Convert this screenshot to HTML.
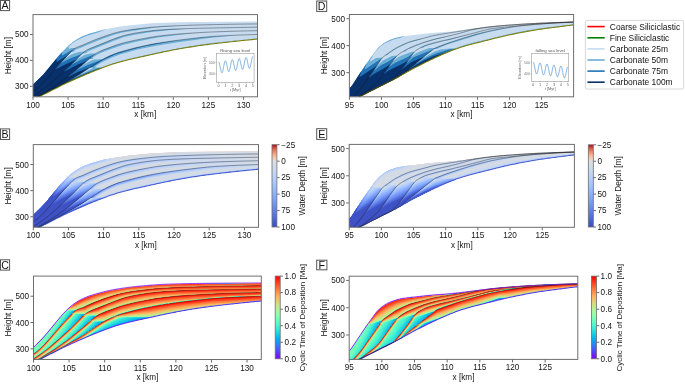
<!DOCTYPE html><html><head><meta charset="utf-8"><style>html,body{margin:0;padding:0;background:#fff;width:685px;height:386px;overflow:hidden}svg{display:block;font-family:"Liberation Sans",sans-serif}text{filter:grayscale(0)}</style></head><body><svg width="685" height="386" viewBox="0 0 685 386" font-family='"Liberation Sans", sans-serif'><defs><clipPath id="clipA"><rect x="33" y="14.6" width="224.5" height="82.2"/></clipPath><clipPath id="clipB"><rect x="33.3" y="144.6" width="225.2" height="82.7"/></clipPath><clipPath id="clipC"><rect x="33.5" y="276.1" width="227.8" height="83.4"/></clipPath><clipPath id="clipD"><rect x="349.4" y="14.5" width="224.2" height="82.3"/></clipPath><clipPath id="clipE"><rect x="349.2" y="144.4" width="225.2" height="82.9"/></clipPath><clipPath id="clipF"><rect x="349.2" y="276.2" width="228.6" height="83.2"/></clipPath></defs><rect width="685" height="386" fill="#fff"/><g clip-path="url(#clipA)"><path fill="#c6dbef" d="M257.38 21.38 191.38 21.88 153.88 23.12 133.38 24.88 119.88 26.62 103.88 29.62 88.88 33.88 79.38 37.88 72.62 42.12 68.62 45.38 60.38 53.88 45.38 72.12 40.38 77.62 33.12 84.62 33.12 96.62 39.38 96.62 61.62 85.12 86.62 73.88 107.62 65.62 123.88 60.62 165.12 51.38 189.62 46.88 216.88 43.12 249.12 39.62 257.12 39.12Z"/><path fill="#6baed6" d="M257.38 38.38 211.62 43.12 195.12 45.38 177.38 48.38 157.38 52.38 128.38 58.88 115.38 62.38 101.12 67.38 95.38 67.62 95.12 67.38 96.12 65.88 100.38 63.12 110.62 57.88 119.88 54.38 137.38 49.62 154.88 45.88 176.12 42.38 209.12 37.88 234.38 35.38 213.62 36.38 200.12 37.62 171.62 41.12 152.88 44.12 135.12 47.88 117.88 52.62 108.12 56.62 103.88 58.88 94.12 59.38 89.38 61.38 81.88 65.62 81.62 65.38 88.88 59.12 92.88 58.88 92.88 57.62 96.62 54.88 104.12 51.38 122.62 44.88 137.12 41.38 157.88 37.38 182.12 34.38 198.62 32.88 180.88 33.88 160.38 35.88 150.12 37.38 129.88 41.38 121.88 43.38 114.88 45.62 102.88 50.12 96.12 53.38 90.62 53.38 84.62 55.12 81.88 56.38 76.12 60.12 75.88 59.88 82.12 53.38 86.62 53.12 87.38 51.62 113.38 40.88 123.88 37.12 135.88 34.38 151.38 31.88 170.88 29.88 186.12 28.88 173.62 29.12 152.88 30.62 139.88 32.38 126.62 34.88 119.12 37.12 109.62 40.62 89.88 48.62 84.62 51.62 78.88 51.88 73.88 53.38 70.62 54.88 65.12 58.62 64.62 58.38 70.88 51.88 74.38 51.62 74.38 50.62 74.88 50.12 77.38 48.88 81.38 47.62 87.12 44.88 99.38 39.88 114.62 34.62 122.38 32.62 138.38 29.88 156.12 27.62 178.12 25.88 164.12 26.38 150.62 27.38 135.12 29.12 121.38 31.38 113.62 33.38 100.12 37.88 76.12 47.88 71.12 48.12 69.12 48.88 68.62 48.62 69.12 48.12 68.38 46.88 72.12 43.62 77.38 40.12 86.38 35.88 99.38 32.12 106.62 29.12 100.88 30.38 89.62 33.62 81.88 36.62 76.38 39.62 68.62 45.38 60.38 53.88 43.38 74.38 33.12 84.62 33.12 96.62 39.38 96.62 61.62 85.12 86.62 73.88 107.62 65.62 123.88 60.62 160.38 52.38 186.62 47.38 216.88 43.12 249.12 39.62 257.12 39.12ZM93.12 68.12 81.38 73.88 80.62 73.62 89.62 67.62 92.62 67.62Z"/><path fill="#2171b5" d="M176.62 40.62 152.88 44.12 135.12 47.88 120.38 51.88 110.38 55.62 101.62 60.12 89.12 64.38 76.62 70.12 76.12 69.88 87.88 59.88 89.62 58.62 90.62 58.62 90.62 57.62 94.12 54.62 80.62 60.12 71.62 64.62 71.38 64.38 82.12 53.38 83.88 52.88 83.88 52.12 83.12 52.88 78.12 55.38 71.12 58.12 60.88 63.12 60.88 62.38 71.38 51.38 72.12 51.38 72.12 50.38 73.62 49.12 62.38 55.62 61.88 55.38 62.38 51.88 58.88 55.62 43.38 74.38 33.12 84.62 33.12 96.62 39.38 96.62 67.88 82.12 89.62 72.62 103.38 67.38 98.62 68.12 90.62 70.88 80.12 75.62 74.38 77.88 73.88 77.62 82.38 72.62 89.62 67.62 93.38 67.12 93.88 66.12 102.38 60.62 115.38 54.62 132.12 49.62 146.38 46.12 159.62 43.38Z"/><path fill="#08306b" d="M100.62 68.38 87.12 73.12 67.38 81.62 67.12 81.38 67.62 80.88 79.12 74.62 89.62 67.62 91.62 67.12 91.88 66.38 77.88 71.88 68.62 76.38 68.38 76.12 86.88 60.88 77.88 64.62 64.38 71.38 64.12 71.12 76.38 59.38 65.12 64.38 55.12 69.62 54.88 69.38 58.88 64.62 67.38 55.62 56.62 62.12 56.62 58.38 43.38 74.38 33.12 84.62 33.12 96.62 39.38 96.62 67.88 82.12 86.62 73.88Z"/><path fill="none" stroke="#7d7d05" stroke-width="1.05" d="M33 99.78 34.41 99.08 35.82 98.38 37.24 97.69 38.65 96.99 40.06 96.29 41.47 95.58 42.88 94.86 44.3 94.14 45.71 93.43 47.12 92.71 48.53 92 49.94 91.28 51.36 90.57 52.77 89.85 54.18 89.14 55.59 88.42 57 87.7 58.42 86.98 59.83 86.26 61.24 85.56 62.65 84.87 64.06 84.18 65.47 83.5 66.89 82.83 68.3 82.18 69.71 81.54 71.12 80.91 72.53 80.29 73.95 79.67 75.36 79.05 76.77 78.42 78.18 77.79 79.59 77.16 81.01 76.54 82.42 75.92 83.83 75.31 85.24 74.71 86.65 74.11 88.07 73.52 89.48 72.93 90.89 72.34 92.3 71.77 93.71 71.19 95.13 70.63 96.54 70.06 97.95 69.5 99.36 68.94 100.77 68.4 102.19 67.86 103.6 67.34 105.01 66.82 106.42 66.31 107.83 65.8 109.25 65.3 110.66 64.81 112.07 64.32 113.48 63.86 114.89 63.4 116.31 62.97 117.72 62.55 119.13 62.14 120.54 61.75 121.95 61.37 123.36 61 124.78 60.64 126.19 60.29 127.6 59.94 129.01 59.6 130.42 59.26 131.84 58.92 133.25 58.6 134.66 58.27 136.07 57.96 137.48 57.65 138.9 57.34 140.31 57.04 141.72 56.73 143.13 56.42 144.54 56.12 145.96 55.8 147.37 55.49 148.78 55.17 150.19 54.85 151.6 54.54 153.02 54.22 154.43 53.9 155.84 53.59 157.25 53.28 158.66 52.98 160.08 52.68 161.49 52.38 162.9 52.08 164.31 51.79 165.72 51.49 167.14 51.2 168.55 50.92 169.96 50.64 171.37 50.36 172.78 50.09 174.19 49.83 175.61 49.57 177.02 49.32 178.43 49.06 179.84 48.81 181.25 48.55 182.67 48.31 184.08 48.06 185.49 47.82 186.9 47.58 188.31 47.34 189.73 47.11 191.14 46.88 192.55 46.65 193.96 46.43 195.37 46.21 196.79 45.99 198.2 45.78 199.61 45.58 201.02 45.38 202.43 45.18 203.85 44.99 205.26 44.8 206.67 44.62 208.08 44.43 209.49 44.26 210.91 44.08 212.32 43.91 213.73 43.74 215.14 43.57 216.55 43.4 217.97 43.24 219.38 43.08 220.79 42.92 222.2 42.76 223.61 42.6 225.03 42.44 226.44 42.29 227.85 42.13 229.26 41.98 230.67 41.82 232.08 41.67 233.5 41.51 234.91 41.36 236.32 41.2 237.73 41.05 239.14 40.9 240.56 40.75 241.97 40.6 243.38 40.45 244.79 40.31 246.2 40.16 247.62 40.02 249.03 39.88 250.44 39.75 251.85 39.61 253.26 39.48 254.68 39.35 256.09 39.23 257.5 39.1"/><path fill="none" stroke="#1a1a1a" stroke-opacity="0.75" stroke-width="0.55" d="M33 99.26 34.41 98.58 35.82 97.92 37.24 97.25 38.65 96.57 40.06 95.87 41.47 95.14 42.88 94.38 44.3 93.61 45.71 92.84 47.12 92.09 48.53 91.35 49.94 90.62 51.36 89.9 52.77 89.17 54.18 88.43 55.59 87.69 57 86.93 58.42 86.18 59.83 85.41 61.24 84.65 62.65 83.87 64.06 83.09 65.47 82.3 66.89 81.51 68.3 80.73 69.71 79.95 71.12 79.18 72.53 78.4 73.95 77.61 75.36 76.81 76.77 76 78.18 75.18 79.59 74.35 81.01 73.5 82.42 72.62 83.83 71.71 85.24 70.77 86.65 69.81 88.07 68.86 89.48 67.91 90.89 66.97 92.3 66.02 93.71 65.07 95.13 64.14 96.54 63.22 97.95 62.3 99.36 61.37 100.77 60.47 102.19 59.62 103.6 58.83 105.01 58.1 106.42 57.41 107.83 56.75 109.25 56.11 110.66 55.49 112.07 54.87 113.48 54.27 114.89 53.7 116.31 53.16 117.72 52.67 119.13 52.22 120.54 51.8 121.95 51.4 123.36 51.01 124.78 50.61 126.19 50.22 127.6 49.84 129.01 49.45 130.42 49.08 131.84 48.71 133.25 48.34 134.66 47.99 136.07 47.65 137.48 47.31 138.9 46.99 140.31 46.68 141.72 46.37 143.13 46.07 144.54 45.77 145.96 45.47 147.37 45.18 148.78 44.9 150.19 44.63 151.6 44.35 153.02 44.09 154.43 43.83 155.84 43.58 157.25 43.33 158.66 43.1 160.08 42.86 161.49 42.64 162.9 42.41 164.31 42.19 165.72 41.98 167.14 41.77 168.55 41.56 169.96 41.36 171.37 41.16 172.78 40.96 174.19 40.76 175.61 40.57 177.02 40.39 178.43 40.2 179.84 40.02 181.25 39.84 182.67 39.67 184.08 39.49 185.49 39.32 186.9 39.16 188.31 38.99 189.73 38.82 191.14 38.66 192.55 38.49 193.96 38.32 195.37 38.16 196.79 38 198.2 37.84 199.61 37.68 201.02 37.52 202.43 37.37 203.85 37.23 205.26 37.08 206.67 36.95 208.08 36.82 209.49 36.69 210.91 36.57 212.32 36.46 213.73 36.36 215.14 36.27 216.55 36.18 217.97 36.1 219.38 36.02 220.79 35.94 222.2 35.86 223.61 35.78 225.03 35.71 226.44 35.64 227.85 35.57 229.26 35.51 230.67 35.44 232.08 35.38 233.5 35.32 234.91 35.26 236.32 35.2 237.73 35.14 239.14 35.08 240.56 35.03 241.97 34.98 243.38 34.92 244.79 34.87 246.2 34.82 247.62 34.77 249.03 34.72 250.44 34.67 251.85 34.63 253.26 34.58 254.68 34.53 256.09 34.48 257.5 34.44"/><path fill="none" stroke="#1a1a1a" stroke-opacity="0.75" stroke-width="0.55" d="M33 98.74 34.41 98.03 35.82 97.31 37.24 96.59 38.65 95.85 40.06 95.09 41.47 94.29 42.88 93.47 44.3 92.63 45.71 91.77 47.12 90.91 48.53 90.05 49.94 89.18 51.36 88.3 52.77 87.39 54.18 86.47 55.59 85.51 57 84.53 58.42 83.53 59.83 82.52 61.24 81.5 62.65 80.48 64.06 79.46 65.47 78.42 66.89 77.36 68.3 76.27 69.71 75.15 71.12 74.01 72.53 72.84 73.95 71.68 75.36 70.52 76.77 69.38 78.18 68.24 79.59 67.1 81.01 65.95 82.42 64.78 83.83 63.58 85.24 62.38 86.65 61.16 88.07 59.96 89.48 58.77 90.89 57.55 92.3 56.31 93.71 55.11 95.13 54.03 96.54 53.13 97.95 52.35 99.36 51.65 100.77 51.01 102.19 50.4 103.6 49.81 105.01 49.26 106.42 48.74 107.83 48.24 109.25 47.74 110.66 47.22 112.07 46.69 113.48 46.15 114.89 45.61 116.31 45.11 117.72 44.64 119.13 44.19 120.54 43.76 121.95 43.34 123.36 42.95 124.78 42.59 126.19 42.24 127.6 41.9 129.01 41.57 130.42 41.25 131.84 40.94 133.25 40.63 134.66 40.34 136.07 40.05 137.48 39.77 138.9 39.49 140.31 39.22 141.72 38.94 143.13 38.67 144.54 38.4 145.96 38.13 147.37 37.87 148.78 37.61 150.19 37.36 151.6 37.12 153.02 36.89 154.43 36.67 155.84 36.45 157.25 36.26 158.66 36.07 160.08 35.9 161.49 35.73 162.9 35.57 164.31 35.41 165.72 35.26 167.14 35.11 168.55 34.97 169.96 34.83 171.37 34.69 172.78 34.56 174.19 34.43 175.61 34.31 177.02 34.19 178.43 34.07 179.84 33.96 181.25 33.85 182.67 33.74 184.08 33.63 185.49 33.53 186.9 33.43 188.31 33.33 189.73 33.24 191.14 33.14 192.55 33.05 193.96 32.96 195.37 32.87 196.79 32.78 198.2 32.7 199.61 32.61 201.02 32.53 202.43 32.45 203.85 32.38 205.26 32.3 206.67 32.23 208.08 32.16 209.49 32.09 210.91 32.03 212.32 31.97 213.73 31.91 215.14 31.85 216.55 31.8 217.97 31.75 219.38 31.7 220.79 31.65 222.2 31.6 223.61 31.55 225.03 31.5 226.44 31.46 227.85 31.41 229.26 31.37 230.67 31.32 232.08 31.28 233.5 31.24 234.91 31.2 236.32 31.16 237.73 31.12 239.14 31.08 240.56 31.05 241.97 31.01 243.38 30.98 244.79 30.94 246.2 30.91 247.62 30.88 249.03 30.85 250.44 30.82 251.85 30.79 253.26 30.76 254.68 30.73 256.09 30.7 257.5 30.68"/><path fill="none" stroke="#1a1a1a" stroke-opacity="0.75" stroke-width="0.55" d="M33 96.15 34.41 95.27 35.82 94.36 37.24 93.41 38.65 92.44 40.06 91.45 41.47 90.46 42.88 89.44 44.3 88.4 45.71 87.33 47.12 86.23 48.53 85.08 49.94 83.89 51.36 82.68 52.77 81.45 54.18 80.22 55.59 78.99 57 77.74 58.42 76.49 59.83 75.23 61.24 73.95 62.65 72.67 64.06 71.37 65.47 70.06 66.89 68.75 68.3 67.42 69.71 66.09 71.12 64.75 72.53 63.39 73.95 62.02 75.36 60.62 76.77 59.15 78.18 57.62 79.59 56.11 81.01 54.67 82.42 53.35 83.83 52.11 85.24 51.02 86.65 50.17 88.07 49.45 89.48 48.8 90.89 48.19 92.3 47.61 93.71 47.06 95.13 46.51 96.54 45.94 97.95 45.37 99.36 44.8 100.77 44.22 102.19 43.65 103.6 43.07 105.01 42.49 106.42 41.91 107.83 41.33 109.25 40.76 110.66 40.21 112.07 39.67 113.48 39.15 114.89 38.63 116.31 38.12 117.72 37.62 119.13 37.12 120.54 36.62 121.95 36.14 123.36 35.7 124.78 35.33 126.19 34.98 127.6 34.64 129.01 34.33 130.42 34.03 131.84 33.74 133.25 33.47 134.66 33.22 136.07 32.97 137.48 32.74 138.9 32.52 140.31 32.3 141.72 32.09 143.13 31.88 144.54 31.68 145.96 31.48 147.37 31.29 148.78 31.11 150.19 30.93 151.6 30.76 153.02 30.6 154.43 30.46 155.84 30.32 157.25 30.19 158.66 30.08 160.08 29.97 161.49 29.87 162.9 29.78 164.31 29.68 165.72 29.59 167.14 29.51 168.55 29.42 169.96 29.35 171.37 29.27 172.78 29.2 174.19 29.13 175.61 29.06 177.02 28.99 178.43 28.93 179.84 28.87 181.25 28.82 182.67 28.76 184.08 28.71 185.49 28.66 186.9 28.62 188.31 28.57 189.73 28.53 191.14 28.49 192.55 28.45 193.96 28.41 195.37 28.38 196.79 28.34 198.2 28.31 199.61 28.28 201.02 28.25 202.43 28.22 203.85 28.19 205.26 28.16 206.67 28.13 208.08 28.1 209.49 28.07 210.91 28.05 212.32 28.02 213.73 27.99 215.14 27.96 216.55 27.93 217.97 27.9 219.38 27.87 220.79 27.84 222.2 27.81 223.61 27.78 225.03 27.75 226.44 27.72 227.85 27.69 229.26 27.66 230.67 27.64 232.08 27.61 233.5 27.58 234.91 27.55 236.32 27.52 237.73 27.5 239.14 27.47 240.56 27.44 241.97 27.42 243.38 27.39 244.79 27.37 246.2 27.34 247.62 27.32 249.03 27.3 250.44 27.27 251.85 27.25 253.26 27.23 254.68 27.21 256.09 27.19 257.5 27.18"/><path fill="none" stroke="#1a1a1a" stroke-opacity="0.75" stroke-width="0.55" d="M33 91.48 34.41 90.45 35.82 89.36 37.24 88.21 38.65 87 40.06 85.74 41.47 84.4 42.88 82.97 44.3 81.48 45.71 79.96 47.12 78.42 48.53 76.85 49.94 75.24 51.36 73.6 52.77 71.96 54.18 70.33 55.59 68.7 57 67.07 58.42 65.44 59.83 63.83 61.24 62.25 62.65 60.69 64.06 59.15 65.47 57.63 66.89 56.15 68.3 54.7 69.71 53.19 71.12 51.65 72.53 50.21 73.95 48.96 75.36 48.03 76.77 47.34 78.18 46.78 79.59 46.27 81.01 45.77 82.42 45.2 83.83 44.58 85.24 43.94 86.65 43.3 88.07 42.67 89.48 42.07 90.89 41.47 92.3 40.89 93.71 40.32 95.13 39.76 96.54 39.21 97.95 38.67 99.36 38.14 100.77 37.62 102.19 37.11 103.6 36.62 105.01 36.13 106.42 35.65 107.83 35.19 109.25 34.73 110.66 34.28 112.07 33.84 113.48 33.41 114.89 32.99 116.31 32.59 117.72 32.23 119.13 31.88 120.54 31.56 121.95 31.25 123.36 30.96 124.78 30.7 126.19 30.46 127.6 30.22 129.01 30 130.42 29.78 131.84 29.57 133.25 29.37 134.66 29.18 136.07 29 137.48 28.82 138.9 28.65 140.31 28.49 141.72 28.32 143.13 28.16 144.54 28 145.96 27.84 147.37 27.69 148.78 27.55 150.19 27.4 151.6 27.27 153.02 27.14 154.43 27.02 155.84 26.9 157.25 26.8 158.66 26.7 160.08 26.61 161.49 26.52 162.9 26.44 164.31 26.36 165.72 26.28 167.14 26.2 168.55 26.13 169.96 26.06 171.37 26 172.78 25.93 174.19 25.87 175.61 25.81 177.02 25.75 178.43 25.69 179.84 25.64 181.25 25.58 182.67 25.53 184.08 25.48 185.49 25.43 186.9 25.38 188.31 25.33 189.73 25.28 191.14 25.23 192.55 25.19 193.96 25.14 195.37 25.1 196.79 25.05 198.2 25.01 199.61 24.97 201.02 24.93 202.43 24.89 203.85 24.85 205.26 24.82 206.67 24.78 208.08 24.75 209.49 24.71 210.91 24.68 212.32 24.65 213.73 24.62 215.14 24.59 216.55 24.56 217.97 24.53 219.38 24.5 220.79 24.48 222.2 24.45 223.61 24.42 225.03 24.39 226.44 24.37 227.85 24.34 229.26 24.31 230.67 24.29 232.08 24.26 233.5 24.24 234.91 24.21 236.32 24.19 237.73 24.17 239.14 24.15 240.56 24.12 241.97 24.1 243.38 24.08 244.79 24.07 246.2 24.05 247.62 24.03 249.03 24.01 250.44 24 251.85 23.98 253.26 23.97 254.68 23.96 256.09 23.95 257.5 23.94"/></g><rect x="33" y="14.6" width="224.5" height="82.2" fill="none" stroke="#6e6e6e" stroke-width="1"/><path d="M33 97.2v2.6" stroke="#444" stroke-width="0.8"/><text x="33" y="107.8" font-size="8.2" text-anchor="middle" fill="#141414">100</text><path d="M68.08 97.2v2.6" stroke="#444" stroke-width="0.8"/><text x="68.08" y="107.8" font-size="8.2" text-anchor="middle" fill="#141414">105</text><path d="M103.16 97.2v2.6" stroke="#444" stroke-width="0.8"/><text x="103.16" y="107.8" font-size="8.2" text-anchor="middle" fill="#141414">110</text><path d="M138.23 97.2v2.6" stroke="#444" stroke-width="0.8"/><text x="138.23" y="107.8" font-size="8.2" text-anchor="middle" fill="#141414">115</text><path d="M173.31 97.2v2.6" stroke="#444" stroke-width="0.8"/><text x="173.31" y="107.8" font-size="8.2" text-anchor="middle" fill="#141414">120</text><path d="M208.39 97.2v2.6" stroke="#444" stroke-width="0.8"/><text x="208.39" y="107.8" font-size="8.2" text-anchor="middle" fill="#141414">125</text><path d="M243.47 97.2v2.6" stroke="#444" stroke-width="0.8"/><text x="243.47" y="107.8" font-size="8.2" text-anchor="middle" fill="#141414">130</text><path d="M32.6 86.3h-2.6" stroke="#444" stroke-width="0.8"/><text x="28.6" y="89.3" font-size="8.2" text-anchor="end" fill="#141414">300</text><path d="M32.6 60.37h-2.6" stroke="#444" stroke-width="0.8"/><text x="28.6" y="63.37" font-size="8.2" text-anchor="end" fill="#141414">400</text><path d="M32.6 34.44h-2.6" stroke="#444" stroke-width="0.8"/><text x="28.6" y="37.44" font-size="8.2" text-anchor="end" fill="#141414">500</text><text x="145.25" y="117.4" font-size="8.2" text-anchor="middle" fill="#141414">x [km]</text><text x="10.9" y="55.7" font-size="8.2" text-anchor="middle" fill="#141414" transform="rotate(-90 10.9 55.7)">Height [m]</text><rect x="0.5" y="0.5" width="9.1" height="10.1" fill="#fff" stroke="#555" stroke-width="1"/><text x="5.05" y="9.3" font-size="10.6" text-anchor="middle" fill="#111">A</text><g clip-path="url(#clipB)"><path fill="#f49a7b" d="M258.38 151.38 181.38 152.12 151.88 153.38 130.12 155.38 113.38 157.88 102.62 160.12 86.88 164.88 82.62 166.62 76.62 169.88 68.12 176.38 60.12 184.88 45.38 202.88 39.62 209.12 33.38 215.12 33.38 227.12 39.62 227.12 61.88 215.62 82.12 206.38 102.88 197.88 113.38 194.12 123.62 191.12 162.12 182.38 191.62 176.88 221.38 172.88 258.38 169.12Z"/><path fill="#dadce0" d="M258.38 151.38 181.38 152.12 151.88 153.38 130.12 155.38 113.38 157.88 102.62 160.12 86.88 164.88 82.62 166.62 76.62 169.88 68.12 176.38 60.12 184.88 45.38 202.88 39.62 209.12 33.38 215.12 33.38 227.12 39.62 227.12 61.88 215.62 82.12 206.38 102.88 197.88 113.38 194.12 123.62 191.12 162.12 182.38 191.62 176.88 221.38 172.88 258.38 169.12Z"/><path fill="#d5dbe5" d="M258.38 151.38 181.38 152.12 151.88 153.38 130.12 155.38 113.38 157.88 102.62 160.12 86.88 164.88 82.62 166.62 76.62 169.88 68.12 176.38 60.12 184.88 45.38 202.88 39.62 209.12 33.38 215.12 33.38 227.12 39.62 227.12 61.88 215.62 82.12 206.38 102.88 197.88 113.38 194.12 123.62 191.12 162.12 182.38 191.62 176.88 221.38 172.88 258.38 169.12Z"/><path fill="#cfdaea" d="M258.38 153.12 213.12 153.62 174.38 154.88 153.88 156.12 133.88 158.38 122.12 160.38 112.62 162.88 94.88 169.12 75.62 177.38 71.12 177.12 77.12 172.62 83.88 169.12 89.88 166.88 98.38 164.38 114.12 160.38 118.12 158.38 119.12 157.12 113.38 157.88 103.62 159.88 92.12 163.12 82.62 166.62 76.62 169.88 70.12 174.62 64.62 179.88 58.62 186.62 45.38 202.88 39.62 209.12 33.38 215.12 33.38 227.12 39.62 227.12 61.88 215.62 82.12 206.38 102.88 197.88 113.38 194.12 123.62 191.12 162.12 182.38 191.62 176.88 221.38 172.88 258.38 169.12 258.38 163.62 242.38 164.12 236.62 163.88 256.38 162.12 258.38 161.62 258.38 159.88 234.12 159.88 245.38 158.62 250.38 157.12 258.38 157.12 258.38 156.38 228.88 156.38 235.12 155.62 238.88 154.88 240.62 154.12 258.38 153.88ZM90.38 198.62 89.12 199.38 88.62 199.12 89.88 198.12ZM90.12 189.88 88.12 191.12 87.62 190.88 89.12 189.62ZM81.38 184.88 82.38 183.88 83.62 184.12 81.88 185.12ZM70.12 183.38 70.88 182.38 71.88 182.62 70.62 183.62ZM247.38 168.62 207.62 172.38 189.38 174.88 168.38 178.38 148.62 182.38 127.88 187.12 114.12 191.12 105.62 194.38 100.38 196.88 97.62 196.62 103.62 192.62 117.62 186.38 137.62 180.88 154.38 177.38 176.62 173.88 207.88 170.12 233.62 168.38ZM216.88 165.12 180.38 169.12 151.38 173.62 138.38 176.38 118.88 181.62 110.12 185.12 103.88 188.38 95.12 188.12 96.88 186.62 101.38 184.38 119.38 177.62 129.62 174.88 146.62 171.38 158.62 169.38 177.12 167.38 208.12 165.12ZM124.38 164.62 111.62 169.12 90.62 177.62 86.62 179.62 84.62 181.12 77.62 180.88 78.12 180.38 82.62 178.88 93.62 173.88 105.62 169.38 117.62 165.62 123.12 164.38ZM198.12 161.62 168.12 164.12 154.12 165.88 128.62 170.88 118.62 173.62 103.12 179.38 96.62 182.62 90.12 182.38 90.62 181.88 106.62 175.38 121.88 169.62 135.62 166.38 150.62 164.12 160.38 163.12 186.88 161.62Z"/><path fill="#cad8ef" d="M258.38 153.38 215.12 153.88 175.38 155.12 157.38 156.12 136.12 158.38 121.12 160.88 110.38 163.88 95.62 169.12 82.12 175.12 78.12 176.38 75.88 177.62 70.88 177.62 70.38 177.12 76.38 172.62 82.88 169.12 91.62 165.88 112.12 159.88 115.62 158.12 116.38 157.38 105.88 159.38 92.12 163.12 82.62 166.62 76.62 169.88 70.12 174.62 64.62 179.88 58.62 186.62 45.38 202.88 39.62 209.12 33.38 215.12 33.38 227.12 39.62 227.12 61.88 215.62 82.12 206.38 102.88 197.88 113.38 194.12 123.62 191.12 162.12 182.38 191.62 176.88 221.38 172.88 258.38 169.12 258.38 168.12 237.38 170.12 208.88 173.38 185.62 176.88 165.62 180.62 134.88 187.38 115.62 192.38 103.38 196.88 97.38 197.12 97.38 196.38 105.12 191.62 116.38 186.62 139.88 180.12 155.62 176.88 179.88 173.12 206.12 169.88 244.38 167.12 258.38 165.62 258.38 163.88 223.12 165.12 204.12 166.62 169.62 170.88 152.88 173.62 129.62 178.88 116.12 182.88 109.12 185.88 103.88 188.62 94.88 188.62 94.62 188.12 97.62 185.88 105.38 182.38 110.88 180.62 116.88 178.12 125.12 175.62 152.62 169.88 165.12 168.12 185.12 166.12 232.12 162.88 244.12 161.62 247.62 160.88 258.38 160.62 258.38 160.12 248.12 160.12 212.62 161.12 182.62 163.12 159.62 165.38 138.12 169.12 122.88 172.62 106.38 178.38 100.88 180.62 96.88 182.88 89.62 182.88 89.62 182.12 111.38 173.12 123.88 168.62 139.12 165.38 160.38 162.62 178.62 161.38 217.38 159.62 231.12 158.38 236.62 157.38 258.38 157.12 258.38 156.62 223.88 157.12 201.62 156.88 215.38 155.88 230.12 154.12 258.38 153.88ZM91.38 198.38 91.12 198.88 86.88 200.88 86.38 200.62 89.88 198.12ZM91.12 189.88 86.38 192.62 85.88 192.38 89.12 189.62ZM84.62 184.12 80.12 186.88 79.62 186.62 82.38 183.88ZM72.88 182.62 68.88 185.38 68.38 185.12 71.12 182.12 72.12 182.12ZM130.62 163.12 128.38 164.12 122.88 165.38 112.38 169.12 89.62 178.38 86.62 179.88 84.62 181.38 76.88 181.12 77.88 180.12 81.88 178.88 91.62 174.38 105.38 169.12 120.12 164.62 129.12 162.88Z"/><path fill="#c3d5f4" d="M258.38 153.62 216.88 154.12 176.38 155.38 157.88 156.38 136.38 158.62 123.62 160.62 112.88 163.38 96.38 169.12 81.62 175.62 77.62 176.88 75.38 178.12 70.62 178.12 69.88 177.12 73.88 173.88 80.38 169.88 86.62 167.12 106.38 161.12 113.38 158.12 103.62 159.88 92.12 163.12 82.62 166.62 76.62 169.88 70.12 174.62 64.62 179.88 58.62 186.62 45.38 202.88 39.62 209.12 33.38 215.12 33.38 227.12 39.62 227.12 61.88 215.62 82.12 206.38 102.88 197.88 113.38 194.12 123.62 191.12 162.12 182.38 191.62 176.88 221.38 172.88 258.38 169.12 258.38 168.38 256.12 168.38 207.88 173.62 184.88 177.12 167.38 180.38 132.12 188.12 116.88 192.12 102.88 197.12 96.88 197.62 96.62 197.12 97.12 196.38 103.38 192.38 115.88 186.62 132.88 181.62 145.62 178.62 165.88 174.88 194.62 170.88 214.12 168.62 243.12 166.38 258.38 164.38 247.88 164.38 212.88 166.12 187.12 168.88 163.38 172.12 144.38 175.62 121.62 181.38 114.38 183.88 103.88 188.88 94.62 188.88 94.12 188.38 96.62 186.12 102.12 183.38 114.62 178.62 123.88 175.62 150.38 169.88 174.12 166.62 222.38 162.62 234.62 161.12 258.38 160.62 239.38 160.62 210.88 161.62 179.88 163.62 158.12 165.88 140.88 168.88 123.12 172.88 105.12 179.12 99.88 181.38 96.88 183.12 89.12 183.12 88.62 182.38 109.88 173.38 124.38 168.12 131.62 166.38 144.38 164.12 166.38 161.62 209.38 159.12 224.12 157.62 258.38 157.12 248.62 156.88 212.88 157.62 190.62 157.62 173.62 158.12 173.62 157.62 191.88 156.62 217.38 154.38 245.38 154.12ZM92.38 198.38 85.12 202.12 84.38 201.88 89.88 198.12ZM91.62 189.88 85.38 193.62 84.88 193.38 89.38 189.38 91.12 189.38ZM85.38 184.12 79.38 187.88 78.62 187.88 82.62 183.62 84.62 183.62ZM73.62 182.38 73.38 182.88 68.12 186.38 67.12 186.38 71.12 182.12ZM143.38 160.88 133.38 163.38 128.88 164.12 119.38 166.88 92.62 177.38 87.12 179.88 84.62 181.62 76.62 181.62 76.12 180.88 77.62 179.88 82.88 178.12 95.12 172.62 104.38 169.12 115.88 165.38 122.88 163.62 131.12 162.12 141.88 160.62Z"/><path fill="#bcd2f7" d="M258.38 168.38 214.88 172.88 197.88 175.12 179.88 178.12 159.62 182.12 132.62 188.12 116.38 192.38 102.38 197.38 96.38 197.62 96.12 197.38 97.12 196.12 103.88 191.88 116.62 186.12 131.12 181.88 146.88 178.12 168.88 174.12 199.38 169.88 216.88 167.88 237.88 166.12 246.12 164.88 249.12 164.88 231.12 165.38 210.38 166.62 187.38 169.12 163.62 172.38 141.12 176.62 125.38 180.62 116.38 183.38 103.88 189.12 94.12 189.12 93.88 187.88 96.12 186.12 105.62 181.62 121.88 175.88 138.38 171.88 152.12 169.12 167.62 166.88 220.12 161.62 225.12 161.62 207.62 162.12 183.62 163.62 162.38 165.62 150.38 167.38 133.62 170.62 120.62 173.88 104.62 179.62 96.88 183.38 88.38 183.62 88.12 182.38 90.12 181.12 121.62 168.62 132.12 165.88 151.62 162.62 175.62 160.38 211.88 157.88 249.62 157.38 179.12 158.38 163.62 159.12 152.62 160.12 133.88 163.38 123.12 165.88 110.62 170.38 97.12 176.12 92.12 177.88 86.38 180.62 84.62 181.88 76.12 182.12 75.62 181.88 75.88 180.38 82.12 178.12 91.88 173.62 104.12 168.88 114.62 165.38 123.38 163.12 138.38 160.62 156.88 158.38 184.62 156.38 199.12 154.88 206.12 154.88 183.62 155.38 158.38 156.62 140.88 158.38 126.62 160.38 116.38 162.62 103.88 166.62 92.12 171.12 82.38 175.62 78.38 176.88 75.88 178.12 70.38 178.38 69.38 177.12 73.88 173.38 78.62 170.38 87.38 166.38 99.62 162.88 109.62 159.12 110.88 158.38 102.62 160.12 92.12 163.12 82.62 166.62 73.62 171.88 68.12 176.38 60.12 184.88 45.38 202.88 39.62 209.12 33.38 215.12 33.38 227.12 39.62 227.12 61.88 215.62 82.12 206.38 102.88 197.88 113.38 194.12 123.62 191.12 162.12 182.38 187.12 177.62 212.88 173.88 249.12 169.88 258.38 169.12ZM92.88 198.38 84.12 202.88 83.38 202.62 89.88 198.12ZM92.62 189.88 83.88 194.88 83.38 194.62 89.38 189.38 92.12 189.38ZM87.12 183.88 86.62 184.38 83.62 185.38 78.12 189.12 77.62 188.88 82.62 183.62ZM75.88 182.12 75.62 182.62 72.12 183.88 66.38 187.88 66.12 187.62 71.12 182.12Z"/><path fill="#b3cdfb" d="M258.38 168.62 245.62 169.62 211.88 173.38 192.38 176.12 177.88 178.62 159.12 182.38 131.12 188.62 116.88 192.38 101.88 197.62 95.88 197.88 95.62 197.62 96.38 196.38 102.12 192.62 114.12 186.88 122.12 184.12 138.88 179.62 156.62 175.88 174.62 172.88 211.12 167.88 234.12 165.62 220.62 166.12 204.62 167.38 175.38 170.88 153.12 174.38 136.62 177.88 118.38 182.88 108.12 187.12 104.38 189.12 94.88 189.62 92.12 190.62 82.38 195.88 82.12 195.62 89.38 189.38 93.38 189.12 93.38 187.88 97.12 185.12 105.88 181.12 123.88 174.88 140.88 170.88 157.88 167.62 172.88 165.62 200.38 162.88 180.12 164.12 162.12 165.88 151.62 167.38 132.38 171.12 117.38 175.12 102.12 180.88 96.62 183.62 90.88 183.62 86.38 184.88 81.88 186.88 76.62 190.38 76.38 190.12 82.62 183.62 87.12 183.38 87.38 182.12 92.12 179.88 103.88 175.38 111.12 172.12 125.88 166.88 135.88 164.62 152.88 161.88 169.88 160.12 187.88 158.88 176.12 159.12 157.12 160.38 142.88 162.12 128.88 164.62 123.88 165.88 111.88 170.12 87.62 180.12 85.12 181.88 79.12 182.12 74.38 183.62 70.62 185.38 65.88 188.62 65.38 188.38 71.12 182.12 74.62 181.88 75.12 181.62 74.88 180.88 77.12 179.38 82.88 177.38 89.12 174.38 99.62 170.12 115.62 164.62 125.88 162.12 143.38 159.38 160.12 157.38 179.62 155.88 152.12 157.38 134.62 159.38 121.38 161.62 115.38 163.12 102.38 167.38 92.62 171.12 82.88 175.62 77.62 177.38 76.38 178.12 71.12 178.38 69.12 179.38 68.88 178.88 69.38 177.88 68.88 176.88 73.12 173.38 77.62 170.38 82.88 167.62 87.88 165.62 99.38 162.38 105.88 159.88 107.12 159.12 102.62 160.12 92.12 163.12 82.62 166.62 73.62 171.88 68.12 176.38 60.12 184.88 45.38 202.88 39.62 209.12 33.38 215.12 33.38 227.12 39.62 227.12 61.88 215.62 82.12 206.38 102.88 197.88 113.38 194.12 123.62 191.12 162.12 182.38 187.12 177.62 212.88 173.88 249.12 169.88 258.38 169.12ZM93.62 198.38 82.62 203.88 81.38 203.88 89.88 198.12Z"/><path fill="#abc8fd" d="M258.38 168.62 232.88 171.12 203.38 174.62 182.88 177.88 163.38 181.62 124.62 190.38 117.38 192.38 102.38 197.62 94.88 198.38 79.88 205.12 79.88 204.62 82.62 203.12 90.12 197.88 94.88 197.88 96.38 196.12 100.12 193.62 107.88 189.38 116.62 185.62 132.88 180.88 153.62 176.12 169.12 173.38 204.88 168.12 223.38 166.12 207.12 167.12 179.12 170.38 155.88 173.88 142.12 176.62 118.38 182.88 108.12 187.12 103.88 189.38 99.38 189.38 94.88 190.12 88.88 192.62 83.62 195.88 80.88 197.12 80.62 196.88 89.38 189.38 92.62 189.12 92.88 188.12 94.38 186.62 98.62 183.88 104.88 181.12 122.38 174.88 134.12 171.88 154.62 167.62 169.88 165.38 182.12 164.12 171.62 164.88 154.62 166.88 135.88 170.38 123.12 173.38 105.88 179.38 99.88 181.88 96.88 183.62 91.62 183.88 86.12 185.62 81.38 187.62 77.62 190.38 75.62 191.38 75.38 191.12 82.62 183.62 86.12 183.38 86.62 183.12 86.62 182.12 91.12 179.88 121.88 167.62 133.38 164.62 148.88 161.88 160.38 160.38 170.12 159.62 157.12 160.38 146.38 161.62 132.38 163.88 123.88 165.88 111.88 170.12 87.62 180.12 84.62 182.12 79.88 182.38 73.62 184.62 69.88 186.38 64.62 189.88 64.12 189.62 71.38 181.88 73.88 181.88 74.38 181.62 74.62 180.38 77.38 178.88 83.12 176.88 91.12 173.12 106.62 167.12 118.38 163.38 127.12 161.38 148.12 158.12 160.62 156.88 152.12 157.38 134.62 159.38 126.38 160.62 115.38 163.12 96.38 169.62 75.88 178.38 71.62 178.62 67.88 180.62 67.38 180.38 67.62 178.88 68.62 178.38 68.12 177.12 72.38 173.38 78.38 169.38 86.38 165.62 100.62 161.38 104.12 159.88 92.12 163.12 82.62 166.62 73.62 171.88 68.12 176.38 60.12 184.88 45.38 202.88 39.62 209.12 33.38 215.12 33.38 227.12 39.62 227.12 61.88 215.62 82.12 206.38 102.88 197.88 113.38 194.12 123.62 191.12 162.12 182.38 187.12 177.62 212.88 173.88 249.12 169.88 258.38 169.12Z"/><path fill="#a2c1ff" d="M78.88 168.62 73.62 171.88 71.88 173.38 73.62 171.88ZM258.38 168.88 238.88 170.62 202.62 174.88 186.62 177.38 162.88 181.88 122.38 191.12 111.62 194.38 103.12 197.62 96.12 198.38 90.12 200.62 84.88 203.38 78.12 206.12 78.12 205.62 82.62 203.12 90.12 197.88 94.88 197.62 95.62 196.38 103.88 191.12 114.12 186.38 120.38 184.12 137.62 179.38 155.88 175.38 181.12 171.12 211.62 166.88 195.62 168.38 166.62 172.12 153.12 174.38 136.62 177.88 117.62 183.12 108.12 187.12 103.88 189.38 99.12 189.62 94.62 190.88 87.38 193.88 83.88 196.12 79.88 197.88 79.62 197.62 89.62 189.12 92.38 188.88 92.38 188.12 96.62 184.62 105.12 180.62 109.88 179.12 115.88 176.62 128.12 172.88 153.12 167.38 163.62 165.88 158.12 166.38 146.12 168.38 132.38 171.12 121.38 173.88 105.88 179.38 99.88 181.88 96.88 183.62 92.12 184.12 90.12 185.12 84.62 186.88 80.12 188.88 77.12 191.12 74.62 192.38 74.38 192.12 82.88 183.38 85.38 183.38 85.88 183.12 85.88 182.38 89.62 180.12 101.88 175.38 109.12 172.12 126.12 165.88 137.12 163.38 151.62 161.12 132.38 163.88 123.88 165.88 119.38 167.38 90.88 178.62 87.62 180.12 84.62 182.12 81.38 182.38 74.12 185.12 68.38 187.88 63.62 190.88 63.12 190.62 71.38 181.88 73.88 181.62 73.88 180.62 75.12 179.62 78.88 177.88 83.38 176.38 91.38 172.62 103.38 167.88 116.62 163.38 127.12 160.88 142.12 158.62 126.38 160.62 115.38 163.12 96.38 169.62 82.88 175.62 77.62 177.38 75.38 178.62 71.88 178.88 66.62 181.88 66.12 181.62 66.38 178.88 67.88 178.12 67.62 176.88 68.12 176.38 60.12 184.88 45.38 202.88 39.62 209.12 33.38 215.12 33.38 227.12 39.62 227.12 61.88 215.62 82.12 206.38 102.88 197.88 113.38 194.12 123.62 191.12 162.12 182.38 191.62 176.88 212.88 173.88 249.12 169.88 256.88 169.38Z"/><path fill="#98b9ff" d="M67.12 177.38 65.88 178.62 67.38 178.12ZM33.38 227.12 39.62 227.12 61.88 215.62 82.12 206.38 102.88 197.88 113.38 194.12 123.62 191.12 162.12 182.38 191.62 176.88 212.88 173.88 249.12 169.88 256.88 169.38 258.38 168.88 237.88 170.88 201.88 175.12 183.12 178.12 163.62 181.88 129.88 189.38 115.88 193.12 103.62 197.62 97.38 198.38 89.62 201.12 84.38 203.88 76.88 206.88 76.88 206.38 82.62 203.12 90.12 197.88 94.38 197.62 95.62 196.12 103.88 190.88 114.12 186.12 120.38 183.88 140.62 178.38 158.12 174.62 183.38 170.38 199.38 168.12 187.12 169.38 163.38 172.62 145.62 175.88 132.62 178.88 117.62 183.12 108.12 187.12 103.38 189.62 99.38 189.88 94.88 191.38 85.88 195.12 84.12 196.38 78.62 198.88 78.38 198.62 89.62 189.12 91.88 188.88 91.88 188.12 94.62 185.62 97.12 183.88 101.12 181.88 122.12 174.12 131.38 171.62 144.38 168.88 130.12 171.62 117.38 175.12 102.12 180.88 96.38 183.88 93.62 184.12 82.62 188.38 73.88 193.12 73.62 192.88 82.88 183.38 85.38 183.12 85.38 182.12 86.38 181.38 91.62 178.88 120.12 167.38 128.12 164.88 133.38 163.88 123.88 165.88 111.88 170.12 87.62 180.12 84.38 182.38 81.88 182.62 79.62 183.88 72.88 186.38 62.88 191.62 62.62 191.38 71.38 181.88 73.38 181.62 73.38 180.62 76.12 178.62 82.38 176.38 90.38 172.62 105.62 166.62 117.62 162.62 123.38 161.38 115.38 163.12 96.38 169.62 82.88 175.62 77.62 177.38 75.38 178.62 72.88 178.88 65.38 183.12 64.88 182.88 65.12 179.38 58.62 186.62 45.38 202.88 39.62 209.12 33.38 215.12Z"/><path fill="#8fb1fe" d="M33.38 227.12 39.62 227.12 61.88 215.62 82.12 206.38 102.88 197.88 113.38 194.12 123.62 191.12 162.12 182.38 191.62 176.88 221.38 172.88 258.38 169.12 237.12 171.12 203.12 175.12 181.38 178.62 160.88 182.62 131.62 189.12 118.12 192.62 104.12 197.62 98.88 198.38 88.12 202.12 81.62 205.38 75.62 207.62 75.62 207.12 82.62 203.12 90.12 197.88 93.88 197.62 95.12 196.12 102.88 191.12 109.38 187.88 117.12 184.62 133.38 179.88 150.12 175.88 168.38 172.38 186.38 169.62 175.38 170.88 153.12 174.38 136.62 177.88 126.12 180.62 115.62 183.88 108.12 187.12 103.12 189.88 101.62 189.88 93.62 192.62 77.88 199.62 77.62 199.38 88.38 190.12 89.62 189.12 91.38 188.88 91.38 188.12 93.12 186.38 97.62 183.12 105.38 179.62 121.88 173.88 117.38 175.12 102.12 180.88 96.12 184.12 95.12 184.12 91.62 185.88 81.62 189.62 75.88 192.88 72.88 194.12 72.62 193.88 82.88 183.38 84.62 183.12 84.62 182.38 85.62 181.38 89.88 179.12 102.12 174.38 109.38 171.12 88.62 179.62 84.12 182.62 83.38 182.62 79.62 184.62 70.88 188.12 61.88 192.62 61.62 192.38 71.38 181.88 72.88 181.62 72.88 180.62 74.88 178.88 101.12 167.88 89.62 172.38 82.88 175.62 77.62 177.38 75.12 178.88 74.12 178.88 63.62 184.88 63.62 181.12 58.62 186.62 45.38 202.88 39.62 209.12 33.38 215.12Z"/><path fill="#84a7fc" d="M84.12 182.62 83.62 183.12 84.12 183.12ZM171.38 171.62 163.38 172.62 145.62 175.88 132.62 178.88 118.38 182.88 108.12 187.12 101.38 190.88 95.62 192.62 87.88 195.62 76.12 201.12 75.62 200.88 89.62 189.12 90.88 188.88 90.88 188.12 94.38 185.12 90.38 187.12 80.62 190.88 71.38 195.62 71.12 195.38 82.62 183.62 79.12 185.62 71.62 188.62 60.88 193.88 60.88 193.12 71.62 181.62 72.38 181.62 72.38 180.88 73.12 180.12 62.38 186.38 61.88 186.12 62.38 182.38 45.38 202.88 39.62 209.12 33.38 215.12 33.38 227.12 39.62 227.12 68.12 212.62 87.38 204.12 103.38 197.88 100.62 198.12 87.12 202.88 81.62 205.62 74.88 208.38 74.12 208.12 82.62 203.12 90.12 197.88 93.88 197.38 93.88 196.88 94.62 196.12 102.38 191.12 113.88 185.62 120.88 183.12 139.88 177.88 161.88 173.12Z"/><path fill="#799cf8" d="M158.38 173.62 153.12 174.38 136.62 177.88 117.62 183.12 108.12 187.12 103.62 189.38 99.12 192.38 88.38 196.12 78.62 200.38 74.38 202.62 73.88 202.38 80.38 197.12 89.88 188.88 90.38 188.88 92.62 186.62 90.38 187.88 79.62 192.12 70.12 196.88 69.88 196.62 81.12 185.12 77.62 187.12 71.88 189.38 59.12 195.62 58.88 195.38 71.88 181.62 61.12 187.88 60.62 187.62 60.88 184.12 45.38 202.88 39.62 209.12 33.38 215.12 33.38 227.12 39.62 227.12 68.12 212.62 87.38 204.12 103.38 197.88 100.12 198.38 92.38 201.12 72.62 209.62 71.88 209.38 82.62 203.12 90.12 197.88 93.38 197.38 93.88 196.38 103.12 190.38 113.12 185.62 119.88 183.12 135.62 178.62 151.38 174.88ZM69.12 197.12 69.62 196.62 70.12 196.88 69.62 197.38Z"/><path fill="#6f92f3" d="M144.12 176.38 132.62 178.88 115.62 183.88 103.62 189.38 96.12 194.12 82.88 199.12 76.12 202.12 72.62 204.12 72.12 203.88 90.62 188.38 78.62 193.38 68.12 198.62 67.88 198.38 79.38 186.88 76.12 188.62 66.62 192.62 57.88 197.12 57.62 196.88 70.62 182.88 59.38 189.62 59.38 185.88 45.38 202.88 39.62 209.12 33.38 215.12 33.38 227.12 39.62 227.12 68.12 212.62 87.38 204.12 102.62 198.12 100.62 198.38 92.88 201.12 70.12 210.88 69.62 210.62 82.62 203.12 90.12 197.88 92.88 197.38 93.38 196.38 102.62 190.38 110.12 186.62 118.88 183.12 135.38 178.38Z"/><path fill="#6485ec" d="M130.38 179.62 118.38 182.88 112.62 185.12 103.62 189.38 94.12 195.62 80.88 200.62 70.62 205.62 70.12 205.38 88.88 189.88 80.88 193.12 66.62 200.12 66.38 199.88 78.38 188.12 67.38 193.12 56.62 198.62 56.38 198.38 68.88 184.62 58.12 191.12 58.12 187.38 45.38 202.88 39.62 209.12 33.38 215.12 33.38 227.12 39.62 227.12 68.12 212.62 87.38 204.12 102.12 198.38 96.12 200.12 88.12 203.12 71.12 210.38 68.38 211.88 67.88 211.88 67.88 211.38 82.62 203.12 90.12 197.88 92.38 197.38 93.62 195.88 103.38 189.62 115.88 183.88Z"/><path fill="#5a78e4" d="M101.38 198.62 89.88 202.62 67.62 212.12 67.38 211.88 67.88 211.38 82.62 203.12 90.12 197.88 91.88 197.38 92.38 196.62 91.88 197.12 77.62 202.62 68.62 207.12 68.38 206.88 87.12 191.38 77.12 195.62 64.62 201.88 64.38 201.62 76.62 189.88 64.88 195.12 55.38 200.12 55.12 199.88 67.12 186.38 56.88 192.62 56.88 188.88 45.38 202.88 39.62 209.12 33.38 215.12 33.38 227.12 39.62 227.12 68.12 212.62 87.38 204.12Z"/><path fill="#516ddb" d="M96.88 200.38 83.38 205.38 65.38 213.38 65.12 213.12 65.62 212.62 77.62 206.12 88.88 198.88 76.12 203.88 66.62 208.62 66.38 208.38 85.38 192.88 77.12 196.38 63.38 203.12 63.12 202.88 75.12 191.38 66.12 195.38 54.12 201.62 54.12 200.88 66.12 187.62 55.62 194.12 55.62 190.38 45.38 202.88 39.62 209.12 33.38 215.12 33.38 227.12 39.62 227.12 68.12 212.62 87.38 204.12Z"/><path fill="#485fd1" d="M93.12 201.88 83.12 205.62 64.38 213.88 64.38 213.38 77.62 206.12 86.62 200.38 75.12 204.88 64.62 210.12 64.38 209.88 68.38 206.88 83.62 194.38 73.38 198.88 61.38 204.88 61.12 204.62 73.62 192.88 64.12 197.12 52.88 203.12 52.62 202.62 64.38 189.38 54.38 195.62 54.38 191.88 43.12 205.38 33.38 215.12 33.38 227.12 39.62 227.12 68.12 212.62Z"/><path fill="#3e51c5" d="M89.62 203.38 76.88 208.38 63.12 214.62 62.88 214.38 63.38 213.88 74.12 208.12 84.38 201.88 72.38 206.62 62.88 211.38 62.62 211.12 68.38 206.88 81.38 196.12 69.62 201.38 59.38 206.62 59.12 206.38 71.88 194.62 61.12 199.38 51.38 204.88 51.12 204.38 63.12 190.88 53.12 197.12 52.88 193.62 48.38 199.12 47.62 200.62 45.38 202.62 39.62 209.12 33.38 215.12 33.38 227.12 39.62 227.12 68.12 212.62ZM61.88 211.62 62.38 211.12 62.88 211.38 62.38 211.88Z"/><path fill="none" stroke="#4a5fd0" stroke-width="1.05" d="M33.3 230.3 34.72 229.6 36.13 228.89 37.55 228.19 38.97 227.49 40.38 226.78 41.8 226.07 43.21 225.35 44.63 224.63 46.05 223.91 47.46 223.19 48.88 222.47 50.3 221.75 51.71 221.03 53.13 220.31 54.55 219.59 55.96 218.87 57.38 218.14 58.79 217.42 60.21 216.7 61.63 215.99 63.04 215.3 64.46 214.6 65.88 213.92 67.29 213.25 68.71 212.59 70.13 211.94 71.54 211.31 72.96 210.69 74.37 210.07 75.79 209.44 77.21 208.81 78.62 208.17 80.04 207.54 81.46 206.91 82.87 206.29 84.29 205.68 85.71 205.07 87.12 204.47 88.54 203.87 89.95 203.28 91.37 202.7 92.79 202.11 94.2 201.54 95.62 200.97 97.04 200.4 98.45 199.84 99.87 199.28 101.28 198.72 102.7 198.18 104.12 197.66 105.53 197.14 106.95 196.62 108.37 196.11 109.78 195.61 111.2 195.11 112.62 194.63 114.03 194.16 115.45 193.7 116.86 193.26 118.28 192.84 119.7 192.43 121.11 192.04 122.53 191.66 123.95 191.29 125.36 190.92 126.78 190.57 128.2 190.22 129.61 189.87 131.03 189.53 132.44 189.19 133.86 188.86 135.28 188.54 136.69 188.22 138.11 187.91 139.53 187.6 140.94 187.29 142.36 186.99 143.78 186.68 145.19 186.37 146.61 186.05 148.02 185.74 149.44 185.42 150.86 185.1 152.27 184.78 153.69 184.46 155.11 184.14 156.52 183.83 157.94 183.52 159.36 183.21 160.77 182.91 162.19 182.61 163.6 182.31 165.02 182.01 166.44 181.72 167.85 181.42 169.27 181.14 170.69 180.86 172.1 180.58 173.52 180.31 174.94 180.05 176.35 179.79 177.77 179.53 179.18 179.27 180.6 179.01 182.02 178.76 183.43 178.51 184.85 178.26 186.27 178.02 187.68 177.78 189.1 177.54 190.52 177.3 191.93 177.07 193.35 176.84 194.76 176.62 196.18 176.4 197.6 176.18 199.01 175.97 200.43 175.77 201.85 175.56 203.26 175.37 204.68 175.17 206.09 174.98 207.51 174.8 208.93 174.62 210.34 174.44 211.76 174.26 213.18 174.09 214.59 173.92 216.01 173.75 217.43 173.58 218.84 173.42 220.26 173.25 221.67 173.09 223.09 172.93 224.51 172.77 225.92 172.61 227.34 172.46 228.76 172.3 230.17 172.14 231.59 171.99 233.01 171.83 234.42 171.67 235.84 171.52 237.25 171.37 238.67 171.21 240.09 171.06 241.5 170.91 242.92 170.76 244.34 170.61 245.75 170.46 247.17 170.32 248.59 170.18 250 170.04 251.42 169.9 252.83 169.77 254.25 169.63 255.67 169.5 257.08 169.38 258.5 169.25"/><path fill="none" stroke="#1a1a1a" stroke-opacity="0.75" stroke-width="0.55" d="M33.3 229.78 34.72 229.09 36.13 228.42 37.55 227.75 38.97 227.07 40.38 226.36 41.8 225.63 43.21 224.86 44.63 224.09 46.05 223.32 47.46 222.56 48.88 221.82 50.3 221.09 51.71 220.36 53.13 219.62 54.55 218.88 55.96 218.13 57.38 217.37 58.79 216.61 60.21 215.84 61.63 215.07 63.04 214.29 64.46 213.5 65.88 212.71 67.29 211.92 68.71 211.13 70.13 210.35 71.54 209.57 72.96 208.79 74.37 208 75.79 207.19 77.21 206.37 78.62 205.55 80.04 204.71 81.46 203.85 82.87 202.97 84.29 202.06 85.71 201.11 87.12 200.15 88.54 199.19 89.95 198.24 91.37 197.28 92.79 196.33 94.2 195.38 95.62 194.44 97.04 193.52 98.45 192.59 99.87 191.66 101.28 190.75 102.7 189.89 104.12 189.1 105.53 188.37 106.95 187.67 108.37 187.01 109.78 186.36 111.2 185.74 112.62 185.12 114.03 184.51 115.45 183.93 116.86 183.39 118.28 182.9 119.7 182.45 121.11 182.02 122.53 181.62 123.95 181.23 125.36 180.83 126.78 180.44 128.2 180.05 129.61 179.67 131.03 179.29 132.44 178.91 133.86 178.55 135.28 178.19 136.69 177.85 138.11 177.51 139.53 177.19 140.94 176.87 142.36 176.56 143.78 176.26 145.19 175.96 146.61 175.66 148.02 175.37 149.44 175.09 150.86 174.81 152.27 174.54 153.69 174.27 155.11 174.01 156.52 173.76 157.94 173.51 159.36 173.27 160.77 173.04 162.19 172.81 163.6 172.58 165.02 172.36 166.44 172.15 167.85 171.93 169.27 171.72 170.69 171.52 172.1 171.32 173.52 171.12 174.94 170.92 176.35 170.73 177.77 170.54 179.18 170.36 180.6 170.18 182.02 170 183.43 169.82 184.85 169.65 186.27 169.47 187.68 169.31 189.1 169.14 190.52 168.97 191.93 168.8 193.35 168.64 194.76 168.47 196.18 168.3 197.6 168.14 199.01 167.98 200.43 167.82 201.85 167.66 203.26 167.51 204.68 167.36 206.09 167.22 207.51 167.08 208.93 166.95 210.34 166.83 211.76 166.71 213.18 166.6 214.59 166.49 216.01 166.4 217.43 166.31 218.84 166.23 220.26 166.15 221.67 166.07 223.09 165.99 224.51 165.91 225.92 165.84 227.34 165.77 228.76 165.7 230.17 165.63 231.59 165.57 233.01 165.5 234.42 165.44 235.84 165.38 237.25 165.32 238.67 165.27 240.09 165.21 241.5 165.15 242.92 165.1 244.34 165.05 245.75 165 247.17 164.95 248.59 164.89 250 164.85 251.42 164.8 252.83 164.75 254.25 164.7 255.67 164.65 257.08 164.6 258.5 164.56"/><path fill="none" stroke="#1a1a1a" stroke-opacity="0.75" stroke-width="0.55" d="M33.3 229.26 34.72 228.53 36.13 227.82 37.55 227.09 38.97 226.35 40.38 225.58 41.8 224.78 43.21 223.95 44.63 223.1 46.05 222.24 47.46 221.38 48.88 220.51 50.3 219.63 51.71 218.74 53.13 217.84 54.55 216.91 55.96 215.95 57.38 214.96 58.79 213.95 60.21 212.93 61.63 211.91 63.04 210.88 64.46 209.85 65.88 208.8 67.29 207.74 68.71 206.65 70.13 205.52 71.54 204.37 72.96 203.2 74.37 202.03 75.79 200.86 77.21 199.72 78.62 198.57 80.04 197.42 81.46 196.26 82.87 195.08 84.29 193.88 85.71 192.67 87.12 191.45 88.54 190.24 89.95 189.04 91.37 187.81 92.79 186.56 94.2 185.36 95.62 184.27 97.04 183.36 98.45 182.58 99.87 181.88 101.28 181.23 102.7 180.62 104.12 180.03 105.53 179.47 106.95 178.95 108.37 178.45 109.78 177.94 111.2 177.42 112.62 176.88 114.03 176.34 115.45 175.8 116.86 175.29 118.28 174.82 119.7 174.37 121.11 173.93 122.53 173.52 123.95 173.13 125.36 172.76 126.78 172.4 128.2 172.06 129.61 171.73 131.03 171.41 132.44 171.1 133.86 170.79 135.28 170.5 136.69 170.21 138.11 169.92 139.53 169.64 140.94 169.37 142.36 169.09 143.78 168.81 145.19 168.54 146.61 168.27 148.02 168.01 149.44 167.75 150.86 167.5 152.27 167.26 153.69 167.02 155.11 166.8 156.52 166.59 157.94 166.39 159.36 166.2 160.77 166.03 162.19 165.86 163.6 165.7 165.02 165.54 166.44 165.38 167.85 165.23 169.27 165.09 170.69 164.95 172.1 164.81 173.52 164.68 174.94 164.55 176.35 164.43 177.77 164.31 179.18 164.19 180.6 164.07 182.02 163.96 183.43 163.85 184.85 163.75 186.27 163.65 187.68 163.54 189.1 163.45 190.52 163.35 191.93 163.25 193.35 163.16 194.76 163.07 196.18 162.98 197.6 162.89 199.01 162.81 200.43 162.72 201.85 162.64 203.26 162.56 204.68 162.48 206.09 162.41 207.51 162.34 208.93 162.27 210.34 162.2 211.76 162.14 213.18 162.07 214.59 162.01 216.01 161.96 217.43 161.91 218.84 161.85 220.26 161.8 221.67 161.75 223.09 161.7 224.51 161.65 225.92 161.61 227.34 161.56 228.76 161.51 230.17 161.47 231.59 161.43 233.01 161.38 234.42 161.34 235.84 161.3 237.25 161.26 238.67 161.22 240.09 161.18 241.5 161.15 242.92 161.11 244.34 161.08 245.75 161.04 247.17 161.01 248.59 160.98 250 160.94 251.42 160.91 252.83 160.88 254.25 160.86 255.67 160.83 257.08 160.8 258.5 160.77"/><path fill="none" stroke="#1a1a1a" stroke-opacity="0.75" stroke-width="0.55" d="M33.3 226.65 34.72 225.76 36.13 224.84 37.55 223.89 38.97 222.91 40.38 221.92 41.8 220.92 43.21 219.89 44.63 218.85 46.05 217.77 47.46 216.66 48.88 215.51 50.3 214.32 51.71 213.09 53.13 211.86 54.55 210.62 55.96 209.38 57.38 208.13 58.79 206.87 60.21 205.59 61.63 204.31 63.04 203.02 64.46 201.72 65.88 200.4 67.29 199.08 68.71 197.74 70.13 196.4 71.54 195.05 72.96 193.69 74.37 192.31 75.79 190.9 77.21 189.42 78.62 187.88 80.04 186.36 81.46 184.91 82.87 183.58 84.29 182.34 85.71 181.24 87.12 180.38 88.54 179.66 89.95 179.01 91.37 178.39 92.79 177.81 94.2 177.26 95.62 176.71 97.04 176.13 98.45 175.56 99.87 174.98 101.28 174.4 102.7 173.82 104.12 173.25 105.53 172.66 106.95 172.08 108.37 171.49 109.78 170.92 111.2 170.37 112.62 169.83 114.03 169.29 115.45 168.77 116.86 168.26 118.28 167.76 119.7 167.25 121.11 166.75 122.53 166.27 123.95 165.83 125.36 165.45 126.78 165.1 128.2 164.77 129.61 164.45 131.03 164.15 132.44 163.86 133.86 163.59 135.28 163.33 136.69 163.08 138.11 162.85 139.53 162.63 140.94 162.41 142.36 162.2 143.78 161.99 145.19 161.78 146.61 161.58 148.02 161.39 149.44 161.21 150.86 161.03 152.27 160.86 153.69 160.7 155.11 160.55 156.52 160.41 157.94 160.29 159.36 160.17 160.77 160.06 162.19 159.96 163.6 159.87 165.02 159.77 166.44 159.68 167.85 159.6 169.27 159.51 170.69 159.44 172.1 159.36 173.52 159.28 174.94 159.21 176.35 159.15 177.77 159.08 179.18 159.02 180.6 158.96 182.02 158.9 183.43 158.85 184.85 158.8 186.27 158.75 187.68 158.7 189.1 158.66 190.52 158.61 191.93 158.57 193.35 158.53 194.76 158.5 196.18 158.46 197.6 158.43 199.01 158.39 200.43 158.36 201.85 158.33 203.26 158.3 204.68 158.27 206.09 158.24 207.51 158.21 208.93 158.18 210.34 158.16 211.76 158.13 213.18 158.1 214.59 158.07 216.01 158.04 217.43 158.01 218.84 157.98 220.26 157.95 221.67 157.92 223.09 157.89 224.51 157.86 225.92 157.83 227.34 157.8 228.76 157.77 230.17 157.74 231.59 157.72 233.01 157.69 234.42 157.66 235.84 157.63 237.25 157.6 238.67 157.57 240.09 157.55 241.5 157.52 242.92 157.49 244.34 157.47 245.75 157.44 247.17 157.42 248.59 157.4 250 157.37 251.42 157.35 252.83 157.33 254.25 157.31 255.67 157.29 257.08 157.27 258.5 157.25"/><path fill="none" stroke="#1a1a1a" stroke-opacity="0.75" stroke-width="0.55" d="M33.3 221.95 34.72 220.91 36.13 219.81 37.55 218.66 38.97 217.44 40.38 216.17 41.8 214.82 43.21 213.39 44.63 211.89 46.05 210.36 47.46 208.81 48.88 207.23 50.3 205.61 51.71 203.96 53.13 202.31 54.55 200.67 55.96 199.03 57.38 197.38 58.79 195.75 60.21 194.12 61.63 192.54 63.04 190.97 64.46 189.42 65.88 187.89 67.29 186.4 68.71 184.94 70.13 183.42 71.54 181.88 72.96 180.42 74.37 179.17 75.79 178.24 77.21 177.54 78.62 176.97 80.04 176.47 81.46 175.96 82.87 175.38 84.29 174.76 85.71 174.12 87.12 173.48 88.54 172.84 89.95 172.23 91.37 171.64 92.79 171.05 94.2 170.48 95.62 169.91 97.04 169.36 98.45 168.82 99.87 168.28 101.28 167.76 102.7 167.25 104.12 166.75 105.53 166.26 106.95 165.78 108.37 165.31 109.78 164.85 111.2 164.4 112.62 163.96 114.03 163.52 115.45 163.1 116.86 162.7 118.28 162.34 119.7 161.99 121.11 161.66 122.53 161.35 123.95 161.06 125.36 160.8 126.78 160.55 128.2 160.32 129.61 160.09 131.03 159.87 132.44 159.66 133.86 159.46 135.28 159.27 136.69 159.09 138.11 158.91 139.53 158.74 140.94 158.57 142.36 158.4 143.78 158.24 145.19 158.08 146.61 157.92 148.02 157.77 149.44 157.62 150.86 157.48 152.27 157.35 153.69 157.22 155.11 157.09 156.52 156.98 157.94 156.87 159.36 156.77 160.77 156.68 162.19 156.59 163.6 156.51 165.02 156.43 166.44 156.35 167.85 156.27 169.27 156.2 170.69 156.13 172.1 156.06 173.52 156 174.94 155.94 176.35 155.87 177.77 155.82 179.18 155.76 180.6 155.7 182.02 155.65 183.43 155.59 184.85 155.54 186.27 155.49 187.68 155.44 189.1 155.39 190.52 155.34 191.93 155.3 193.35 155.25 194.76 155.21 196.18 155.16 197.6 155.12 199.01 155.08 200.43 155.03 201.85 154.99 203.26 154.95 204.68 154.92 206.09 154.88 207.51 154.84 208.93 154.81 210.34 154.77 211.76 154.74 213.18 154.71 214.59 154.68 216.01 154.65 217.43 154.62 218.84 154.59 220.26 154.56 221.67 154.54 223.09 154.51 224.51 154.48 225.92 154.45 227.34 154.43 228.76 154.4 230.17 154.37 231.59 154.35 233.01 154.32 234.42 154.3 235.84 154.27 237.25 154.25 238.67 154.23 240.09 154.2 241.5 154.18 242.92 154.16 244.34 154.14 245.75 154.12 247.17 154.1 248.59 154.09 250 154.07 251.42 154.05 252.83 154.04 254.25 154.03 255.67 154.01 257.08 154 258.5 153.99"/></g><rect x="33.3" y="144.6" width="225.2" height="82.7" fill="none" stroke="#6e6e6e" stroke-width="1"/><path d="M33.3 227.7v2.6" stroke="#444" stroke-width="0.8"/><text x="33.3" y="238.3" font-size="8.2" text-anchor="middle" fill="#141414">100</text><path d="M68.49 227.7v2.6" stroke="#444" stroke-width="0.8"/><text x="68.49" y="238.3" font-size="8.2" text-anchor="middle" fill="#141414">105</text><path d="M103.67 227.7v2.6" stroke="#444" stroke-width="0.8"/><text x="103.67" y="238.3" font-size="8.2" text-anchor="middle" fill="#141414">110</text><path d="M138.86 227.7v2.6" stroke="#444" stroke-width="0.8"/><text x="138.86" y="238.3" font-size="8.2" text-anchor="middle" fill="#141414">115</text><path d="M174.05 227.7v2.6" stroke="#444" stroke-width="0.8"/><text x="174.05" y="238.3" font-size="8.2" text-anchor="middle" fill="#141414">120</text><path d="M209.24 227.7v2.6" stroke="#444" stroke-width="0.8"/><text x="209.24" y="238.3" font-size="8.2" text-anchor="middle" fill="#141414">125</text><path d="M244.43 227.7v2.6" stroke="#444" stroke-width="0.8"/><text x="244.43" y="238.3" font-size="8.2" text-anchor="middle" fill="#141414">130</text><path d="M32.9 216.73h-2.6" stroke="#444" stroke-width="0.8"/><text x="28.9" y="219.73" font-size="8.2" text-anchor="end" fill="#141414">300</text><path d="M32.9 190.65h-2.6" stroke="#444" stroke-width="0.8"/><text x="28.9" y="193.65" font-size="8.2" text-anchor="end" fill="#141414">400</text><path d="M32.9 164.56h-2.6" stroke="#444" stroke-width="0.8"/><text x="28.9" y="167.56" font-size="8.2" text-anchor="end" fill="#141414">500</text><text x="145.9" y="247.9" font-size="8.2" text-anchor="middle" fill="#141414">x [km]</text><text x="10.9" y="185.95" font-size="8.2" text-anchor="middle" fill="#141414" transform="rotate(-90 10.9 185.95)">Height [m]</text><rect x="0.5" y="128.9" width="9.1" height="10.6" fill="#fff" stroke="#555" stroke-width="1"/><text x="5.05" y="138.2" font-size="10.6" text-anchor="middle" fill="#111">B</text><g clip-path="url(#clipC)"><path fill="#780dff" d="M261.12 283.12 201.38 283.38 175.38 283.88 154.38 284.88 132.12 286.88 115.12 289.38 101.38 292.38 88.88 296.12 79.38 300.38 74.62 303.38 69.88 307.12 61.12 316.12 44.12 336.62 33.62 347.38 33.62 359.38 39.62 359.38 63.12 347.38 82.38 338.62 105.12 329.38 122.62 323.62 165.38 313.88 195.38 308.38 219.38 305.12 261.12 300.88Z"/><path fill="#6629fe" d="M261.12 283.62 196.88 284.12 156.88 285.38 133.88 287.38 122.38 288.88 103.88 292.38 91.62 295.88 83.12 299.12 76.38 302.88 70.38 307.38 62.88 314.88 45.88 335.38 39.88 341.88 33.62 347.88 33.62 359.38 39.62 359.38 63.62 347.12 89.38 335.62 109.88 327.62 125.38 322.88 164.12 314.12 195.38 308.38 225.88 304.38 261.12 300.88Z"/><path fill="#5444fd" d="M261.12 283.62 196.88 284.12 156.88 285.38 133.88 287.38 122.38 288.88 103.88 292.38 91.62 295.88 83.12 299.12 76.38 302.88 70.38 307.38 62.88 314.88 45.88 335.38 39.88 341.88 33.62 347.88 33.62 359.38 39.62 359.38 65.62 346.12 87.38 336.38 109.62 327.62 125.88 322.62 165.12 313.88 195.12 308.38 223.38 304.62 261.12 300.88Z"/><path fill="#4062fa" d="M261.12 283.62 196.88 284.12 156.88 285.38 133.88 287.38 122.38 288.88 103.88 292.38 91.62 295.88 83.12 299.12 76.38 302.88 70.38 307.38 62.88 314.88 45.88 335.38 39.88 341.88 33.62 347.88 33.62 359.38 39.62 359.38 67.12 345.38 86.62 336.62 103.88 329.62 122.62 323.38 134.62 320.38 147.12 317.62 150.38 317.38 167.38 313.38 193.38 308.62 223.12 304.62 250.88 301.62 261.12 300.88 261.12 296.38 260.38 296.12 261.12 295.88 261.12 292.62 259.88 292.38 261.12 292.12ZM101.38 322.88 101.88 322.38 102.38 322.62 101.88 323.12ZM82.62 315.88 83.12 315.38 83.62 315.62 83.12 316.12Z"/><path fill="#2e7bf7" d="M261.12 283.62 196.88 284.12 156.88 285.38 133.88 287.38 122.38 288.88 103.88 292.38 91.62 295.88 83.12 299.12 76.38 302.88 70.38 307.38 62.88 314.88 45.88 335.38 39.88 341.88 33.62 347.88 33.62 359.38 39.62 359.38 68.12 344.88 87.62 336.12 108.38 327.88 124.12 322.88 145.38 317.88 150.38 317.38 153.38 316.38 168.38 313.12 191.62 308.88 222.88 304.62 253.12 301.38 261.12 300.88 261.12 296.38 258.38 296.12 261.12 295.88 261.12 292.62 258.38 292.38 261.12 292.12ZM74.38 340.12 74.88 339.62 75.38 339.88 74.88 340.38ZM77.88 338.12 78.38 337.62 78.88 337.88 78.38 338.38ZM82.88 335.12 83.38 334.62 83.88 334.88 83.38 335.38ZM83.62 334.62 84.12 334.12 84.62 334.38 84.12 334.88ZM75.62 333.12 76.12 332.62 76.62 332.88 76.12 333.38ZM86.62 332.62 87.12 332.12 87.62 332.38 87.12 332.88ZM87.38 332.12 87.88 331.62 88.38 331.88 87.88 332.38ZM88.12 331.62 88.62 331.12 89.12 331.38 88.62 331.88ZM88.88 331.12 89.38 330.62 89.88 330.88 89.38 331.38ZM89.62 330.62 90.12 330.12 90.62 330.38 90.12 330.88ZM90.38 330.12 90.88 329.62 91.38 329.88 90.88 330.38ZM79.62 329.88 80.12 329.38 80.62 329.62 80.12 330.12ZM91.12 329.62 91.62 329.12 92.12 329.38 91.62 329.88ZM69.88 328.88 70.12 329.12 69.12 329.88 68.88 329.62ZM91.88 329.12 92.38 328.62 92.88 328.88 92.38 329.38ZM80.88 328.88 81.38 328.38 81.88 328.62 81.38 329.12ZM92.62 328.62 93.12 328.12 93.62 328.38 93.12 328.88ZM82.38 327.62 82.88 327.12 83.38 327.38 82.88 327.88ZM84.88 325.62 85.12 325.88 84.12 326.62 83.88 326.38ZM98.12 325.38 93.88 328.38 93.38 328.12 97.12 325.38ZM97.88 325.12 98.38 324.62 98.88 324.88 98.38 325.38ZM98.62 324.62 99.12 324.12 99.62 324.38 99.12 324.88ZM86.62 324.12 86.88 324.38 85.88 325.12 85.62 324.88ZM99.38 324.12 99.88 323.62 100.38 323.88 99.88 324.38ZM100.12 323.62 100.62 323.12 101.12 323.38 100.62 323.88ZM62.62 323.38 62.88 323.12 63.12 323.62 62.88 323.88ZM88.38 322.62 88.62 322.88 87.62 323.62 87.38 323.38ZM77.12 321.62 77.38 322.12 74.38 324.88 74.12 324.62ZM104.12 321.62 101.38 323.38 100.88 323.12 103.38 321.38ZM90.12 321.12 90.38 321.38 89.38 322.12 89.12 321.88ZM65.88 319.88 66.12 320.38 65.38 321.12 65.12 320.62ZM91.88 319.62 92.12 319.88 90.88 320.88 90.62 320.62ZM80.62 317.88 80.88 318.38 79.38 319.88 79.12 319.38ZM94.12 317.62 94.38 317.88 92.88 319.12 92.62 318.88ZM110.88 317.88 111.62 317.38 112.38 317.62 111.62 318.12ZM95.62 316.38 95.88 316.62 94.62 317.62 94.38 317.38ZM95.62 316.38 96.38 315.62 97.12 315.88 96.12 316.62ZM70.62 314.88 70.88 315.38 69.62 316.62 69.38 316.12ZM84.62 314.12 84.88 314.38 82.88 316.12 82.62 315.88ZM74.38 311.12 74.62 311.38 72.38 313.62 72.12 313.12ZM74.62 310.88 75.12 310.38 75.62 310.62 75.12 311.12Z"/><path fill="#1c93f3" d="M261.12 283.62 196.88 284.12 156.88 285.38 133.88 287.38 122.38 288.88 103.88 292.38 91.62 295.88 83.12 299.12 76.38 302.88 70.38 307.38 62.88 314.88 45.88 335.38 39.88 341.88 33.62 347.88 33.62 359.38 39.62 359.38 62.38 347.62 86.88 336.38 108.12 327.88 117.62 324.62 125.62 322.38 144.88 317.88 151.38 317.12 153.12 316.38 164.62 313.88 196.12 308.12 222.62 304.62 252.88 301.38 260.88 300.88 261.12 296.38 256.62 296.12 261.12 295.88 261.12 292.62 257.12 292.38 261.12 292.12ZM46.88 349.12 47.38 348.62 47.88 348.88 47.38 349.38ZM48.12 348.12 48.62 347.62 49.12 347.88 48.62 348.38ZM56.88 347.38 57.38 346.88 57.88 347.12 57.38 347.62ZM49.62 346.88 50.12 346.38 50.62 346.62 50.12 347.12ZM43.12 345.38 43.38 345.12 43.62 345.62 43.38 345.88ZM51.38 345.38 51.88 344.88 52.38 345.12 51.88 345.62ZM60.38 344.88 60.88 344.38 61.38 344.62 60.88 345.12ZM68.12 343.88 67.12 344.62 66.62 344.38 67.62 343.62ZM62.12 343.62 62.62 343.12 63.12 343.38 62.62 343.88ZM53.38 343.62 53.88 343.12 54.38 343.38 53.88 343.88ZM70.38 342.62 69.38 343.38 68.88 343.12 69.88 342.38ZM55.38 341.88 55.88 341.38 56.38 341.62 55.88 342.12ZM46.62 341.62 46.88 341.38 47.12 341.88 46.88 342.12ZM64.88 341.62 65.38 341.12 65.88 341.38 65.38 341.88ZM73.12 341.12 71.62 342.12 71.12 341.88 72.62 340.88ZM65.88 340.88 66.38 340.38 66.88 340.62 66.38 341.12ZM75.38 339.88 73.88 340.88 73.38 340.62 74.88 339.62ZM66.88 340.12 67.38 339.62 67.88 339.88 67.38 340.38ZM57.38 340.12 57.88 339.62 58.38 339.88 57.88 340.38ZM67.88 339.38 68.38 338.88 68.88 339.12 68.38 339.62ZM77.12 338.88 75.62 339.88 75.12 339.62 76.62 338.62ZM49.12 338.88 49.38 338.62 49.62 339.12 49.38 339.38ZM69.88 337.88 70.12 338.12 69.12 338.88 68.88 338.62ZM78.88 337.88 77.38 338.88 76.88 338.62 78.38 337.62ZM60.62 337.38 60.88 337.62 59.88 338.38 59.62 338.12ZM80.12 337.12 79.12 337.88 78.62 337.62 79.62 336.88ZM71.12 336.88 71.38 337.12 70.38 337.88 70.12 337.62ZM51.12 336.62 51.38 337.12 50.88 337.62 50.62 337.12ZM81.38 336.38 80.38 337.12 79.88 336.88 80.88 336.12ZM72.38 335.88 72.62 336.12 71.62 336.88 71.38 336.62ZM82.62 335.62 81.62 336.38 81.12 336.12 82.12 335.38ZM63.38 334.88 63.62 335.12 62.38 336.12 62.12 335.88ZM52.62 334.88 52.88 335.38 52.38 335.88 52.12 335.38ZM73.88 334.62 74.12 334.88 73.12 335.62 72.88 335.38ZM85.38 333.88 83.38 335.38 82.38 335.38 84.38 333.88ZM75.38 333.38 75.62 333.62 74.62 334.38 74.38 334.12ZM85.12 333.62 85.62 333.12 86.12 333.38 85.62 333.88ZM54.12 333.12 54.38 333.62 53.88 334.12 53.62 333.62ZM76.88 332.12 77.12 332.38 75.88 333.38 75.62 333.12ZM66.88 331.62 67.12 331.88 65.38 333.38 65.12 333.12ZM55.38 331.62 55.62 331.38 55.88 331.88 55.62 332.12ZM78.12 331.12 78.38 331.38 77.38 332.12 77.12 331.88ZM79.38 330.12 79.62 330.38 78.62 331.12 78.38 330.88ZM57.38 329.38 57.62 329.88 57.12 330.38 56.88 329.88ZM80.88 328.88 81.12 329.12 79.88 330.12 79.62 329.88ZM82.12 327.88 82.38 328.12 81.12 329.12 80.88 328.88ZM58.88 327.62 59.12 328.12 58.62 328.62 58.38 328.12ZM71.62 327.12 71.88 327.38 69.12 329.88 68.88 329.62ZM83.62 326.62 83.88 326.88 82.62 327.88 82.38 327.62ZM60.62 325.62 60.88 326.12 60.12 326.88 59.88 326.38ZM85.38 325.12 85.62 325.38 84.12 326.62 83.88 326.38ZM87.38 323.38 87.62 323.62 85.88 325.12 85.62 324.88ZM62.88 323.12 63.12 323.62 62.12 324.62 61.88 324.12ZM89.12 321.88 89.38 322.12 87.62 323.62 87.38 323.38ZM77.12 321.62 77.38 322.12 74.38 324.88 74.12 324.62ZM104.12 321.62 86.38 333.38 85.88 333.12 101.12 322.62 103.38 321.38ZM65.88 319.88 66.12 320.38 64.38 322.12 64.12 321.62ZM108.38 319.38 105.62 320.88 105.12 320.62 107.62 319.12ZM80.62 317.88 80.88 318.38 78.38 320.88 78.12 320.38ZM113.38 317.12 109.38 319.12 108.62 318.88 112.62 316.88ZM115.12 316.38 113.88 317.12 113.12 316.88 114.38 316.12ZM97.38 315.62 89.62 322.12 89.12 321.88 95.88 315.88 96.88 315.38ZM117.62 315.38 115.62 316.38 114.88 316.12 116.88 315.12ZM70.62 314.88 70.88 315.38 67.38 318.88 67.12 318.38ZM84.62 314.12 84.88 314.38 81.38 317.62 81.12 317.12ZM75.62 310.62 71.38 314.62 71.12 314.12 74.88 310.38ZM169.88 303.62 156.12 305.88 141.38 308.88 124.88 313.12 118.12 315.38 117.38 315.12 124.62 312.62 143.38 307.88 161.62 304.38 168.12 303.38ZM175.12 302.88 171.38 303.62 169.62 303.38 173.12 302.62ZM184.62 301.62 176.88 302.88 174.88 302.62 182.62 301.38ZM190.88 300.88 186.62 301.62 184.38 301.38 188.62 300.62ZM190.62 300.62 192.88 300.12 195.12 300.38 192.88 300.88ZM194.88 300.12 197.12 299.62 199.38 299.88 197.12 300.38ZM236.62 296.88 242.88 296.38 249.62 296.62 242.88 297.12Z"/><path fill="#09a9ee" d="M261.12 283.62 196.88 284.12 156.88 285.38 133.88 287.38 122.38 288.88 103.88 292.38 91.62 295.88 83.12 299.12 76.38 302.88 70.38 307.38 62.88 314.88 45.88 335.38 39.88 341.88 33.62 347.88 33.62 359.38 39.38 359.38 64.88 346.38 89.62 335.12 110.62 326.88 128.12 321.62 146.88 317.38 150.88 317.12 151.88 316.62 174.38 311.88 195.88 308.12 220.12 304.88 252.62 301.38 260.62 300.88 261.12 300.62 261.12 296.38 256.88 296.38 214.38 298.38 184.62 301.62 160.38 305.12 138.12 309.62 121.38 314.12 113.38 317.12 104.62 321.38 104.38 320.88 114.12 316.12 124.38 312.62 145.38 307.38 164.38 303.88 188.12 300.62 213.62 297.88 235.62 296.62 261.12 295.88 261.12 292.62 255.62 292.38 261.12 292.12ZM34.12 358.12 34.62 357.62 35.12 357.88 34.62 358.38ZM42.12 356.62 42.62 356.12 43.12 356.38 42.62 356.88ZM38.62 355.12 39.12 354.62 39.62 354.88 39.12 355.38ZM39.38 354.62 39.88 354.12 40.38 354.38 39.88 354.88ZM45.88 354.38 46.38 353.88 46.88 354.12 46.38 354.62ZM47.12 353.62 47.62 353.12 48.12 353.38 47.62 353.88ZM33.62 353.62 34.12 353.12 34.62 353.38 34.12 353.88ZM41.12 353.38 41.62 352.88 42.12 353.12 41.62 353.62ZM48.38 352.88 48.88 352.38 49.38 352.62 48.88 353.12ZM49.12 352.38 49.62 351.88 50.12 352.12 49.62 352.62ZM42.88 352.12 43.38 351.62 43.88 351.88 43.38 352.38ZM35.62 352.12 36.12 351.62 36.62 351.88 36.12 352.38ZM50.38 351.62 50.88 351.12 51.38 351.38 50.88 351.88ZM43.88 351.38 44.38 350.88 44.88 351.12 44.38 351.62ZM36.88 351.12 37.38 350.62 37.88 350.88 37.38 351.38ZM44.88 350.62 45.38 350.12 45.88 350.38 45.38 350.88ZM52.38 350.38 52.88 349.88 53.38 350.12 52.88 350.62ZM53.12 349.88 53.62 349.38 54.12 349.62 53.62 350.12ZM45.88 349.88 46.38 349.38 46.88 349.62 46.38 350.12ZM38.62 349.62 39.12 349.12 39.62 349.38 39.12 349.88ZM53.88 349.38 54.38 348.88 54.88 349.12 54.38 349.62ZM54.62 348.88 55.12 348.38 55.62 348.62 55.12 349.12ZM47.88 348.38 48.12 348.62 47.12 349.38 46.88 349.12ZM55.38 348.38 55.88 347.88 56.38 348.12 55.88 348.62ZM56.12 347.88 56.62 347.38 57.12 347.62 56.62 348.12ZM49.12 347.38 49.38 347.62 48.38 348.38 48.12 348.12ZM56.88 347.38 57.38 346.88 57.88 347.12 57.38 347.62ZM57.88 346.62 58.38 346.12 58.88 346.38 58.38 346.88ZM50.62 346.12 50.88 346.38 49.88 347.12 49.62 346.88ZM58.62 346.12 59.12 345.62 59.62 345.88 59.12 346.38ZM43.38 345.12 43.62 345.62 41.38 347.62 41.12 347.38ZM65.88 345.12 64.88 345.88 64.38 345.62 65.38 344.88ZM59.62 345.38 60.12 344.88 60.62 345.12 60.12 345.62ZM52.62 344.38 52.88 344.62 51.62 345.62 51.38 345.38ZM61.38 344.12 61.62 344.38 60.62 345.12 60.38 344.88ZM61.38 344.12 61.88 343.62 62.38 343.88 61.88 344.38ZM63.12 342.88 63.38 343.12 62.38 343.88 62.12 343.62ZM54.62 342.62 54.88 342.88 53.62 343.88 53.38 343.62ZM63.12 342.88 63.62 342.38 64.12 342.62 63.62 343.12ZM64.12 342.12 64.62 341.62 65.12 341.88 64.62 342.38ZM46.88 341.38 47.12 341.88 46.12 342.88 45.88 342.38ZM65.88 340.88 66.12 341.12 65.12 341.88 64.88 341.62ZM56.62 340.88 56.88 341.12 55.62 342.12 55.38 341.88ZM66.88 340.12 67.12 340.38 66.12 341.12 65.88 340.88ZM67.88 339.38 68.12 339.62 67.12 340.38 66.88 340.12ZM58.88 338.88 59.12 339.12 57.62 340.38 57.38 340.12ZM68.88 338.62 69.12 338.88 68.12 339.62 67.88 339.38ZM49.38 338.62 49.62 339.12 48.88 339.88 48.62 339.38ZM70.12 337.62 70.38 337.88 69.12 338.88 68.88 338.62ZM71.38 336.62 71.62 336.88 70.38 337.88 70.12 337.62ZM61.38 336.62 61.62 336.88 59.88 338.38 59.62 338.12ZM51.12 336.62 51.38 337.12 50.62 337.88 50.38 337.38ZM72.88 335.38 73.12 335.62 71.62 336.88 71.38 336.62ZM52.62 334.88 52.88 335.38 52.12 336.12 51.88 335.62ZM74.38 334.12 74.62 334.38 73.12 335.62 72.88 335.38ZM64.38 333.88 64.62 334.12 62.38 336.12 62.12 335.88ZM54.12 333.12 54.38 333.62 53.62 334.38 53.38 333.88ZM77.38 332.12 74.88 334.38 74.38 334.12 76.88 331.88ZM55.62 331.38 55.88 331.88 55.12 332.62 54.88 332.12ZM68.38 330.12 68.62 330.38 65.38 333.38 65.12 333.12ZM57.38 329.38 57.62 329.88 56.62 330.88 56.38 330.38ZM58.88 327.62 59.12 328.12 58.12 329.12 57.88 328.62ZM60.62 325.62 60.88 326.12 59.62 327.38 59.38 326.88ZM62.88 323.12 63.12 323.62 61.38 325.38 61.12 324.88ZM104.62 321.38 101.12 323.38 83.38 335.38 66.62 344.88 66.12 344.62 82.62 335.12 102.12 321.88 103.88 321.12ZM97.38 315.62 77.62 332.12 77.12 331.88 96.12 315.62ZM84.88 313.88 85.12 314.12 80.88 318.12 77.38 322.12 69.12 329.88 68.88 329.62 76.12 322.62 79.62 318.62 84.12 314.12ZM75.62 310.12 75.88 310.38 63.38 323.12 63.12 322.62 72.62 312.38Z"/><path fill="#08bee9" d="M261.12 283.62 196.88 284.12 156.88 285.38 133.88 287.38 122.38 288.88 103.88 292.38 91.62 295.88 83.12 299.12 76.38 302.88 70.38 307.38 62.88 314.88 45.88 335.38 39.88 341.88 33.62 347.88 33.62 359.38 37.12 359.38 37.62 358.88 38.12 359.12 37.88 359.38 39.38 359.38 66.38 345.62 87.12 336.12 103.62 329.38 118.62 324.12 125.62 322.38 140.12 317.88 150.62 317.12 174.12 311.88 205.88 306.62 237.88 302.88 261.12 300.62 261.12 296.38 217.88 298.12 203.88 299.38 175.12 302.88 156.12 305.88 141.38 308.88 121.38 314.12 108.88 319.12 101.12 323.38 78.38 338.38 66.12 345.12 65.62 344.88 82.12 335.38 95.12 326.62 100.88 321.88 104.12 321.12 104.88 320.38 108.88 318.38 120.62 313.62 139.38 308.62 149.88 306.38 177.62 301.88 216.12 297.62 246.38 296.12 260.62 295.88 261.12 295.62 261.12 292.62 254.38 292.38 261.12 292.12ZM34.12 358.12 34.62 357.62 35.12 357.88 34.62 358.38ZM40.38 357.62 40.88 357.12 41.38 357.38 40.88 357.88ZM34.88 357.62 35.38 357.12 35.88 357.38 35.38 357.88ZM35.62 357.12 36.12 356.62 36.62 356.88 36.12 357.38ZM43.12 356.38 42.12 357.12 41.62 356.88 42.62 356.12ZM36.38 356.62 36.88 356.12 37.38 356.38 36.88 356.88ZM37.12 356.12 37.62 355.62 38.12 355.88 37.62 356.38ZM44.38 355.62 43.38 356.38 42.88 356.12 43.88 355.38ZM37.88 355.62 38.38 355.12 38.88 355.38 38.38 355.88ZM44.62 355.12 45.12 354.62 45.62 354.88 45.12 355.38ZM38.62 355.12 39.12 354.62 39.62 354.88 39.12 355.38ZM46.88 354.12 45.88 354.88 45.38 354.62 46.38 353.88ZM40.38 353.88 40.62 354.12 39.62 354.88 39.38 354.62ZM40.38 353.88 40.88 353.38 41.38 353.62 40.88 354.12ZM48.12 353.38 47.12 354.12 46.62 353.88 47.62 353.12ZM33.62 353.62 34.12 353.12 34.62 353.38 34.12 353.88ZM42.12 352.62 42.38 352.88 41.38 353.62 41.12 353.38ZM34.62 352.88 35.12 352.38 35.62 352.62 35.12 353.12ZM42.12 352.62 42.62 352.12 43.12 352.38 42.62 352.88ZM50.12 352.12 48.38 353.38 47.88 353.12 49.62 351.88ZM43.88 351.38 44.12 351.62 43.12 352.38 42.88 352.12ZM36.62 351.38 36.88 351.62 35.88 352.38 35.62 352.12ZM51.38 351.38 50.38 352.12 49.88 351.88 50.88 351.12ZM51.12 351.12 51.62 350.62 52.12 350.88 51.62 351.38ZM44.88 350.62 45.12 350.88 44.12 351.62 43.88 351.38ZM38.12 350.12 38.38 350.38 37.12 351.38 36.88 351.12ZM45.88 349.88 46.12 350.12 45.12 350.88 44.88 350.62ZM46.88 349.12 47.12 349.38 46.12 350.12 45.88 349.88ZM54.88 349.12 52.88 350.62 51.88 350.62 53.88 349.12ZM39.88 348.62 40.12 348.88 38.88 349.88 38.62 349.62ZM54.62 348.88 55.12 348.38 55.62 348.62 55.12 349.12ZM48.12 348.12 48.38 348.38 47.12 349.38 46.88 349.12ZM59.88 348.12 60.38 347.62 60.88 347.88 60.38 348.38ZM49.38 347.12 49.62 347.38 48.38 348.38 48.12 348.12ZM58.12 346.88 55.88 348.62 55.38 348.38 57.62 346.62ZM63.62 346.38 62.62 347.12 62.12 346.88 63.12 346.12ZM51.12 345.62 51.38 345.88 49.88 347.12 49.62 346.88ZM59.88 345.62 58.38 346.88 57.88 346.62 59.38 345.38ZM43.38 345.12 43.62 345.62 41.38 347.62 41.12 347.38ZM65.88 345.12 64.38 346.12 63.88 345.88 65.38 344.88ZM61.62 344.38 60.12 345.62 59.62 345.38 61.12 344.12ZM53.12 343.88 53.38 344.12 51.62 345.62 51.38 345.38ZM64.38 342.38 61.88 344.38 61.38 344.12 63.88 342.12ZM55.12 342.12 55.38 342.38 53.62 343.88 53.38 343.62ZM46.88 341.38 47.12 341.88 45.62 343.38 45.38 342.88ZM57.12 340.38 57.38 340.62 55.62 342.12 55.38 341.88ZM49.38 338.62 49.62 339.12 48.12 340.62 47.88 340.12ZM59.62 338.12 59.88 338.38 57.62 340.38 57.38 340.12ZM51.12 336.62 51.38 337.12 50.12 338.38 49.88 337.88ZM52.62 334.88 52.88 335.38 51.62 336.62 51.38 336.12ZM54.12 333.12 54.38 333.62 53.12 334.88 52.88 334.38ZM55.62 331.38 55.88 331.88 54.62 333.12 54.38 332.62ZM57.38 329.38 57.62 329.88 56.12 331.38 55.88 330.88ZM58.88 327.62 59.12 328.12 57.62 329.62 57.38 329.12ZM60.62 325.62 60.88 326.12 59.12 327.88 58.88 327.38ZM97.38 315.62 69.38 338.88 64.62 342.38 64.12 342.12 84.88 325.38 94.12 316.62 95.62 315.62ZM85.12 314.12 69.38 329.88 60.12 338.38 59.62 338.12 70.12 328.38 78.62 319.88 80.62 317.12 83.62 314.12ZM75.62 310.12 75.88 310.38 70.88 315.12 60.88 325.88 60.62 325.38 70.62 314.62 74.12 310.38Z"/><path fill="#1acfe3" d="M261.12 283.62 196.88 284.12 156.88 285.38 133.88 287.38 122.38 288.88 103.88 292.38 91.62 295.88 83.12 299.12 76.38 302.88 70.38 307.38 62.88 314.88 45.88 335.38 39.88 341.88 33.62 347.88 33.62 359.38 36.88 359.38 37.62 358.88 38.12 359.12 37.88 359.38 39.38 359.38 67.88 344.88 81.62 338.88 88.12 335.62 103.38 329.38 106.62 328.38 116.62 323.88 134.88 317.88 139.88 317.38 150.38 317.12 157.12 315.38 176.62 311.38 205.62 306.62 237.62 302.88 261.12 300.62 261.12 296.38 217.88 298.12 203.88 299.38 175.12 302.88 156.12 305.88 141.38 308.88 121.38 314.12 108.88 319.12 101.12 323.38 78.38 338.38 63.88 346.38 63.38 346.12 77.38 338.12 86.88 332.12 99.38 321.62 103.88 321.12 106.12 319.62 110.38 317.62 120.38 313.62 131.12 310.62 147.12 306.88 160.38 304.38 179.12 301.62 215.38 297.62 261.12 295.62 261.12 292.62 253.12 292.38 261.12 292.12ZM41.38 357.38 39.88 358.38 39.38 358.12 40.88 357.12ZM36.62 356.88 34.62 358.38 33.62 358.38 35.62 356.88ZM43.12 356.38 41.62 357.38 41.12 357.12 42.62 356.12ZM36.38 356.62 36.88 356.12 37.38 356.38 36.88 356.88ZM40.62 354.12 37.62 356.38 37.12 356.12 40.12 353.88ZM34.62 352.88 34.88 353.12 33.88 353.88 33.62 353.62ZM42.38 352.88 40.88 354.12 40.38 353.88 41.88 352.62ZM35.62 352.12 35.88 352.38 34.88 353.12 34.62 352.88ZM36.88 351.12 37.12 351.38 35.88 352.38 35.62 352.12ZM38.38 349.88 38.62 350.12 37.12 351.38 36.88 351.12ZM56.62 349.88 57.12 349.38 57.62 349.62 57.12 350.12ZM40.62 347.88 40.88 348.12 38.88 349.88 38.62 349.62ZM60.88 347.88 59.88 348.62 59.38 348.38 60.38 347.62ZM63.62 346.38 62.12 347.38 61.62 347.12 63.12 346.12ZM43.38 345.12 43.62 345.62 41.38 347.62 41.12 347.38ZM46.88 341.38 47.12 341.88 44.88 344.12 44.62 343.62ZM49.38 338.62 49.62 339.12 47.62 341.12 47.38 340.62ZM51.12 336.62 51.38 337.12 49.62 338.88 49.38 338.38ZM97.38 315.62 81.38 329.12 65.38 341.88 52.88 350.62 43.88 356.12 42.88 356.12 56.38 347.62 68.38 338.88 82.38 327.38 86.38 322.88 94.12 315.62ZM85.12 314.12 74.62 324.88 60.12 338.38 47.38 349.38 42.62 352.88 42.12 352.62 51.62 345.12 72.12 326.38 79.38 317.12 82.38 314.12ZM85.88 313.12 86.38 312.62 86.88 312.88 86.38 313.38ZM101.88 312.88 102.62 312.38 103.38 312.62 102.62 313.12ZM103.62 312.12 104.38 311.62 105.12 311.88 104.38 312.38ZM104.88 311.62 105.62 311.12 106.38 311.38 105.62 311.88ZM106.88 310.88 107.62 310.38 108.38 310.62 107.62 311.12ZM89.88 310.88 90.62 310.38 91.38 310.62 90.62 311.12ZM75.62 310.12 75.88 310.38 63.12 323.38 51.38 336.88 51.12 336.38 63.88 321.88 73.12 310.38ZM110.38 309.62 111.12 309.12 111.88 309.38 111.12 309.88ZM94.12 309.12 94.88 308.62 95.62 308.88 94.88 309.38ZM77.62 309.12 78.38 308.62 79.12 308.88 78.38 309.38ZM112.38 308.88 113.12 308.38 113.88 308.62 113.12 309.12ZM95.38 308.62 96.12 308.12 96.88 308.38 96.12 308.88ZM81.12 308.12 79.62 308.88 78.88 308.62 80.38 307.88ZM97.88 307.62 98.62 307.12 99.38 307.38 98.62 307.88ZM99.12 307.12 99.88 306.62 100.62 306.88 99.88 307.38ZM84.62 306.38 85.38 305.88 86.12 306.12 85.38 306.62ZM119.88 306.12 120.88 305.62 121.88 305.88 120.88 306.38ZM87.38 305.12 88.12 304.62 88.88 304.88 88.12 305.38ZM105.88 304.38 106.62 303.88 107.38 304.12 106.62 304.62ZM98.38 300.62 99.12 300.12 99.88 300.38 99.12 300.88ZM100.38 299.88 101.12 299.38 101.88 299.62 101.12 300.12Z"/><path fill="#2ddedc" d="M261.12 283.62 196.88 284.12 156.88 285.38 133.88 287.38 122.38 288.88 103.88 292.38 91.62 295.88 83.12 299.12 76.38 302.88 70.38 307.38 62.88 314.88 45.88 335.38 39.88 341.88 33.62 347.88 33.88 353.38 38.88 349.38 43.38 345.12 43.62 345.38 39.12 349.88 33.62 354.12 33.88 358.12 48.62 347.62 66.38 331.62 74.88 320.62 80.88 314.12 84.62 313.88 85.38 313.38 85.88 313.62 82.88 316.12 74.62 324.88 57.88 340.38 47.38 349.38 39.88 354.88 33.88 358.62 33.62 359.38 36.88 359.38 37.62 358.88 38.12 359.12 37.88 359.38 39.38 359.38 68.88 344.38 79.38 339.88 89.12 335.12 96.62 332.12 110.62 325.12 120.88 320.88 130.88 317.62 150.12 317.12 175.12 311.62 200.12 307.38 237.38 302.88 261.12 300.62 261.12 296.38 236.88 297.12 214.38 298.38 190.88 300.88 169.88 303.62 152.12 306.62 138.12 309.62 121.38 314.12 108.88 319.12 101.12 323.38 78.38 338.38 61.62 347.62 61.12 347.38 79.62 336.62 84.62 332.88 97.62 321.62 103.38 321.12 109.62 317.88 120.12 313.62 144.38 307.38 157.12 304.88 178.62 301.62 214.62 297.62 237.38 296.38 261.12 295.62 261.12 292.62 251.88 292.38 261.12 292.12 261.12 285.62 257.88 285.38 261.12 285.12ZM41.38 357.38 39.38 358.62 38.88 358.38 40.88 357.12ZM57.62 349.62 56.62 350.38 56.12 350.12 57.12 349.38ZM60.88 347.88 59.38 348.88 58.88 348.62 60.38 347.62ZM98.12 315.12 94.62 317.62 81.38 329.12 65.38 341.88 52.88 350.62 41.62 357.38 41.12 357.12 57.38 346.88 69.88 337.62 74.12 334.12 83.88 323.88 91.62 316.38 92.88 315.62 95.38 315.62 97.62 314.88ZM101.62 313.38 98.88 314.88 98.38 314.62 100.88 313.12ZM85.88 313.12 86.38 312.62 86.88 312.88 86.38 313.38ZM103.88 312.38 102.62 313.12 101.88 312.88 103.12 312.12ZM86.62 312.62 87.12 312.12 87.62 312.38 87.12 312.88ZM103.62 312.12 104.38 311.62 105.12 311.88 104.38 312.38ZM104.88 311.62 105.62 311.12 106.38 311.38 105.62 311.88ZM108.38 310.62 106.88 311.38 106.12 311.12 107.62 310.38ZM91.88 310.38 90.62 311.12 89.88 310.88 91.12 310.12ZM75.62 310.12 75.88 310.38 63.12 323.38 49.62 339.12 43.62 345.38 43.38 344.88 48.88 339.12 57.88 328.62 65.38 318.38 72.12 310.38ZM92.12 309.88 92.88 309.38 93.62 309.62 92.88 310.12ZM111.88 309.38 109.62 310.38 108.88 310.12 111.12 309.12ZM76.62 309.62 77.12 309.12 77.88 309.38 77.12 309.88ZM95.62 308.88 94.12 309.62 93.38 309.38 94.88 308.62ZM113.88 308.62 112.38 309.38 111.62 309.12 113.12 308.38ZM95.38 308.62 96.12 308.12 96.88 308.38 96.12 308.88ZM113.62 308.38 114.38 307.88 115.12 308.12 114.38 308.62ZM81.12 308.12 78.38 309.38 77.62 309.12 80.38 307.88ZM96.62 308.12 97.38 307.62 98.12 307.88 97.38 308.38ZM115.62 307.62 116.38 307.12 117.12 307.38 116.38 307.88ZM97.88 307.62 98.62 307.12 99.38 307.38 98.62 307.88ZM81.62 307.62 82.38 307.12 83.12 307.38 82.38 307.88ZM99.12 307.12 99.88 306.62 100.62 306.88 99.88 307.38ZM82.88 307.12 83.62 306.62 84.38 306.88 83.62 307.38ZM100.88 306.38 101.62 305.88 102.38 306.12 101.62 306.62ZM86.62 305.88 85.38 306.62 84.62 306.38 85.88 305.62ZM122.62 305.62 120.88 306.38 119.88 306.12 121.62 305.38ZM102.12 305.88 102.88 305.38 103.62 305.62 102.88 306.12ZM103.38 305.38 104.12 304.88 104.88 305.12 104.12 305.62ZM124.12 304.88 125.12 304.38 126.12 304.62 125.12 305.12ZM104.62 304.88 105.38 304.38 106.12 304.62 105.38 305.12ZM89.38 304.62 88.12 305.38 87.38 305.12 88.62 304.38ZM105.88 304.38 106.62 303.88 107.38 304.12 106.62 304.62ZM89.62 304.12 90.38 303.62 91.12 303.88 90.38 304.38ZM131.38 303.38 129.12 304.12 127.88 303.88 130.12 303.12ZM107.62 303.62 108.38 303.12 109.12 303.38 108.38 303.88ZM91.38 303.38 92.12 302.88 92.88 303.12 92.12 303.62ZM131.12 303.12 132.38 302.62 133.62 302.88 132.38 303.38ZM108.88 303.12 109.62 302.62 110.38 302.88 109.62 303.38ZM92.62 302.88 93.38 302.38 94.12 302.62 93.38 303.12ZM110.12 302.62 110.88 302.12 111.62 302.38 110.88 302.88ZM137.12 302.12 134.62 302.88 133.38 302.62 135.88 301.88ZM93.88 302.38 94.62 301.88 95.38 302.12 94.62 302.62ZM111.38 302.12 112.12 301.62 112.88 301.88 112.12 302.38ZM95.12 301.88 95.88 301.38 96.62 301.62 95.88 302.12ZM113.38 301.38 114.12 300.88 114.88 301.12 114.12 301.62ZM96.38 301.38 97.12 300.88 97.88 301.12 97.12 301.62ZM146.12 300.38 142.12 301.38 140.62 301.12 144.62 300.12ZM99.88 300.38 98.38 301.12 97.62 300.88 99.12 300.12ZM117.62 300.12 116.12 300.88 115.38 300.62 116.88 299.88ZM147.12 299.88 148.62 299.38 150.12 299.62 148.62 300.12ZM101.88 299.62 100.38 300.38 99.62 300.12 101.12 299.38ZM149.88 299.38 151.38 298.88 152.88 299.12 151.38 299.62ZM121.12 298.88 119.62 299.62 118.88 299.38 120.38 298.62ZM104.62 298.62 103.12 299.38 102.38 299.12 103.88 298.38ZM160.88 297.62 163.12 297.12 165.38 297.38 163.12 297.88ZM129.88 296.38 125.62 297.62 124.62 297.38 128.62 296.12ZM129.62 296.12 130.88 295.62 132.12 295.88 130.88 296.38ZM113.88 295.62 112.12 296.38 111.12 296.12 112.88 295.38ZM134.38 295.12 135.88 294.62 137.38 294.88 135.88 295.38ZM115.12 294.88 116.12 294.38 117.12 294.62 116.12 295.12ZM122.12 293.38 118.88 294.38 117.88 294.12 120.88 293.12ZM121.88 293.12 123.12 292.62 124.38 292.88 123.12 293.38ZM126.88 292.12 128.38 291.62 130.12 291.88 128.38 292.38Z"/><path fill="#40ecd4" d="M261.12 283.62 196.88 284.12 156.88 285.38 133.88 287.38 122.38 288.88 103.88 292.38 91.62 295.88 83.12 299.12 76.38 302.88 70.38 307.38 62.88 314.88 45.88 335.38 39.88 341.88 33.62 347.88 33.62 353.38 39.12 349.12 50.12 337.62 53.88 333.12 64.38 318.38 71.12 310.38 75.38 310.12 86.88 305.12 87.62 305.38 83.62 307.38 77.88 309.38 74.88 311.12 63.12 323.38 43.62 345.62 37.38 351.38 33.62 354.12 33.62 358.12 45.38 350.12 59.12 338.38 69.62 325.62 74.88 318.62 79.38 314.12 84.62 313.88 85.62 313.12 86.12 313.38 82.88 316.12 74.62 324.88 57.88 340.38 47.38 349.38 39.88 354.88 33.88 358.62 33.62 359.38 36.88 359.38 37.62 358.88 38.12 359.12 37.88 359.38 39.38 359.38 42.88 357.62 43.12 356.88 43.62 357.12 63.62 346.88 83.62 337.88 106.38 325.88 116.62 321.12 126.38 317.62 149.88 317.12 173.62 311.88 201.62 307.12 237.12 302.88 261.12 300.62 261.12 296.38 236.88 297.12 214.38 298.38 190.88 300.88 169.88 303.62 152.12 306.62 138.12 309.62 121.38 314.12 108.88 319.12 101.12 323.38 78.38 338.38 58.38 349.38 57.88 349.12 58.38 348.62 71.38 341.38 79.38 335.88 85.38 331.12 96.38 321.38 103.12 321.12 108.38 318.38 117.12 314.62 134.38 309.62 147.62 306.62 162.62 303.88 188.12 300.38 210.88 297.88 235.88 296.38 261.12 295.62 261.12 292.62 250.62 292.38 261.12 292.12 261.12 288.88 259.88 288.62 261.12 288.38 261.12 285.62 255.12 285.38 261.12 285.12ZM45.62 355.62 46.12 355.12 46.62 355.38 46.12 355.88ZM52.38 352.38 50.38 353.62 49.88 353.38 51.88 352.12ZM57.62 349.62 55.62 350.88 55.12 350.62 57.12 349.38ZM98.12 315.12 94.62 317.62 71.88 336.88 62.62 343.88 48.88 353.12 38.38 359.12 37.88 358.88 51.62 350.62 67.88 339.12 76.88 330.12 84.38 321.62 90.62 315.88 96.88 315.38 97.62 314.88ZM85.88 313.12 86.38 312.62 86.88 312.88 86.38 313.38ZM86.62 312.62 87.12 312.12 87.62 312.38 87.12 312.88ZM90.12 311.12 88.38 312.12 87.88 311.88 89.38 310.88ZM92.38 310.12 90.62 311.12 89.88 310.88 91.62 309.88ZM92.12 309.88 92.88 309.38 93.62 309.62 92.88 310.12ZM115.12 308.12 103.88 312.38 98.38 315.12 97.88 314.88 101.88 312.62 114.38 307.88ZM117.12 307.38 115.62 308.12 114.88 307.88 116.38 307.12ZM101.12 306.62 94.88 309.38 93.38 309.38 100.38 306.38ZM100.88 306.38 101.62 305.88 102.38 306.12 101.62 306.62ZM102.12 305.88 102.88 305.38 103.62 305.62 102.88 306.12ZM123.38 305.38 117.62 307.38 116.88 307.12 122.38 305.12ZM89.88 304.38 88.12 305.38 87.38 305.12 89.12 304.12ZM107.88 303.88 104.12 305.62 103.38 305.38 107.12 303.62ZM91.62 303.62 90.38 304.38 89.62 304.12 90.88 303.38ZM107.62 303.62 108.38 303.12 109.12 303.38 108.38 303.88ZM91.38 303.38 92.12 302.88 92.88 303.12 92.12 303.62ZM111.62 302.38 109.62 303.38 108.88 303.12 110.88 302.12ZM111.38 302.12 112.12 301.62 112.88 301.88 112.12 302.38ZM114.88 301.12 113.38 301.88 112.62 301.62 114.12 300.88ZM97.88 301.12 93.38 303.12 92.62 302.88 96.38 301.12ZM117.62 300.12 115.38 301.12 114.62 300.88 116.88 299.88ZM121.12 298.88 118.12 300.12 117.38 299.88 120.38 298.62ZM104.62 298.62 98.38 301.12 97.62 300.88 103.88 298.38ZM124.88 297.62 122.38 298.62 121.62 298.38 123.88 297.38ZM111.38 296.38 105.12 298.62 104.38 298.38 110.38 296.12ZM190.88 295.12 175.12 296.38 155.88 298.62 137.12 302.12 124.12 305.38 123.12 305.12 132.12 302.62 155.62 298.12 177.62 295.62 187.12 294.88ZM115.38 295.12 112.12 296.38 111.12 296.12 114.38 294.88ZM194.38 294.62 198.38 294.12 202.62 294.38 198.38 294.88ZM143.62 293.88 132.12 295.88 125.62 297.62 124.62 297.38 134.38 294.88 141.88 293.62ZM148.88 293.12 145.12 293.88 143.38 293.62 146.88 292.88ZM188.12 290.38 160.12 291.88 150.62 293.12 148.62 292.88 157.12 291.62 181.38 290.12ZM196.38 289.88 207.38 289.38 219.88 289.62 207.38 290.12ZM157.62 288.62 131.62 291.62 122.12 293.38 116.12 295.12 115.12 294.88 121.88 292.88 131.38 291.12 151.88 288.62ZM169.62 287.88 160.88 288.62 157.38 288.38 164.88 287.62ZM169.38 287.62 174.62 287.12 180.62 287.38 174.62 287.88Z"/><path fill="#52f5cb" d="M261.12 292.62 240.88 292.88 212.12 293.88 175.12 296.38 152.88 299.12 137.12 302.12 123.38 305.38 106.38 311.38 98.12 315.12 94.62 317.62 81.38 329.12 65.38 341.88 52.88 350.62 37.88 359.38 39.12 359.38 39.12 358.88 39.62 359.12 39.62 358.62 40.12 358.88 40.12 358.38 40.62 358.62 40.62 358.12 41.12 358.38 41.12 357.88 41.62 358.12 41.62 357.62 42.62 357.62 42.38 357.38 43.38 356.62 43.88 356.88 43.62 357.12 65.62 345.88 84.62 337.38 104.12 325.88 114.12 320.88 122.12 317.62 134.62 317.12 149.38 317.12 172.12 312.12 198.12 307.62 218.88 304.88 261.12 300.62 261.12 296.38 236.88 297.12 214.38 298.38 190.88 300.88 169.88 303.62 152.12 306.62 138.12 309.62 121.38 314.12 108.88 319.12 101.12 323.38 78.38 338.38 57.88 349.62 57.38 349.38 57.88 348.88 67.38 343.62 79.12 335.12 86.38 329.12 94.38 321.62 97.88 321.12 102.88 321.12 112.12 316.62 122.12 312.88 142.62 307.62 167.12 303.12 187.62 300.38 213.12 297.62 234.62 296.38 261.12 295.62ZM46.62 355.38 45.62 356.12 45.12 355.88 46.12 355.12ZM52.38 352.38 49.38 354.12 48.88 353.88 51.88 352.12ZM57.62 349.62 54.62 351.38 54.12 351.12 57.12 349.38ZM261.12 285.62 202.62 286.62 157.62 288.62 140.88 290.38 125.62 292.62 111.38 296.38 91.62 303.62 83.62 307.38 77.88 309.38 74.88 311.12 63.12 323.38 43.62 345.62 37.38 351.38 33.62 354.12 33.62 358.12 45.62 349.88 51.12 345.38 55.12 341.38 65.38 329.12 74.62 316.88 77.38 314.12 85.12 313.62 85.62 313.12 86.12 313.38 82.88 316.12 74.62 324.88 57.88 340.38 47.38 349.38 39.88 354.88 33.88 358.62 33.62 359.38 36.62 359.38 39.62 357.88 53.12 349.62 60.62 344.38 66.62 339.12 74.38 331.38 84.88 319.38 88.62 315.88 91.88 315.38 96.62 315.38 104.12 311.62 121.38 305.38 133.12 302.38 149.62 299.12 160.62 297.38 174.62 295.88 217.12 293.12 249.88 292.12 261.12 292.12 261.12 288.88 188.12 290.38 167.38 291.38 152.88 292.62 137.38 294.88 124.88 297.62 112.88 301.88 92.38 310.12 87.62 312.38 86.38 313.38 85.88 313.12 87.38 311.88 92.12 309.62 112.62 301.38 124.62 297.12 138.38 294.12 159.62 291.38 195.62 289.62 257.88 288.62 261.12 288.38ZM261.12 283.62 196.88 284.12 156.88 285.38 133.88 287.38 122.38 288.88 103.88 292.38 91.62 295.88 83.12 299.12 78.38 301.62 72.88 305.38 68.12 309.38 59.38 318.88 45.88 335.38 39.88 341.88 33.62 347.88 33.62 353.38 39.62 348.62 47.88 340.12 61.12 321.38 66.88 313.88 70.12 310.38 75.88 309.88 78.12 308.62 83.38 306.88 89.62 303.88 98.88 300.12 115.12 294.62 122.88 292.62 131.12 291.12 160.38 287.88 201.62 286.12 261.12 285.12Z"/><path fill="#64fbc3" d="M261.12 292.62 240.88 292.88 212.12 293.88 175.12 296.38 152.88 299.12 137.12 302.12 123.38 305.38 106.38 311.38 98.12 315.12 94.62 317.62 81.38 329.12 65.38 341.88 52.88 350.62 37.88 359.38 39.12 359.38 39.12 358.88 39.62 359.12 39.62 358.62 40.12 358.88 40.12 358.38 40.62 358.62 40.62 358.12 41.12 358.38 41.12 357.88 42.12 357.88 41.88 357.62 43.38 356.62 43.88 356.88 43.62 357.12 67.12 345.12 86.62 336.38 106.12 323.88 116.62 319.12 120.88 317.62 127.38 317.12 149.12 317.12 175.88 311.38 197.88 307.62 238.88 302.62 261.12 300.62 261.12 296.38 236.88 297.12 214.38 298.38 190.88 300.88 169.88 303.62 152.12 306.62 138.12 309.62 121.38 314.12 108.88 319.12 101.12 323.38 78.38 338.38 54.12 351.62 53.62 351.38 54.12 350.88 66.12 344.38 70.38 341.38 84.88 329.62 94.12 321.38 102.62 321.12 111.38 316.88 121.12 313.12 144.62 307.12 166.62 303.12 191.38 299.88 215.62 297.38 239.12 296.12 259.62 295.62 261.12 295.38ZM46.62 355.38 45.12 356.38 44.62 356.12 46.12 355.12ZM52.38 352.38 48.38 354.62 47.88 354.38 51.88 352.12ZM261.12 288.88 196.62 290.12 167.38 291.38 157.38 292.12 143.62 293.88 134.62 295.38 124.88 297.62 112.88 301.88 92.38 310.12 86.12 313.38 82.88 316.12 74.62 324.88 57.88 340.38 47.38 349.38 39.88 354.88 33.88 358.62 33.62 359.38 36.62 359.38 39.12 358.12 51.88 350.38 56.88 346.62 65.12 339.38 75.88 328.38 82.88 319.88 85.38 317.38 87.88 315.62 97.12 315.12 100.12 313.38 105.88 310.88 122.12 305.12 134.12 302.12 156.88 297.88 177.12 295.62 201.62 293.88 238.88 292.38 260.12 292.12 261.12 291.88ZM261.12 285.62 202.62 286.62 157.62 288.62 140.88 290.38 125.62 292.62 111.38 296.38 91.62 303.62 83.62 307.38 77.88 309.38 74.88 311.12 63.12 323.38 43.62 345.62 37.38 351.38 33.62 354.12 33.62 358.12 45.88 349.62 52.12 343.38 61.38 332.38 75.12 314.38 76.88 313.88 85.12 313.62 87.38 311.88 92.62 309.38 111.88 301.62 125.38 296.88 141.38 293.62 152.12 292.12 166.12 290.88 194.62 289.62 261.12 288.38ZM261.12 283.62 196.88 284.12 156.88 285.38 133.88 287.38 122.38 288.88 103.88 292.38 91.62 295.88 83.12 299.12 78.38 301.62 72.88 305.38 68.12 309.38 59.38 318.88 45.88 335.38 39.88 341.88 33.62 347.88 33.62 353.38 38.12 349.88 42.88 345.38 49.62 336.62 60.38 321.12 68.88 310.38 75.88 309.88 78.62 308.38 83.88 306.62 88.38 304.38 98.12 300.38 113.38 295.12 121.62 292.88 129.38 291.38 156.88 288.12 200.88 286.12 261.12 285.12Z"/><path fill="#76ffb9" d="M261.12 292.62 240.88 292.88 212.12 293.88 175.12 296.38 152.88 299.12 137.12 302.12 123.38 305.38 106.38 311.38 98.12 315.12 94.62 317.62 81.38 329.12 65.38 341.88 52.88 350.62 37.88 359.38 38.88 358.88 39.62 359.12 39.62 358.62 40.12 358.88 40.12 358.38 41.12 358.38 40.88 358.12 43.38 356.62 43.88 356.88 43.62 357.12 68.12 344.62 86.38 336.38 105.38 324.12 113.88 320.12 120.38 317.62 122.88 317.12 150.38 316.88 174.38 311.62 197.62 307.62 238.62 302.62 261.12 300.62 261.12 296.38 236.88 297.12 214.38 298.38 190.88 300.88 169.88 303.62 152.12 306.62 138.12 309.62 121.38 314.12 108.88 319.12 101.12 323.38 78.38 338.38 52.62 352.38 52.12 352.12 52.62 351.62 60.88 347.38 67.88 343.12 82.62 331.38 94.12 321.38 103.38 320.88 110.62 317.12 120.88 313.12 143.12 307.38 167.88 302.88 190.88 299.88 214.88 297.38 237.88 296.12 261.12 295.38ZM46.62 355.38 44.62 356.62 44.12 356.38 46.12 355.12ZM52.38 352.38 47.38 355.12 46.88 354.88 51.88 352.12ZM261.12 288.88 196.62 290.12 167.38 291.38 157.38 292.12 143.62 293.88 134.62 295.38 124.88 297.62 112.88 301.88 92.38 310.12 86.12 313.38 82.88 316.12 74.62 324.88 57.88 340.38 47.38 349.38 39.88 354.88 33.88 358.62 33.62 359.38 36.62 359.38 40.38 357.38 47.62 352.88 54.62 347.62 62.62 340.62 84.88 317.62 88.38 315.38 97.12 315.12 103.38 311.88 121.12 305.38 136.38 301.62 156.62 297.88 179.62 295.38 205.62 293.62 238.12 292.38 258.88 292.12 261.12 291.88ZM261.12 285.62 202.62 286.62 157.62 288.62 140.88 290.38 125.62 292.62 111.38 296.38 91.62 303.62 83.62 307.38 77.88 309.38 74.88 311.12 63.12 323.38 43.62 345.62 37.38 351.38 33.62 354.12 33.62 357.88 40.62 353.38 50.12 344.38 58.88 333.88 67.62 322.12 74.62 314.62 75.88 313.88 78.38 313.62 84.88 313.62 88.62 311.12 93.12 309.12 103.12 305.38 111.12 301.88 124.38 297.12 136.62 294.38 158.88 291.38 193.62 289.62 261.12 288.38ZM261.12 283.62 196.88 284.12 156.88 285.38 133.88 287.38 122.38 288.88 103.88 292.38 91.62 295.88 83.12 299.12 78.38 301.62 72.88 305.38 68.12 309.38 59.38 318.88 45.88 335.38 39.88 341.88 33.62 347.88 33.62 353.12 35.88 351.62 43.38 343.62 52.12 331.88 60.12 320.12 67.88 310.38 75.88 309.88 77.38 308.88 84.38 306.38 97.38 300.62 114.88 294.62 122.62 292.62 132.38 290.88 159.62 287.88 208.88 285.88 261.12 285.12Z"/><path fill="#88ffaf" d="M261.12 292.62 240.88 292.88 212.12 293.88 175.12 296.38 152.88 299.12 137.12 302.12 123.38 305.38 106.38 311.38 98.12 315.12 94.62 317.62 81.38 329.12 65.38 341.88 52.88 350.62 37.88 359.38 43.38 356.62 43.88 356.88 43.62 357.12 45.62 356.12 44.12 356.88 43.62 356.62 46.12 355.12 46.62 355.38 46.38 355.62 69.12 344.12 85.38 336.88 104.62 324.38 112.38 320.62 119.88 317.62 121.88 317.12 129.62 316.88 150.38 316.88 172.88 311.88 199.12 307.38 238.38 302.62 260.88 300.62 261.12 296.38 236.88 297.12 214.38 298.38 190.88 300.88 169.88 303.62 152.12 306.62 134.12 310.62 117.62 315.38 104.88 321.12 78.38 338.38 60.38 348.38 46.88 355.38 46.38 355.12 46.88 354.62 55.38 350.38 66.62 343.88 82.12 331.62 94.12 321.12 103.12 320.88 111.62 316.62 120.62 313.12 142.88 307.38 169.12 302.62 194.62 299.38 214.12 297.38 236.62 296.12 261.12 295.38ZM261.12 288.88 196.62 290.12 167.38 291.38 157.38 292.12 143.62 293.88 134.62 295.38 124.88 297.62 112.88 301.88 92.38 310.12 86.12 313.38 82.88 316.12 74.62 324.88 57.88 340.38 47.38 349.38 39.88 354.88 33.88 358.62 33.62 359.38 37.12 359.12 42.88 355.88 48.38 351.88 64.88 337.38 73.12 329.62 84.12 318.12 87.88 315.38 97.12 315.12 103.88 311.62 121.88 305.12 133.88 302.12 158.12 297.62 176.38 295.62 205.12 293.62 261.12 291.88ZM261.12 285.62 202.62 286.62 157.62 288.62 140.88 290.38 125.62 292.62 111.38 296.38 91.62 303.62 83.62 307.38 77.88 309.38 74.88 311.12 63.12 323.38 43.62 345.62 37.38 351.38 33.62 354.12 33.62 357.38 38.62 353.62 44.38 348.12 63.38 326.38 75.38 313.88 85.38 313.38 87.62 311.62 91.88 309.62 112.38 301.38 125.12 296.88 142.62 293.38 156.12 291.62 165.38 290.88 192.62 289.62 261.12 288.38ZM261.12 283.62 173.12 284.62 156.88 285.38 127.62 288.12 108.38 291.38 89.38 296.62 83.12 299.12 78.38 301.62 72.88 305.38 67.38 310.12 75.62 309.88 77.88 308.62 83.12 306.88 95.38 301.38 112.38 295.38 122.38 292.62 133.88 290.62 156.12 288.12 177.88 286.88 218.62 285.62 261.12 285.12Z"/><path fill="#9bfba5" d="M261.12 296.38 217.88 298.12 184.62 301.62 169.88 303.62 152.12 306.62 138.12 309.62 124.88 313.12 117.62 315.38 104.88 321.12 78.38 338.38 60.38 348.38 46.38 355.62 64.38 346.38 85.12 336.88 103.88 324.62 110.88 321.12 120.12 317.38 123.12 316.88 150.12 316.88 175.38 311.38 198.88 307.38 226.62 303.88 252.62 301.12 260.62 300.62 261.12 300.38ZM261.12 292.62 240.88 292.88 212.12 293.88 175.12 296.38 152.88 299.12 137.12 302.12 123.38 305.38 106.38 311.38 98.12 315.12 94.62 317.62 81.38 329.12 65.38 341.88 52.88 350.62 37.88 359.38 54.38 350.88 65.38 344.62 83.12 330.62 94.38 320.88 102.88 320.88 110.88 316.88 120.38 313.12 138.12 308.38 156.38 304.62 179.62 301.12 213.38 297.38 235.38 296.12 261.12 295.38ZM261.12 288.88 196.62 290.12 167.38 291.38 157.38 292.12 143.62 293.88 134.62 295.38 124.88 297.62 112.88 301.88 92.38 310.12 86.12 313.38 82.88 316.12 74.62 324.88 57.88 340.38 47.38 349.38 39.88 354.88 33.88 358.62 33.62 359.38 36.38 359.38 43.12 355.62 48.12 351.88 67.62 334.62 78.12 324.38 83.38 318.62 86.62 315.88 88.12 315.12 97.38 314.88 105.62 310.88 124.38 304.38 134.88 301.88 157.88 297.62 178.88 295.38 204.62 293.62 236.12 292.38 261.12 291.88ZM261.12 285.62 202.62 286.62 157.62 288.62 140.88 290.38 125.62 292.62 111.38 296.38 91.62 303.62 83.62 307.38 77.88 309.38 74.88 311.12 63.12 323.38 43.62 345.62 37.38 351.38 33.62 354.12 33.62 357.12 38.38 353.62 45.12 347.12 61.38 328.38 75.12 313.88 78.62 313.38 85.38 313.38 87.62 311.62 92.38 309.38 111.62 301.62 124.12 297.12 134.88 294.62 158.38 291.38 191.88 289.62 261.12 288.38ZM261.12 283.62 173.12 284.62 156.88 285.38 127.62 288.12 108.38 291.38 89.38 296.62 83.12 299.12 78.38 301.62 72.88 305.38 67.62 309.88 76.12 309.62 91.62 302.88 109.88 296.12 123.38 292.38 137.38 290.12 158.88 287.88 177.38 286.88 217.38 285.62 261.12 285.12Z"/><path fill="#acf59a" d="M261.12 296.38 217.88 298.12 184.62 301.62 169.88 303.62 152.12 306.62 138.12 309.62 124.88 313.12 117.62 315.38 104.88 321.12 78.38 338.38 60.38 348.38 46.38 355.62 66.38 345.38 83.62 337.62 104.38 324.12 112.62 320.12 120.12 317.12 130.88 316.62 151.12 316.62 173.88 311.62 200.38 307.12 237.88 302.62 261.12 300.38ZM261.12 292.62 240.88 292.88 212.12 293.88 175.12 296.38 152.88 299.12 137.12 302.12 123.38 305.38 106.38 311.38 98.12 315.12 94.62 317.62 81.38 329.12 65.38 341.88 52.88 350.62 37.88 359.38 53.88 351.12 65.12 344.62 81.38 331.88 93.88 320.88 103.38 320.62 109.62 317.38 119.38 313.38 138.88 308.12 157.38 304.38 179.12 301.12 212.88 297.38 239.88 295.88 260.62 295.38 261.12 295.12ZM261.12 288.88 196.62 290.12 167.38 291.38 157.38 292.12 143.62 293.88 134.62 295.38 124.88 297.62 112.88 301.88 92.38 310.12 86.12 313.38 82.88 316.12 74.62 324.88 57.88 340.38 47.38 349.38 39.88 354.88 33.88 358.62 33.62 359.38 36.38 359.38 42.12 356.12 49.38 350.62 67.38 334.62 78.62 323.62 82.62 319.12 87.38 315.12 97.38 314.88 103.12 311.88 121.62 305.12 137.12 301.38 156.12 297.88 178.62 295.38 204.12 293.62 235.38 292.38 261.12 291.88ZM261.12 285.62 202.62 286.62 157.62 288.62 140.88 290.38 125.62 292.62 111.38 296.38 91.62 303.62 83.62 307.38 77.88 309.38 74.88 311.12 63.12 323.38 43.62 345.62 37.38 351.38 33.62 354.12 33.62 357.12 40.12 351.88 45.38 346.62 61.62 327.88 75.12 313.62 85.12 313.38 87.12 311.88 92.88 309.12 112.88 301.12 124.88 296.88 140.62 293.62 160.88 291.12 190.88 289.62 261.12 288.38ZM261.12 283.62 173.12 284.62 156.88 285.38 127.62 288.12 108.38 291.38 89.38 296.62 83.12 299.12 78.38 301.62 72.88 305.38 67.62 309.88 76.12 309.62 77.12 308.88 84.12 306.38 97.12 300.62 112.12 295.38 122.12 292.62 137.12 290.12 158.62 287.88 176.62 286.88 216.12 285.62 261.12 285.12Z"/><path fill="#c0eb8d" d="M261.12 296.38 217.88 298.12 184.62 301.62 169.88 303.62 152.12 306.62 138.12 309.62 124.88 313.12 117.62 315.38 104.88 321.12 78.38 338.38 60.38 348.38 46.38 355.62 67.38 344.88 83.38 337.62 103.62 324.38 111.62 320.38 118.12 317.88 119.12 316.88 152.12 315.88 181.88 310.12 203.62 306.62 237.62 302.62 261.12 300.38ZM261.12 292.62 240.88 292.88 212.12 293.88 175.12 296.38 152.88 299.12 137.12 302.12 123.38 305.38 106.38 311.38 98.12 315.12 94.62 317.62 81.38 329.12 65.38 341.88 52.88 350.62 37.88 359.38 63.12 345.88 70.62 340.38 81.12 331.88 93.88 320.62 104.62 319.88 114.62 315.12 121.62 312.62 138.62 308.12 155.62 304.62 180.62 300.88 212.12 297.38 232.88 296.12 261.12 295.12ZM261.12 288.88 196.62 290.12 167.38 291.38 157.38 292.12 143.62 293.88 134.62 295.38 124.88 297.62 112.88 301.88 92.38 310.12 86.12 313.38 82.88 316.12 74.62 324.88 57.88 340.38 47.38 349.38 39.88 354.88 33.88 358.62 33.62 359.38 36.38 359.38 42.88 355.38 49.38 350.38 67.12 334.62 87.12 314.88 97.62 314.38 104.62 311.12 124.12 304.38 133.38 302.12 155.88 297.88 175.38 295.62 199.38 293.88 226.62 292.62 261.12 291.88ZM261.12 285.62 202.62 286.62 157.62 288.62 140.88 290.38 125.62 292.62 111.38 296.38 91.62 303.62 83.62 307.38 77.88 309.38 74.88 311.12 63.12 323.38 43.62 345.62 37.38 351.38 33.62 354.12 33.62 356.88 40.12 351.62 45.62 346.12 61.88 327.38 74.88 313.38 85.38 312.88 90.12 310.12 95.88 308.12 112.12 301.38 125.62 296.62 137.38 294.12 149.12 292.38 167.88 290.62 199.12 289.38 261.12 288.38ZM261.12 283.62 173.12 284.62 156.88 285.38 127.62 288.12 108.38 291.38 89.38 296.62 83.12 299.12 78.38 301.62 72.88 305.38 67.62 309.88 76.12 309.12 77.88 308.12 83.38 306.38 98.38 300.12 116.12 294.12 125.62 291.88 135.12 290.38 155.12 288.12 176.12 286.88 215.12 285.62 261.12 285.12Z"/><path fill="#d2de81" d="M261.12 296.38 221.88 297.88 199.38 299.88 175.12 302.88 160.38 305.12 141.38 308.88 130.38 311.62 117.62 315.38 104.88 321.12 78.38 338.38 52.12 352.62 68.38 344.38 81.38 338.62 104.12 323.88 111.12 320.38 117.88 317.62 117.12 317.12 118.12 316.62 145.12 315.12 151.62 315.12 164.88 312.62 180.12 310.62 203.38 306.62 244.38 301.88 261.12 300.38ZM261.12 292.62 240.88 292.88 212.12 293.88 175.12 296.38 152.88 299.12 137.12 302.12 123.38 305.38 106.38 311.38 98.12 315.12 94.62 317.62 81.38 329.12 65.38 341.88 52.88 350.62 37.88 359.38 55.62 350.12 62.88 345.88 70.38 340.38 91.12 323.12 92.62 321.62 92.38 321.12 92.88 320.62 98.88 319.62 103.88 319.38 116.12 314.38 127.62 310.88 141.62 307.38 162.62 303.38 184.12 300.38 211.62 297.38 231.88 296.12 261.12 295.12ZM261.12 288.88 196.62 290.12 167.38 291.38 157.38 292.12 143.62 293.88 134.62 295.38 124.88 297.62 112.88 301.88 92.38 310.12 86.12 313.38 82.88 316.12 74.62 324.88 57.88 340.38 47.38 349.38 39.88 354.88 33.88 358.62 33.62 359.38 36.38 359.38 38.12 358.38 50.88 348.88 71.62 330.12 86.12 315.62 85.62 315.38 85.88 314.88 97.62 313.88 99.12 312.88 105.12 310.38 121.62 304.88 135.62 301.62 157.38 297.62 175.12 295.62 207.88 293.38 242.38 292.12 261.12 291.88ZM261.12 285.62 202.62 286.62 161.12 288.38 147.38 289.62 131.62 291.62 124.38 292.88 115.38 295.12 97.88 301.12 83.62 307.38 77.88 309.38 74.88 311.12 63.12 323.38 43.62 345.62 37.38 351.38 33.62 354.12 33.62 356.62 40.12 351.38 45.38 346.12 61.88 327.12 74.12 314.12 73.62 313.62 76.12 312.88 85.62 312.12 87.38 310.88 93.12 308.38 123.88 297.12 138.62 293.88 157.38 291.38 189.38 289.62 246.62 288.38 261.12 288.38ZM261.12 283.62 173.12 284.62 156.88 285.38 127.62 288.12 108.38 291.38 89.38 296.62 83.12 299.12 78.38 301.62 72.88 305.38 67.62 309.88 76.38 308.38 78.12 307.38 83.38 305.62 92.38 301.88 116.88 293.88 126.88 291.62 134.88 290.38 154.88 288.12 175.38 286.88 213.88 285.62 259.88 285.12 261.12 284.88Z"/><path fill="#e4cf74" d="M261.12 296.38 221.88 297.88 199.38 299.88 175.12 302.88 160.38 305.12 141.38 308.88 130.38 311.62 117.62 315.38 104.88 321.12 78.38 338.38 52.12 352.62 69.38 343.88 81.12 338.62 104.12 323.62 110.62 320.38 117.38 317.62 115.62 317.12 116.62 316.62 141.38 314.62 151.12 314.38 170.62 310.88 189.38 308.38 197.88 307.62 206.88 306.12 244.12 301.88 261.12 300.38ZM261.12 292.62 240.88 292.88 212.12 293.88 175.12 296.38 152.88 299.12 137.12 302.12 123.38 305.38 106.38 311.38 98.12 315.12 94.62 317.62 81.38 329.12 65.38 341.88 52.88 350.62 37.88 359.38 55.12 350.38 62.62 345.88 70.12 340.38 90.88 323.12 92.38 321.62 91.62 321.12 92.88 320.38 98.88 319.12 104.38 318.62 115.62 313.88 129.12 310.12 144.88 306.62 163.88 303.12 187.88 299.88 213.88 297.12 236.12 295.88 261.12 295.12ZM261.12 288.88 196.62 290.12 167.38 291.38 157.38 292.12 143.62 293.88 134.62 295.38 124.88 297.62 112.88 301.88 92.38 310.12 86.12 313.38 82.88 316.12 74.62 324.88 57.88 340.38 47.38 349.38 39.88 354.88 33.88 358.62 33.62 359.38 36.12 359.38 46.88 351.88 52.88 346.88 71.62 329.88 85.62 315.88 84.88 315.38 85.12 314.88 88.88 314.12 97.12 313.38 100.62 311.62 118.62 305.12 125.88 303.12 157.12 297.62 177.62 295.38 207.38 293.38 241.38 292.12 261.12 291.88ZM261.12 285.62 202.62 286.62 161.12 288.38 147.38 289.62 131.62 291.62 124.38 292.88 115.38 295.12 97.88 301.12 75.88 310.38 63.12 323.38 43.62 345.62 37.38 351.38 33.62 354.12 33.62 356.38 40.12 351.12 45.38 345.88 61.62 327.12 73.88 314.12 73.12 313.62 75.88 312.62 85.38 311.62 89.88 309.12 111.88 300.88 122.62 297.38 135.62 294.38 148.62 292.38 159.88 291.12 197.12 289.38 261.12 288.38ZM261.12 283.62 173.12 284.62 156.88 285.38 127.62 288.12 108.38 291.38 89.38 296.62 83.12 299.12 78.38 301.62 72.88 305.38 67.88 309.62 76.12 307.88 78.38 306.62 89.12 302.38 105.38 296.88 120.62 292.88 134.62 290.38 151.88 288.38 169.62 287.12 212.88 285.62 256.88 285.12 261.12 284.88Z"/><path fill="#f6be68" d="M261.12 296.38 221.88 297.88 199.38 299.88 175.12 302.88 160.38 305.12 141.38 308.88 130.38 311.62 117.62 315.38 104.88 321.12 78.38 338.38 52.12 352.62 64.62 346.12 80.38 338.88 102.88 324.12 110.12 320.38 116.62 317.62 114.88 317.38 114.88 316.88 133.88 314.62 151.88 313.38 168.38 310.38 190.62 307.38 207.62 305.62 216.38 305.12 239.12 302.38 261.12 300.38ZM261.12 292.62 240.88 292.88 212.12 293.88 175.12 296.38 152.88 299.12 137.12 302.12 123.38 305.38 106.38 311.38 98.12 315.12 94.62 317.62 81.38 329.12 65.38 341.88 52.88 350.62 37.88 359.38 58.62 348.38 66.88 342.62 92.12 321.62 91.38 321.38 91.38 320.88 97.62 318.88 104.38 317.88 110.62 315.12 120.38 311.62 141.12 306.88 173.62 301.62 216.38 296.88 240.88 295.62 261.12 295.12ZM261.12 288.88 196.62 290.12 167.38 291.38 157.38 292.12 143.62 293.88 134.62 295.38 124.88 297.62 112.88 301.88 92.38 310.12 86.12 313.38 82.88 316.12 74.62 324.88 57.88 340.38 47.38 349.38 39.88 354.88 33.88 358.62 33.62 359.38 35.88 359.38 43.88 353.88 51.12 348.12 72.12 329.12 85.38 315.88 84.38 315.38 86.38 314.38 97.62 312.62 106.12 308.88 125.12 302.62 147.62 298.62 171.88 295.88 198.12 293.88 231.88 292.38 261.12 291.88ZM261.12 285.62 202.62 286.62 161.12 288.38 147.38 289.62 131.62 291.62 124.38 292.88 115.38 295.12 97.88 301.12 75.88 310.38 63.12 323.38 43.62 345.62 37.38 351.38 33.62 354.12 33.62 355.88 38.38 352.38 45.12 345.88 61.62 326.88 73.38 314.38 72.62 313.62 77.12 312.12 85.12 311.12 92.12 307.62 118.62 298.12 131.62 294.88 148.38 292.38 159.62 291.12 196.12 289.38 259.12 288.38 261.12 288.12ZM261.12 283.62 173.12 284.62 156.88 285.38 127.62 288.12 108.38 291.38 89.38 296.62 83.12 299.12 78.38 301.62 72.88 305.38 67.88 309.62 76.38 307.12 79.12 305.62 89.12 301.62 102.38 297.12 116.12 293.38 128.12 291.12 149.12 288.62 164.62 287.38 211.62 285.62 261.12 284.88Z"/><path fill="#ffa95b" d="M261.12 296.38 221.88 297.88 199.38 299.88 161.88 304.88 148.38 307.38 134.12 310.62 117.62 315.38 104.88 321.12 83.38 335.38 57.38 349.88 66.12 345.38 76.38 340.88 80.88 338.38 104.12 323.12 115.88 317.62 114.38 317.38 114.38 316.88 133.62 314.12 151.38 312.62 169.38 309.38 196.38 305.88 215.62 304.12 234.12 303.12 243.62 301.88 261.12 300.38ZM261.12 292.62 240.88 292.88 212.12 293.88 175.12 296.38 152.88 299.12 137.12 302.12 123.38 305.38 106.38 311.38 98.12 315.12 94.62 317.62 81.38 329.12 65.38 341.88 52.88 350.62 37.88 359.38 56.38 349.62 64.12 344.38 72.88 337.62 91.88 321.62 91.12 321.38 91.12 320.88 96.88 318.62 104.62 317.12 114.62 312.88 121.38 310.62 138.62 306.62 159.88 303.12 215.62 296.88 245.88 295.38 260.12 295.12 261.12 294.88ZM261.12 288.88 196.62 290.12 167.38 291.38 157.38 292.12 143.62 293.88 134.62 295.38 124.88 297.62 112.88 301.88 92.38 310.12 86.12 313.38 82.88 316.12 74.62 324.88 57.88 340.38 47.38 349.38 39.88 354.88 33.88 358.62 33.62 359.38 35.88 359.12 41.38 355.38 49.62 349.12 57.12 342.62 72.62 328.38 85.12 315.88 84.12 315.62 84.12 315.12 89.62 313.38 97.62 312.12 104.62 308.88 118.62 303.88 127.62 301.38 133.88 300.12 157.88 296.62 211.38 293.12 249.38 291.88 261.12 291.88ZM261.12 285.62 202.62 286.62 161.12 288.38 147.38 289.62 131.62 291.62 124.38 292.88 115.38 295.12 97.88 301.12 75.88 310.38 63.12 323.38 43.62 345.62 37.38 351.38 33.62 354.12 33.62 355.62 40.62 350.12 47.62 342.88 61.38 326.88 73.12 314.38 72.38 314.12 72.38 313.62 76.62 311.88 85.62 310.38 92.62 306.88 116.88 298.12 123.62 296.12 130.62 294.62 138.38 293.38 156.12 291.38 175.12 290.12 195.12 289.38 261.12 288.12ZM261.12 283.62 173.12 284.62 156.88 285.38 127.62 288.12 108.38 291.38 89.38 296.62 83.12 299.12 78.38 301.62 72.88 305.38 68.12 309.38 76.12 306.62 79.88 304.62 87.88 301.38 101.88 296.62 118.12 292.38 128.12 290.62 144.62 288.88 168.62 287.12 210.62 285.62 261.12 284.88Z"/><path fill="#ff934d" d="M84.62 315.88 83.62 315.62 82.88 316.12 77.38 322.12 69.38 329.88 50.12 347.12 39.88 354.88 33.88 358.62 33.62 359.38 34.88 359.38 49.88 348.62 68.62 331.88ZM72.88 314.12 71.88 314.12 66.12 320.12 43.62 345.62 37.38 351.38 33.62 354.12 33.62 355.38 37.12 352.88 44.12 346.38 61.12 326.88ZM261.12 296.38 221.88 297.88 199.38 299.88 161.88 304.88 148.38 307.38 134.12 310.62 117.62 315.38 104.88 321.12 83.38 335.38 57.38 349.88 67.62 344.62 74.12 341.88 81.38 337.88 103.62 323.12 110.62 319.62 115.38 317.62 113.62 317.38 114.88 316.62 135.38 313.38 150.88 311.88 170.38 308.38 193.38 305.38 213.88 303.38 246.88 301.62 261.12 300.38ZM261.12 292.62 240.88 292.88 212.12 293.88 175.12 296.38 152.88 299.12 137.12 302.12 123.38 305.38 106.38 311.38 98.12 315.12 94.62 317.62 81.38 329.12 65.38 341.88 52.88 350.62 37.88 359.38 55.88 349.88 70.38 339.38 91.62 321.62 90.88 321.38 90.88 320.88 96.38 318.38 104.62 316.38 109.62 314.12 119.88 310.38 135.12 306.62 157.88 302.62 175.88 300.62 190.62 299.62 215.12 296.88 238.12 295.62 261.12 294.88ZM261.12 288.88 181.62 290.62 160.12 291.88 143.62 293.88 132.12 295.88 121.12 298.88 92.38 310.12 87.62 312.38 84.12 315.12 88.38 313.38 97.88 311.38 105.12 308.12 123.88 301.62 132.88 299.62 146.62 297.38 158.38 295.88 176.62 294.62 197.12 294.12 205.88 293.38 230.38 292.38 259.62 291.88 261.12 291.62ZM261.12 285.62 212.12 286.38 174.88 287.62 152.12 289.12 131.62 291.62 117.12 294.62 101.88 299.62 91.62 303.62 83.62 307.38 77.88 309.38 74.88 311.12 72.38 313.62 75.62 311.88 85.38 309.88 88.38 308.12 93.12 306.12 117.62 297.38 125.88 295.12 137.12 293.12 151.62 291.38 165.88 290.38 204.62 289.12 261.12 288.12ZM261.12 283.62 173.12 284.62 156.88 285.38 127.62 288.12 108.38 291.38 89.38 296.62 83.12 299.12 78.38 301.62 72.88 305.38 68.62 309.12 83.62 302.38 97.38 297.38 114.62 292.62 128.12 290.12 158.38 287.38 209.62 285.62 261.12 284.88Z"/><path fill="#ff7b40" d="M114.62 317.62 112.38 317.62 104.88 321.12 83.38 335.38 57.38 349.88 76.62 340.38 83.38 336.38 103.12 323.12ZM84.38 315.88 83.62 315.62 82.88 316.12 77.38 322.12 69.38 329.88 51.88 345.62 43.38 352.38 33.88 358.62 33.62 359.38 34.62 359.38 39.88 355.88 50.12 348.12 69.38 330.88ZM71.88 314.12 63.12 323.38 43.62 345.62 37.38 351.38 33.88 353.88 33.62 355.12 37.38 352.38 43.38 346.88 60.62 327.12 72.62 314.38ZM261.12 296.38 236.88 297.12 214.38 298.38 175.12 302.88 156.12 305.88 141.38 308.88 121.38 314.12 114.12 316.88 121.38 315.12 133.38 313.12 151.88 310.88 168.12 307.88 192.62 304.62 215.62 302.38 261.12 299.88ZM261.12 292.62 240.88 292.88 212.12 293.88 175.12 296.38 152.88 299.12 137.12 302.12 123.38 305.38 106.38 311.38 98.12 315.12 94.62 317.62 81.38 329.12 65.38 341.88 52.88 350.62 42.62 356.88 38.62 358.88 54.38 350.62 69.38 339.88 91.12 321.88 90.62 321.12 91.62 320.38 97.88 317.38 104.62 315.62 109.12 313.62 120.88 309.38 137.62 305.38 161.62 301.38 181.38 299.38 205.62 297.88 217.88 296.62 261.12 294.88ZM261.12 288.88 181.62 290.62 160.12 291.88 143.62 293.88 132.12 295.88 121.12 298.88 92.38 310.12 87.62 312.38 84.12 315.12 89.12 312.88 97.62 310.88 106.88 306.88 123.38 301.12 133.12 298.88 143.62 297.12 159.12 295.12 178.12 293.88 238.12 291.88 260.62 291.62 261.12 291.38ZM261.12 285.62 212.12 286.38 174.88 287.62 152.12 289.12 131.62 291.62 117.12 294.62 101.88 299.62 91.62 303.62 83.62 307.38 77.88 309.38 74.88 311.12 72.38 313.62 75.62 311.62 85.12 309.38 89.38 307.12 94.88 304.88 115.12 297.62 124.88 294.88 134.38 293.12 152.62 290.88 167.62 289.88 244.38 288.12 261.12 288.12ZM261.12 283.62 173.12 284.62 156.88 285.38 127.62 288.12 108.38 291.38 89.38 296.62 83.12 299.12 78.38 301.62 72.88 305.38 69.12 308.62 81.88 302.38 93.62 297.88 112.12 292.62 128.12 289.62 141.88 288.12 163.88 286.62 185.88 286.38 214.62 285.38 261.12 284.88Z"/><path fill="#ff5f30" d="M90.88 321.62 89.38 322.12 71.88 336.88 62.62 343.88 52.88 350.62 41.12 357.62 52.38 351.62 61.88 345.12 72.12 337.38ZM113.88 317.62 112.38 317.62 104.88 321.12 83.38 335.38 57.38 349.88 76.12 340.38 84.88 335.12 101.88 323.62ZM84.12 315.88 82.88 316.12 77.38 322.12 69.38 329.88 51.88 345.62 43.38 352.38 33.88 358.62 33.62 359.38 36.12 358.12 42.62 353.62 52.12 346.12 70.12 329.88ZM72.12 314.12 63.12 323.38 43.62 345.62 37.38 351.38 33.88 353.88 33.62 354.88 39.38 350.38 46.38 343.38 60.38 327.12 72.38 314.38ZM261.12 296.38 236.88 297.12 214.38 298.38 175.12 302.88 156.12 305.88 141.38 308.88 121.38 314.12 114.62 316.62 121.38 314.88 133.38 312.62 147.62 310.38 151.38 310.12 169.12 306.88 187.62 304.38 214.12 301.62 261.12 299.12ZM261.12 292.62 232.38 293.12 202.62 294.38 177.88 296.12 155.88 298.62 131.38 303.38 117.12 307.38 103.88 312.38 98.12 315.12 94.62 317.62 91.38 320.62 97.38 317.12 105.38 314.62 118.62 309.38 135.38 305.12 154.38 301.62 175.62 299.12 201.88 297.12 229.12 295.62 261.12 294.62ZM261.12 288.88 181.62 290.62 160.12 291.88 143.62 293.88 132.12 295.88 121.12 298.88 92.38 310.12 87.62 312.38 84.12 315.12 87.62 313.12 97.62 310.38 107.38 306.12 122.88 300.62 132.12 298.38 145.62 296.12 159.88 294.38 179.88 293.12 204.38 292.62 235.12 291.38 257.62 291.12 261.12 290.88ZM261.12 285.62 212.12 286.38 174.88 287.62 152.12 289.12 131.62 291.62 117.12 294.62 101.88 299.62 91.62 303.62 83.62 307.38 77.88 309.38 74.88 311.12 72.62 313.38 76.12 311.12 85.62 308.62 90.38 306.12 106.12 300.12 122.88 294.88 133.12 292.88 153.62 290.38 169.12 289.38 229.88 287.88 259.88 287.62 261.12 287.38ZM261.12 283.62 173.12 284.62 156.88 285.38 127.62 288.12 108.38 291.38 89.38 296.62 83.12 299.12 78.38 301.62 74.88 303.88 69.38 308.38 71.12 307.12 81.38 301.88 95.38 296.62 110.62 292.38 128.12 289.12 144.88 287.38 163.38 286.12 215.62 284.88 261.12 284.38Z"/><path fill="#ff4422" d="M90.38 321.62 65.38 341.88 52.88 350.62 41.12 357.62 53.12 350.88 66.62 341.38 81.88 329.12ZM113.12 317.62 108.88 319.12 103.12 322.12 83.38 335.38 60.62 348.12 68.38 344.38 78.62 338.62 101.38 323.62 106.12 320.88ZM83.62 315.88 82.88 316.12 77.38 322.12 69.38 329.88 51.88 345.62 43.38 352.38 33.88 358.62 33.62 359.38 45.62 351.12 56.38 342.12 70.88 328.88ZM71.88 314.12 60.88 325.88 43.62 345.62 37.38 351.38 33.88 353.88 33.62 354.62 39.88 349.62 45.88 343.62 62.12 324.88 72.12 314.38ZM261.12 296.38 236.88 297.12 214.38 298.38 175.12 302.88 156.12 305.88 141.38 308.88 121.38 314.12 114.62 316.62 121.38 314.62 137.12 311.38 175.38 305.12 212.62 300.88 261.12 298.38ZM261.12 292.62 232.38 293.12 202.62 294.38 177.88 296.12 155.88 298.62 131.38 303.38 117.12 307.38 103.88 312.38 98.12 315.12 94.62 317.62 91.62 320.38 94.38 318.38 98.62 316.12 104.12 314.38 120.38 308.12 134.38 304.62 154.38 300.88 172.88 298.62 202.12 296.38 231.38 294.88 261.12 294.12ZM261.12 288.88 181.62 290.62 160.12 291.88 143.62 293.88 132.12 295.88 121.12 298.88 92.38 310.12 87.62 312.38 84.38 314.88 85.62 313.88 88.88 312.38 97.38 309.88 109.12 304.88 122.38 300.12 128.88 298.38 142.62 295.88 157.88 293.88 176.38 292.62 231.88 290.88 261.12 290.38ZM261.12 285.62 212.12 286.38 174.88 287.62 152.12 289.12 131.62 291.62 117.12 294.62 101.88 299.62 91.62 303.62 83.62 307.38 77.88 309.38 74.88 311.12 72.62 313.38 73.62 312.38 76.62 310.62 85.38 308.12 90.88 305.38 106.62 299.38 119.12 295.38 125.12 293.88 133.62 292.38 151.88 290.12 165.62 289.12 216.12 287.62 258.88 287.12 261.12 286.88ZM261.12 283.62 173.12 284.62 156.88 285.38 131.62 287.62 108.38 291.38 91.62 295.88 84.88 298.38 80.12 300.62 74.88 303.88 70.88 307.12 74.38 304.88 83.12 300.38 93.12 296.62 103.12 293.62 113.62 291.12 132.12 288.12 154.38 286.12 170.12 285.38 217.12 284.38 261.12 284.12Z"/><path fill="#ff2914" d="M90.12 321.62 81.38 329.12 65.38 341.88 52.88 350.62 41.12 357.62 51.88 351.38 65.88 341.62 83.62 327.38ZM112.38 317.62 103.12 322.12 83.38 335.38 60.62 348.12 83.12 335.62 102.88 322.38ZM83.38 315.88 69.38 329.88 51.88 345.62 43.38 352.38 33.62 358.88 43.88 352.12 52.88 344.88 71.88 327.62ZM71.88 314.38 63.12 323.38 43.62 345.62 37.38 351.38 33.62 354.12 38.38 350.62 45.12 344.12 61.62 325.12ZM261.12 296.38 236.88 297.12 214.38 298.38 175.12 302.88 156.12 305.88 141.38 308.88 124.88 313.12 115.88 316.12 122.38 314.12 141.88 309.88 164.62 305.88 178.38 303.88 214.12 299.88 261.12 297.62ZM261.12 292.62 232.38 293.12 202.62 294.38 177.88 296.12 155.88 298.62 131.38 303.38 117.12 307.38 103.88 312.38 98.12 315.12 94.62 317.62 91.62 320.38 94.38 318.12 99.12 315.38 121.38 307.12 135.62 303.62 154.38 300.12 175.38 297.62 194.62 296.12 227.12 294.38 259.88 293.62 261.12 293.38ZM261.12 288.88 181.62 290.62 160.12 291.88 143.62 293.88 132.12 295.88 121.12 298.88 92.38 310.12 87.62 312.38 84.62 314.62 86.62 313.12 90.62 311.38 97.12 309.38 112.12 303.12 125.12 298.62 135.38 296.38 144.62 294.88 158.62 293.12 177.88 291.88 228.38 290.38 261.12 289.88ZM261.12 285.62 212.12 286.38 174.88 287.62 152.12 289.12 131.62 291.62 117.12 294.62 104.62 298.62 91.62 303.62 83.62 307.38 77.88 309.38 75.88 310.38 73.12 312.88 75.12 311.12 77.12 310.12 85.12 307.62 93.12 303.88 107.88 298.38 118.12 295.12 132.38 292.12 150.38 289.88 166.88 288.62 214.62 287.12 257.62 286.62 261.12 286.38ZM241.88 283.88 196.88 284.12 166.12 284.88 144.38 286.38 127.62 288.12 108.38 291.38 91.62 295.88 84.88 298.38 80.12 300.62 73.38 305.12 82.62 299.88 94.88 295.38 110.88 291.12 128.12 288.12 142.12 286.62 162.62 285.12 202.38 284.12Z"/><path fill="#ff0d06" d="M261.12 296.38 217.88 298.12 184.62 301.62 161.88 304.88 148.38 307.38 134.12 310.62 119.12 314.88 136.38 310.38 148.62 307.88 165.62 304.88 183.38 302.38 215.88 298.88 244.88 297.38 261.12 296.88ZM261.12 292.62 232.38 293.12 202.62 294.38 177.88 296.12 155.88 298.62 133.62 302.88 120.12 306.38 102.12 313.12 98.12 315.12 93.38 318.88 96.38 316.38 100.12 314.38 118.38 307.38 134.62 303.12 155.88 299.12 172.62 297.12 202.38 294.88 229.38 293.62 255.38 293.12ZM261.12 288.88 188.12 290.38 163.62 291.62 148.88 293.12 134.62 295.38 124.88 297.62 112.88 301.88 92.38 310.12 86.62 313.12 88.62 311.88 92.88 310.12 97.62 308.62 111.88 302.62 124.62 298.12 135.62 295.62 150.38 293.38 159.38 292.38 179.62 291.12 235.62 289.62 261.12 289.38ZM261.12 285.62 212.12 286.38 180.62 287.38 157.62 288.62 136.88 290.88 122.12 293.38 115.38 295.12 104.62 298.62 91.62 303.62 83.62 307.38 77.88 309.38 75.88 310.38 73.88 312.12 75.62 310.62 78.12 309.38 84.38 307.38 97.38 301.62 113.88 295.88 123.12 293.38 138.12 290.88 156.62 288.88 173.62 287.88 213.38 286.62 256.12 286.12Z"/><path fill="none" stroke="#5a3cf0" stroke-width="1.05" d="M33.5 362.53 34.93 361.81 36.37 361.11 37.8 360.4 39.23 359.69 40.66 358.98 42.1 358.26 43.53 357.53 44.96 356.8 46.39 356.08 47.83 355.35 49.26 354.63 50.69 353.9 52.13 353.17 53.56 352.45 54.99 351.72 56.42 350.99 57.86 350.26 59.29 349.53 60.72 348.81 62.15 348.1 63.59 347.4 65.02 346.7 66.45 346.01 67.88 345.33 69.32 344.66 70.75 344.01 72.18 343.38 73.62 342.75 75.05 342.12 76.48 341.49 77.91 340.85 79.35 340.21 80.78 339.57 82.21 338.94 83.64 338.32 85.08 337.7 86.51 337.09 87.94 336.48 89.38 335.88 90.81 335.28 92.24 334.69 93.67 334.1 95.11 333.52 96.54 332.94 97.97 332.37 99.4 331.8 100.84 331.24 102.27 330.68 103.7 330.14 105.14 329.61 106.57 329.08 108 328.56 109.43 328.05 110.87 327.54 112.3 327.04 113.73 326.55 115.16 326.08 116.6 325.61 118.03 325.17 119.46 324.75 120.89 324.34 122.33 323.94 123.76 323.56 125.19 323.18 126.63 322.82 128.06 322.46 129.49 322.1 130.92 321.76 132.36 321.41 133.79 321.07 135.22 320.74 136.65 320.41 138.09 320.09 139.52 319.78 140.95 319.47 142.39 319.16 143.82 318.85 145.25 318.53 146.68 318.22 148.12 317.9 149.55 317.58 150.98 317.26 152.41 316.94 153.85 316.62 155.28 316.3 156.71 315.98 158.15 315.66 159.58 315.35 161.01 315.04 162.44 314.74 163.88 314.43 165.31 314.13 166.74 313.83 168.17 313.53 169.61 313.24 171.04 312.95 172.47 312.66 173.91 312.38 175.34 312.11 176.77 311.85 178.2 311.58 179.64 311.32 181.07 311.06 182.5 310.81 183.93 310.55 185.37 310.3 186.8 310.05 188.23 309.8 189.66 309.56 191.1 309.32 192.53 309.08 193.96 308.85 195.4 308.62 196.83 308.39 198.26 308.17 199.69 307.95 201.13 307.74 202.56 307.53 203.99 307.33 205.42 307.13 206.86 306.93 208.29 306.74 209.72 306.55 211.16 306.37 212.59 306.19 214.02 306.01 215.45 305.84 216.89 305.66 218.32 305.49 219.75 305.33 221.18 305.16 222.62 304.99 224.05 304.83 225.48 304.67 226.92 304.51 228.35 304.35 229.78 304.19 231.21 304.03 232.65 303.88 234.08 303.72 235.51 303.56 236.94 303.4 238.38 303.25 239.81 303.09 241.24 302.94 242.67 302.78 244.11 302.63 245.54 302.48 246.97 302.33 248.41 302.18 249.84 302.04 251.27 301.89 252.7 301.75 254.14 301.61 255.57 301.48 257 301.34 258.43 301.21 259.87 301.09 261.3 300.96"/><path fill="none" stroke="#1a1a1a" stroke-opacity="0.75" stroke-width="0.55" d="M33.5 362 34.93 361.31 36.37 360.63 37.8 359.96 39.23 359.27 40.66 358.56 42.1 357.81 43.53 357.04 44.96 356.26 46.39 355.48 47.83 354.72 49.26 353.97 50.69 353.23 52.13 352.5 53.56 351.76 54.99 351.01 56.42 350.25 57.86 349.49 59.29 348.72 60.72 347.95 62.15 347.17 63.59 346.38 65.02 345.59 66.45 344.79 67.88 343.99 69.32 343.2 70.75 342.41 72.18 341.62 73.62 340.83 75.05 340.03 76.48 339.22 77.91 338.4 79.35 337.57 80.78 336.72 82.21 335.86 83.64 334.97 85.08 334.04 86.51 333.09 87.94 332.12 89.38 331.15 90.81 330.19 92.24 329.23 93.67 328.27 95.11 327.31 96.54 326.36 97.97 325.43 99.4 324.49 100.84 323.55 102.27 322.64 103.7 321.78 105.14 320.98 106.57 320.24 108 319.53 109.43 318.86 110.87 318.22 112.3 317.58 113.73 316.96 115.16 316.35 116.6 315.77 118.03 315.22 119.46 314.73 120.89 314.27 122.33 313.84 123.76 313.43 125.19 313.04 126.63 312.64 128.06 312.24 129.49 311.85 130.92 311.46 132.36 311.08 133.79 310.7 135.22 310.34 136.65 309.98 138.09 309.63 139.52 309.29 140.95 308.97 142.39 308.65 143.82 308.33 145.25 308.03 146.68 307.72 148.12 307.42 149.55 307.13 150.98 306.84 152.41 306.56 153.85 306.29 155.28 306.02 156.71 305.76 158.15 305.5 159.58 305.25 161.01 305.01 162.44 304.78 163.88 304.55 165.31 304.32 166.74 304.1 168.17 303.88 169.61 303.66 171.04 303.45 172.47 303.25 173.91 303.04 175.34 302.84 176.77 302.65 178.2 302.45 179.64 302.26 181.07 302.08 182.5 301.89 183.93 301.71 185.37 301.53 186.8 301.36 188.23 301.18 189.66 301.01 191.1 300.85 192.53 300.68 193.96 300.51 195.4 300.34 196.83 300.17 198.26 300 199.69 299.84 201.13 299.68 202.56 299.51 203.99 299.36 205.42 299.2 206.86 299.06 208.29 298.91 209.72 298.77 211.16 298.64 212.59 298.51 214.02 298.4 215.45 298.28 216.89 298.18 218.32 298.09 219.75 298 221.18 297.91 222.62 297.83 224.05 297.75 225.48 297.67 226.92 297.59 228.35 297.52 229.78 297.45 231.21 297.38 232.65 297.31 234.08 297.24 235.51 297.18 236.94 297.12 238.38 297.06 239.81 297 241.24 296.94 242.67 296.88 244.11 296.83 245.54 296.77 246.97 296.72 248.41 296.67 249.84 296.62 251.27 296.57 252.7 296.52 254.14 296.47 255.57 296.42 257 296.37 258.43 296.32 259.87 296.27 261.3 296.23"/><path fill="none" stroke="#1a1a1a" stroke-opacity="0.75" stroke-width="0.55" d="M33.5 361.47 34.93 360.75 36.37 360.02 37.8 359.29 39.23 358.54 40.66 357.77 42.1 356.96 43.53 356.12 44.96 355.27 46.39 354.4 47.83 353.53 49.26 352.65 50.69 351.77 52.13 350.87 53.56 349.96 54.99 349.02 56.42 348.05 57.86 347.05 59.29 346.04 60.72 345.01 62.15 343.98 63.59 342.95 65.02 341.9 66.45 340.85 67.88 339.77 69.32 338.67 70.75 337.54 72.18 336.37 73.62 335.19 75.05 334.01 76.48 332.84 77.91 331.68 79.35 330.53 80.78 329.37 82.21 328.2 83.64 327.01 85.08 325.8 86.51 324.57 87.94 323.34 89.38 322.12 90.81 320.92 92.24 319.68 93.67 318.41 95.11 317.2 96.54 316.11 97.97 315.19 99.4 314.4 100.84 313.69 102.27 313.04 103.7 312.42 105.14 311.83 106.57 311.27 108 310.74 109.43 310.23 110.87 309.72 112.3 309.2 113.73 308.65 115.16 308.11 116.6 307.57 118.03 307.05 119.46 306.57 120.89 306.12 122.33 305.68 123.76 305.26 125.19 304.87 126.63 304.5 128.06 304.14 129.49 303.79 130.92 303.46 132.36 303.13 133.79 302.82 135.22 302.51 136.65 302.22 138.09 301.92 139.52 301.64 140.95 301.36 142.39 301.08 143.82 300.8 145.25 300.52 146.68 300.24 148.12 299.97 149.55 299.71 150.98 299.45 152.41 299.19 153.85 298.95 155.28 298.71 156.71 298.49 158.15 298.27 159.58 298.07 161.01 297.88 162.44 297.71 163.88 297.54 165.31 297.37 166.74 297.21 168.17 297.06 169.61 296.91 171.04 296.76 172.47 296.62 173.91 296.48 175.34 296.35 176.77 296.22 178.2 296.1 179.64 295.97 181.07 295.85 182.5 295.74 183.93 295.63 185.37 295.52 186.8 295.41 188.23 295.31 189.66 295.21 191.1 295.11 192.53 295.01 193.96 294.91 195.4 294.82 196.83 294.73 198.26 294.64 199.69 294.55 201.13 294.46 202.56 294.38 203.99 294.29 205.42 294.21 206.86 294.13 208.29 294.06 209.72 293.99 211.16 293.92 212.59 293.85 214.02 293.78 215.45 293.72 216.89 293.66 218.32 293.61 219.75 293.55 221.18 293.5 222.62 293.45 224.05 293.4 225.48 293.35 226.92 293.3 228.35 293.25 229.78 293.2 231.21 293.16 232.65 293.11 234.08 293.07 235.51 293.03 236.94 292.98 238.38 292.94 239.81 292.9 241.24 292.86 242.67 292.82 244.11 292.79 245.54 292.75 246.97 292.72 248.41 292.68 249.84 292.65 251.27 292.61 252.7 292.58 254.14 292.55 255.57 292.52 257 292.49 258.43 292.47 259.87 292.44 261.3 292.41"/><path fill="none" stroke="#1a1a1a" stroke-opacity="0.75" stroke-width="0.55" d="M33.5 358.84 34.93 357.95 36.37 357.02 37.8 356.06 39.23 355.07 40.66 354.08 42.1 353.06 43.53 352.03 44.96 350.98 46.39 349.89 47.83 348.77 49.26 347.61 50.69 346.41 52.13 345.17 53.56 343.92 54.99 342.68 56.42 341.43 57.86 340.17 59.29 338.89 60.72 337.61 62.15 336.32 63.59 335.01 65.02 333.7 66.45 332.37 67.88 331.04 69.32 329.69 70.75 328.34 72.18 326.98 73.62 325.61 75.05 324.21 76.48 322.79 77.91 321.3 79.35 319.75 80.78 318.22 82.21 316.75 83.64 315.41 85.08 314.16 86.51 313.05 87.94 312.18 89.38 311.46 90.81 310.8 92.24 310.18 93.67 309.6 95.11 309.04 96.54 308.48 97.97 307.9 99.4 307.32 100.84 306.74 102.27 306.15 103.7 305.57 105.14 304.99 106.57 304.4 108 303.81 109.43 303.22 110.87 302.65 112.3 302.09 113.73 301.54 115.16 301 116.6 300.48 118.03 299.96 119.46 299.46 120.89 298.94 122.33 298.44 123.76 297.95 125.19 297.51 126.63 297.13 128.06 296.77 129.49 296.44 130.92 296.12 132.36 295.81 133.79 295.52 135.22 295.25 136.65 294.99 138.09 294.74 139.52 294.51 140.95 294.28 142.39 294.06 143.82 293.84 145.25 293.63 146.68 293.43 148.12 293.23 149.55 293.03 150.98 292.85 152.41 292.67 153.85 292.5 155.28 292.34 156.71 292.19 158.15 292.05 159.58 291.92 161.01 291.8 162.44 291.7 163.88 291.59 165.31 291.5 166.74 291.4 168.17 291.31 169.61 291.22 171.04 291.14 172.47 291.06 173.91 290.98 175.34 290.91 176.77 290.84 178.2 290.77 179.64 290.7 181.07 290.64 182.5 290.58 183.93 290.53 185.37 290.47 186.8 290.42 188.23 290.37 189.66 290.32 191.1 290.28 192.53 290.23 193.96 290.19 195.4 290.15 196.83 290.11 198.26 290.08 199.69 290.04 201.13 290.01 202.56 289.98 203.99 289.95 205.42 289.92 206.86 289.89 208.29 289.86 209.72 289.83 211.16 289.8 212.59 289.77 214.02 289.74 215.45 289.71 216.89 289.68 218.32 289.65 219.75 289.63 221.18 289.6 222.62 289.57 224.05 289.54 225.48 289.51 226.92 289.48 228.35 289.44 229.78 289.42 231.21 289.39 232.65 289.36 234.08 289.33 235.51 289.3 236.94 289.27 238.38 289.24 239.81 289.21 241.24 289.18 242.67 289.16 244.11 289.13 245.54 289.1 246.97 289.08 248.41 289.05 249.84 289.03 251.27 289 252.7 288.98 254.14 288.96 255.57 288.94 257 288.92 258.43 288.9 259.87 288.88 261.3 288.86"/><path fill="none" stroke="#1a1a1a" stroke-opacity="0.75" stroke-width="0.55" d="M33.5 354.11 34.93 353.06 36.37 351.95 37.8 350.78 39.23 349.56 40.66 348.28 42.1 346.92 43.53 345.47 44.96 343.96 46.39 342.41 47.83 340.85 49.26 339.26 50.69 337.63 52.13 335.96 53.56 334.3 54.99 332.64 56.42 330.99 57.86 329.33 59.29 327.68 60.72 326.04 62.15 324.44 63.59 322.86 65.02 321.3 66.45 319.76 67.88 318.25 69.32 316.78 70.75 315.25 72.18 313.69 73.62 312.23 75.05 310.96 76.48 310.02 77.91 309.32 79.35 308.75 80.78 308.24 82.21 307.72 83.64 307.14 85.08 306.51 86.51 305.87 87.94 305.22 89.38 304.58 90.81 303.97 92.24 303.37 93.67 302.78 95.11 302.2 96.54 301.63 97.97 301.07 99.4 300.52 100.84 299.98 102.27 299.46 103.7 298.94 105.14 298.44 106.57 297.94 108 297.46 109.43 296.99 110.87 296.52 112.3 296.07 113.73 295.62 115.16 295.18 116.6 294.76 118.03 294.36 119.46 293.99 120.89 293.64 122.33 293.3 123.76 292.99 125.19 292.7 126.63 292.44 128.06 292.19 129.49 291.95 130.92 291.72 132.36 291.5 133.79 291.29 135.22 291.09 136.65 290.9 138.09 290.71 139.52 290.53 140.95 290.36 142.39 290.19 143.82 290.02 145.25 289.86 146.68 289.69 148.12 289.54 149.55 289.38 150.98 289.23 152.41 289.09 153.85 288.95 155.28 288.82 156.71 288.7 158.15 288.58 159.58 288.47 161.01 288.37 162.44 288.28 163.88 288.19 165.31 288.11 166.74 288.03 168.17 287.95 169.61 287.87 171.04 287.8 172.47 287.73 173.91 287.66 175.34 287.6 176.77 287.53 178.2 287.47 179.64 287.41 181.07 287.35 182.5 287.3 183.93 287.24 185.37 287.19 186.8 287.14 188.23 287.08 189.66 287.03 191.1 286.98 192.53 286.94 193.96 286.89 195.4 286.84 196.83 286.8 198.26 286.75 199.69 286.71 201.13 286.66 202.56 286.62 203.99 286.58 205.42 286.54 206.86 286.5 208.29 286.47 209.72 286.43 211.16 286.39 212.59 286.36 214.02 286.33 215.45 286.3 216.89 286.26 218.32 286.23 219.75 286.21 221.18 286.18 222.62 286.15 224.05 286.12 225.48 286.09 226.92 286.06 228.35 286.04 229.78 286.01 231.21 285.98 232.65 285.96 234.08 285.93 235.51 285.9 236.94 285.88 238.38 285.86 239.81 285.83 241.24 285.81 242.67 285.79 244.11 285.76 245.54 285.74 246.97 285.72 248.41 285.7 249.84 285.68 251.27 285.67 252.7 285.65 254.14 285.63 255.57 285.62 257 285.61 258.43 285.59 259.87 285.58 261.3 285.57"/><path fill="none" stroke="#8a1cf0" stroke-width="0.8" d="M33.5 347.27 34.93 345.87 36.37 344.47 37.8 343.05 39.23 341.6 40.66 340.12 42.1 338.59 43.53 337.03 44.96 335.44 46.39 333.82 47.83 332.17 49.26 330.46 50.69 328.71 52.13 326.94 53.56 325.17 54.99 323.43 56.42 321.7 57.86 319.96 59.29 318.25 60.72 316.58 62.15 314.97 63.59 313.39 65.02 311.84 66.45 310.34 67.88 308.92 69.32 307.6 70.75 306.37 72.18 305.2 73.62 304.09 75.05 303.06 76.48 302.1 77.91 301.21 79.35 300.37 80.78 299.59 82.21 298.86 83.64 298.19 85.08 297.57 86.51 296.99 87.94 296.45 89.38 295.94 90.81 295.45 92.24 295 93.67 294.57 95.11 294.16 96.54 293.76 97.97 293.35 99.4 292.93 100.84 292.51 102.27 292.11 103.7 291.73 105.14 291.39 106.57 291.06 108 290.75 109.43 290.45 110.87 290.17 112.3 289.89 113.73 289.62 115.16 289.36 116.6 289.12 118.03 288.87 119.46 288.64 120.89 288.42 122.33 288.19 123.76 287.98 125.19 287.77 126.63 287.57 128.06 287.38 129.49 287.19 130.92 287.01 132.36 286.85 133.79 286.69 135.22 286.53 136.65 286.39 138.09 286.25 139.52 286.12 140.95 285.99 142.39 285.86 143.82 285.74 145.25 285.62 146.68 285.5 148.12 285.38 149.55 285.26 150.98 285.14 152.41 285.02 153.85 284.91 155.28 284.8 156.71 284.69 158.15 284.59 159.58 284.5 161.01 284.42 162.44 284.35 163.88 284.28 165.31 284.22 166.74 284.16 168.17 284.1 169.61 284.05 171.04 284 172.47 283.96 173.91 283.91 175.34 283.88 176.77 283.84 178.2 283.8 179.64 283.77 181.07 283.74 182.5 283.7 183.93 283.67 185.37 283.64 186.8 283.61 188.23 283.59 189.66 283.56 191.1 283.53 192.53 283.51 193.96 283.48 195.4 283.46 196.83 283.44 198.26 283.42 199.69 283.4 201.13 283.38 202.56 283.36 203.99 283.34 205.42 283.32 206.86 283.3 208.29 283.29 209.72 283.27 211.16 283.26 212.59 283.24 214.02 283.23 215.45 283.21 216.89 283.2 218.32 283.19 219.75 283.17 221.18 283.16 222.62 283.15 224.05 283.14 225.48 283.13 226.92 283.11 228.35 283.1 229.78 283.09 231.21 283.08 232.65 283.07 234.08 283.06 235.51 283.05 236.94 283.04 238.38 283.03 239.81 283.02 241.24 283.01 242.67 283.01 244.11 283 245.54 282.99 246.97 282.98 248.41 282.97 249.84 282.96 251.27 282.95 252.7 282.95 254.14 282.94 255.57 282.93 257 282.93 258.43 282.92 259.87 282.92 261.3 282.91"/></g><rect x="33.5" y="276.1" width="227.8" height="83.4" fill="none" stroke="#6e6e6e" stroke-width="1"/><path d="M33.5 359.9v2.6" stroke="#444" stroke-width="0.8"/><text x="33.5" y="370.5" font-size="8.2" text-anchor="middle" fill="#141414">100</text><path d="M69.09 359.9v2.6" stroke="#444" stroke-width="0.8"/><text x="69.09" y="370.5" font-size="8.2" text-anchor="middle" fill="#141414">105</text><path d="M104.69 359.9v2.6" stroke="#444" stroke-width="0.8"/><text x="104.69" y="370.5" font-size="8.2" text-anchor="middle" fill="#141414">110</text><path d="M140.28 359.9v2.6" stroke="#444" stroke-width="0.8"/><text x="140.28" y="370.5" font-size="8.2" text-anchor="middle" fill="#141414">115</text><path d="M175.88 359.9v2.6" stroke="#444" stroke-width="0.8"/><text x="175.88" y="370.5" font-size="8.2" text-anchor="middle" fill="#141414">120</text><path d="M211.47 359.9v2.6" stroke="#444" stroke-width="0.8"/><text x="211.47" y="370.5" font-size="8.2" text-anchor="middle" fill="#141414">125</text><path d="M247.06 359.9v2.6" stroke="#444" stroke-width="0.8"/><text x="247.06" y="370.5" font-size="8.2" text-anchor="middle" fill="#141414">130</text><path d="M33.1 348.84h-2.6" stroke="#444" stroke-width="0.8"/><text x="29.1" y="351.84" font-size="8.2" text-anchor="end" fill="#141414">300</text><path d="M33.1 322.54h-2.6" stroke="#444" stroke-width="0.8"/><text x="29.1" y="325.54" font-size="8.2" text-anchor="end" fill="#141414">400</text><path d="M33.1 296.23h-2.6" stroke="#444" stroke-width="0.8"/><text x="29.1" y="299.23" font-size="8.2" text-anchor="end" fill="#141414">500</text><text x="147.4" y="380.1" font-size="8.2" text-anchor="middle" fill="#141414">x [km]</text><text x="10.9" y="317.8" font-size="8.2" text-anchor="middle" fill="#141414" transform="rotate(-90 10.9 317.8)">Height [m]</text><rect x="0.5" y="259.8" width="9.1" height="10.3" fill="#fff" stroke="#555" stroke-width="1"/><text x="5.05" y="268.8" font-size="10.6" text-anchor="middle" fill="#111">C</text><g clip-path="url(#clipD)"><path fill="#c6dbef" d="M573.38 22.12 536.62 23.38 502.62 25.62 487.12 27.12 451.62 31.62 431.12 33.12 409.88 35.38 401.12 36.62 395.12 38.12 389.62 40.12 383.88 43.12 378.38 47.62 375.88 50.38 366.88 62.88 352.38 84.88 349.62 88.38 349.62 96.62 359.88 96.38 395.62 78.38 414.12 67.88 430.62 59.62 449.62 51.12 462.12 46.62 497.62 37.38 521.88 32.12 544.62 28.38 573.38 24.88Z"/><path fill="#6baed6" d="M451.12 35.62 437.12 38.62 425.38 41.88 410.88 47.38 402.38 51.88 405.38 51.62 406.38 50.38 408.62 49.12 424.12 42.88 435.62 39.38ZM435.88 35.38 430.38 36.38 423.88 38.38 414.12 40.62 407.12 42.88 402.38 44.88 394.62 48.88 385.12 55.62 387.88 55.12 387.88 54.62 388.88 53.62 395.88 48.88 408.12 43.12 430.88 36.38ZM468.38 34.62 430.38 43.88 424.88 45.62 419.88 48.12 423.88 47.62 424.12 46.88 424.88 46.38 429.38 44.88 444.38 40.88 449.62 39.88ZM479.62 28.38 472.62 29.38 464.12 31.88 474.12 29.12ZM573.38 24.38 538.62 28.62 523.62 31.12 507.38 34.38 471.88 43.12 461.38 46.12 455.88 48.12 444.88 48.88 440.62 49.62 434.88 51.38 422.88 58.12 422.38 57.88 433.88 48.88 438.12 48.62 439.88 47.38 447.12 44.62 477.62 34.88 490.88 31.38 511.88 27.12 496.12 29.62 474.88 34.62 448.12 43.12 435.88 47.88 429.62 48.12 426.38 48.88 416.38 52.88 411.12 57.12 410.88 56.62 414.62 51.62 411.12 51.88 401.88 55.62 397.88 57.62 393.38 61.12 392.88 60.62 397.38 55.38 391.88 55.88 382.88 60.38 377.38 65.38 377.12 64.88 382.38 57.62 376.12 57.88 370.38 61.38 370.12 61.12 371.12 58.38 372.38 57.62 372.38 55.88 375.88 51.12 380.38 46.62 384.38 43.62 392.38 39.88 397.12 38.38 400.12 37.88 404.62 36.12 395.12 38.12 389.62 40.12 383.88 43.12 378.38 47.62 375.88 50.38 366.88 62.88 352.38 84.88 349.62 88.38 349.62 96.62 359.88 96.38 395.62 78.38 414.12 67.88 430.62 59.62 449.62 51.12 462.12 46.62 489.62 39.38 513.12 33.88 536.12 29.62 573.38 24.88Z"/><path fill="#2171b5" d="M467.12 37.12 444.62 44.38 436.62 47.38 429.38 51.12 415.38 56.38 413.12 57.62 407.12 62.88 406.62 62.62 413.62 52.62 408.62 56.62 404.88 58.62 397.88 61.38 393.88 63.38 389.12 66.88 388.62 66.62 392.88 60.62 396.62 56.12 388.62 61.62 381.38 65.12 378.62 66.88 376.88 68.62 373.62 70.88 373.38 70.38 381.62 58.38 364.88 69.38 364.62 68.88 366.88 62.88 352.38 84.88 349.62 88.38 349.62 96.62 359.88 96.38 395.62 78.38 414.12 67.88 430.62 59.62 446.62 52.38 455.88 48.88 449.12 49.38 436.12 53.38 427.88 57.12 416.38 63.38 415.88 63.12 434.12 48.62 436.12 48.38 437.38 47.38 446.62 43.88Z"/><path fill="#08306b" d="M449.38 51.38 434.38 56.12 423.12 61.12 408.88 69.12 408.38 68.88 415.62 63.38 424.12 56.38 411.88 61.88 405.38 66.38 401.88 69.62 401.38 69.38 408.12 60.38 403.12 63.62 388.62 70.62 384.12 73.88 383.88 73.38 390.62 64.12 386.12 67.12 373.88 74.12 369.12 77.38 368.88 76.88 376.62 65.88 359.88 77.12 359.38 76.88 361.38 71.12 352.38 84.88 349.62 88.38 349.62 96.62 359.88 96.38 395.62 78.38 414.12 67.88 435.38 57.38ZM407.62 69.38 408.12 68.88 408.62 69.12 408.12 69.62Z"/><path fill="none" stroke="#7d7d05" stroke-width="1.05" d="M349.4 102.33 350.81 101.52 352.22 100.58 353.63 99.62 355.04 98.72 356.45 97.95 357.86 97.27 359.27 96.64 360.68 96.02 362.09 95.37 363.5 94.68 364.91 93.97 366.32 93.25 367.73 92.53 369.14 91.81 370.55 91.1 371.96 90.39 373.37 89.67 374.78 88.96 376.19 88.25 377.6 87.54 379.01 86.82 380.42 86.11 381.83 85.4 383.24 84.69 384.65 83.97 386.06 83.26 387.47 82.55 388.88 81.84 390.29 81.13 391.7 80.43 393.11 79.71 394.52 78.98 395.93 78.22 397.34 77.45 398.75 76.67 400.16 75.89 401.57 75.1 402.98 74.29 404.39 73.48 405.8 72.68 407.21 71.89 408.62 71.1 410.03 70.32 411.44 69.55 412.85 68.79 414.26 68.05 415.67 67.33 417.08 66.62 418.49 65.92 419.9 65.21 421.31 64.49 422.72 63.78 424.13 63.06 425.54 62.35 426.95 61.65 428.36 60.96 429.77 60.28 431.18 59.6 432.59 58.93 434 58.26 435.41 57.6 436.82 56.95 438.23 56.3 439.64 55.66 441.05 55.03 442.46 54.39 443.87 53.77 445.28 53.17 446.69 52.58 448.1 52 449.51 51.42 450.92 50.85 452.33 50.29 453.74 49.74 455.15 49.21 456.56 48.69 457.97 48.2 459.38 47.73 460.79 47.28 462.21 46.85 463.62 46.42 465.03 46.01 466.44 45.61 467.85 45.21 469.26 44.82 470.67 44.44 472.08 44.06 473.49 43.69 474.9 43.32 476.31 42.97 477.72 42.62 479.13 42.27 480.54 41.92 481.95 41.57 483.36 41.22 484.77 40.86 486.18 40.51 487.59 40.14 489 39.78 490.41 39.42 491.82 39.06 493.23 38.71 494.64 38.35 496.05 38.01 497.46 37.67 498.87 37.33 500.28 36.99 501.69 36.65 503.1 36.32 504.51 35.99 505.92 35.67 507.33 35.35 508.74 35.04 510.15 34.75 511.56 34.45 512.97 34.16 514.38 33.87 515.79 33.58 517.2 33.29 518.61 33.01 520.02 32.73 521.43 32.46 522.84 32.19 524.25 31.92 525.66 31.66 527.07 31.4 528.48 31.14 529.89 30.9 531.3 30.65 532.71 30.42 534.12 30.18 535.53 29.96 536.94 29.74 538.35 29.52 539.76 29.31 541.17 29.11 542.58 28.91 543.99 28.71 545.4 28.52 546.81 28.33 548.22 28.14 549.63 27.95 551.04 27.77 552.45 27.59 553.86 27.4 555.27 27.22 556.68 27.04 558.09 26.86 559.5 26.68 560.91 26.49 562.32 26.31 563.73 26.12 565.14 25.94 566.55 25.76 567.96 25.57 569.37 25.4 570.78 25.22 572.19 25.05 573.6 24.89"/><path fill="none" stroke="#1a1a1a" stroke-opacity="0.75" stroke-width="0.55" d="M349.4 102.33 350.81 101.52 352.22 100.58 353.63 99.62 355.04 98.72 356.45 97.95 357.86 97.27 359.27 96.64 360.68 96.02 362.09 95.37 363.5 94.68 364.91 93.97 366.32 93.25 367.73 92.53 369.14 91.81 370.55 91.1 371.96 90.39 373.37 89.67 374.78 88.96 376.19 88.25 377.6 87.54 379.01 86.82 380.42 86.11 381.83 85.4 383.24 84.69 384.65 83.97 386.06 83.26 387.47 82.55 388.88 81.84 390.29 81.13 391.7 80.43 393.11 79.71 394.52 78.98 395.93 78.22 397.34 77.45 398.75 76.67 400.16 75.89 401.57 74.82 402.98 73.56 404.39 72.27 405.8 71.01 407.21 69.82 408.62 68.71 410.03 67.66 411.44 66.62 412.85 65.56 414.26 64.46 415.67 63.34 417.08 62.21 418.49 61.07 419.9 59.94 421.31 58.8 422.72 57.66 424.13 56.53 425.54 55.41 426.95 54.31 428.36 53.25 429.77 52.2 431.18 51.14 432.59 50.05 434 48.8 435.41 47.86 436.82 47.27 438.23 46.78 439.64 46.26 441.05 45.71 442.46 45.17 443.87 44.64 445.28 44.12 446.69 43.62 448.1 43.12 449.51 42.63 450.92 42.15 452.33 41.68 453.74 41.21 455.15 40.75 456.56 40.29 457.97 39.83 459.38 39.38 460.79 38.93 462.21 38.49 463.62 38.04 465.03 37.6 466.44 37.17 467.85 36.74 469.26 36.32 470.67 35.9 472.08 35.5 473.49 35.1 474.9 34.71 476.31 34.33 477.72 33.95 479.13 33.58 480.54 33.21 481.95 32.84 483.36 32.49 484.77 32.14 486.18 31.8 487.59 31.46 489 31.14 490.41 30.83 491.82 30.53 493.23 30.25 494.64 29.97 496.05 29.7 497.46 29.44 498.87 29.19 500.28 28.94 501.69 28.7 503.1 28.47 504.51 28.24 505.92 28.01 507.33 27.79 508.74 27.58 510.15 27.36 511.56 27.15 512.97 26.94 514.38 26.73 515.79 26.53 517.2 26.34 518.61 26.15 520.02 25.97 521.43 25.8 522.84 25.64 524.25 25.49 525.66 25.34 527.07 25.2 528.48 25.06 529.89 24.93 531.3 24.79 532.71 24.67 534.12 24.54 535.53 24.42 536.94 24.31 538.35 24.19 539.76 24.08 541.17 23.97 542.58 23.87 543.99 23.77 545.4 23.67 546.81 23.57 548.22 23.48 549.63 23.39 551.04 23.3 552.45 23.21 553.86 23.12 555.27 23.04 556.68 22.96 558.09 22.88 559.5 22.8 560.91 22.72 562.32 22.65 563.73 22.57 565.14 22.5 566.55 22.43 567.96 22.36 569.37 22.29 570.78 22.23 572.19 22.17 573.6 22.11"/><path fill="none" stroke="#1a1a1a" stroke-opacity="0.75" stroke-width="0.55" d="M349.4 102.33 350.81 101.52 352.22 100.58 353.63 99.62 355.04 98.72 356.45 97.95 357.86 97.27 359.27 96.64 360.68 96.02 362.09 95.37 363.5 94.68 364.91 93.97 366.32 93.25 367.73 92.53 369.14 91.81 370.55 91.1 371.96 90.39 373.37 89.67 374.78 88.96 376.19 88.25 377.6 87.54 379.01 86.82 380.42 86.11 381.83 85.4 383.24 84.69 384.65 83.97 386.06 83.26 387.47 82.55 388.88 81.84 390.29 81.13 391.7 80.43 393.11 79.32 394.52 77.85 395.93 76.28 397.34 74.65 398.75 72.99 400.16 71.23 401.57 69.42 402.98 67.58 404.39 65.73 405.8 63.87 407.21 61.98 408.62 60.06 410.03 58.12 411.44 56.05 412.85 53.93 414.26 52.16 415.67 50.78 417.08 49.69 418.49 48.84 419.9 48.07 421.31 47.31 422.72 46.57 424.13 45.91 425.54 45.36 426.95 44.88 428.36 44.44 429.77 44.04 431.18 43.65 432.59 43.26 434 42.87 435.41 42.49 436.82 42.12 438.23 41.76 439.64 41.41 441.05 41.07 442.46 40.74 443.87 40.43 445.28 40.14 446.69 39.86 448.1 39.54 449.51 39.22 450.92 38.88 452.33 38.53 453.74 38.18 455.15 37.82 456.56 37.47 457.97 37.11 459.38 36.76 460.79 36.41 462.21 36.05 463.62 35.69 465.03 35.33 466.44 34.97 467.85 34.62 469.26 34.26 470.67 33.9 472.08 33.54 473.49 33.19 474.9 32.84 476.31 32.47 477.72 32.09 479.13 31.7 480.54 31.31 481.95 30.92 483.36 30.53 484.77 30.16 486.18 29.81 487.59 29.47 489 29.16 490.41 28.88 491.82 28.64 493.23 28.44 494.64 28.25 496.05 28.08 497.46 27.93 498.87 27.78 500.28 27.64 501.69 27.51 503.1 27.39 504.51 27.26 505.92 27.13 507.33 27 508.74 26.86 510.15 26.71 511.56 26.56 512.97 26.41 514.38 26.26 515.79 26.1 517.2 25.95 518.61 25.8 520.02 25.66 521.43 25.52 522.84 25.38 524.25 25.25 525.66 25.12 527.07 24.99 528.48 24.87 529.89 24.74 531.3 24.62 532.71 24.5 534.12 24.38 535.53 24.27 536.94 24.15 538.35 24.05 539.76 23.94 541.17 23.84 542.58 23.74 543.99 23.64 545.4 23.55 546.81 23.46 548.22 23.36 549.63 23.28 551.04 23.19 552.45 23.11 553.86 23.02 555.27 22.94 556.68 22.87 558.09 22.79 559.5 22.72 560.91 22.64 562.32 22.57 563.73 22.5 565.14 22.44 566.55 22.37 567.96 22.31 569.37 22.25 570.78 22.19 572.19 22.14 573.6 22.08"/><path fill="none" stroke="#1a1a1a" stroke-opacity="0.75" stroke-width="0.55" d="M349.4 102.33 350.81 101.52 352.22 100.58 353.63 99.62 355.04 98.72 356.45 97.95 357.86 97.27 359.27 96.64 360.68 95.85 362.09 94.72 363.5 93.59 364.91 92.47 366.32 91.39 367.73 90.35 369.14 89.32 370.55 88.25 371.96 87.1 373.37 85.91 374.78 84.67 376.19 83.36 377.6 81.95 379.01 80.42 380.42 78.66 381.83 76.69 383.24 74.64 384.65 72.62 386.06 70.63 387.47 68.61 388.88 66.6 390.29 64.61 391.7 62.6 393.11 60.64 394.52 58.8 395.93 57.02 397.34 55.47 398.75 54.29 400.16 53.28 401.57 52.33 402.98 51.44 404.39 50.62 405.8 49.85 407.21 49.12 408.62 48.41 410.03 47.75 411.44 47.11 412.85 46.5 414.26 45.91 415.67 45.34 417.08 44.79 418.49 44.25 419.9 43.73 421.31 43.23 422.72 42.74 424.13 42.27 425.54 41.82 426.95 41.38 428.36 40.96 429.77 40.55 431.18 40.15 432.59 39.77 434 39.4 435.41 39.04 436.82 38.69 438.23 38.36 439.64 38.04 441.05 37.73 442.46 37.42 443.87 37.12 445.28 36.81 446.69 36.49 448.1 36.16 449.51 35.83 450.92 35.49 452.33 35.15 453.74 34.8 455.15 34.45 456.56 34.1 457.97 33.74 459.38 33.37 460.79 32.99 462.21 32.59 463.62 32.18 465.03 31.76 466.44 31.35 467.85 30.95 469.26 30.55 470.67 30.18 472.08 29.83 473.49 29.51 474.9 29.22 476.31 28.95 477.72 28.7 479.13 28.46 480.54 28.23 481.95 28.01 483.36 27.79 484.77 27.59 486.18 27.4 487.59 27.21 489 27.04 490.41 26.87 491.82 26.7 493.23 26.55 494.64 26.4 496.05 26.26 497.46 26.12 498.87 25.98 500.28 25.85 501.69 25.72 503.1 25.6 504.51 25.48 505.92 25.37 507.33 25.25 508.74 25.14 510.15 25.04 511.56 24.93 512.97 24.83 514.38 24.73 515.79 24.63 517.2 24.53 518.61 24.44 520.02 24.34 521.43 24.25 522.84 24.16 524.25 24.07 525.66 23.98 527.07 23.9 528.48 23.81 529.89 23.73 531.3 23.65 532.71 23.57 534.12 23.5 535.53 23.42 536.94 23.35 538.35 23.28 539.76 23.22 541.17 23.15 542.58 23.09 543.99 23.03 545.4 22.97 546.81 22.91 548.22 22.85 549.63 22.8 551.04 22.74 552.45 22.69 553.86 22.64 555.27 22.58 556.68 22.53 558.09 22.48 559.5 22.43 560.91 22.39 562.32 22.34 563.73 22.3 565.14 22.26 566.55 22.21 567.96 22.17 569.37 22.13 570.78 22.1 572.19 22.06 573.6 22.03"/><path fill="none" stroke="#1a1a1a" stroke-opacity="0.75" stroke-width="0.55" d="M349.4 100.34 350.81 99.07 352.22 97.78 353.63 96.44 355.04 95.04 356.45 93.58 357.86 92.04 359.27 90.42 360.68 88.67 362.09 86.8 363.5 84.85 364.91 82.89 366.32 80.9 367.73 78.85 369.14 76.79 370.55 74.76 371.96 72.74 373.37 70.72 374.78 68.68 376.19 66.61 377.6 64.52 379.01 62.45 380.42 60.28 381.83 58.29 383.24 56.91 384.65 55.84 386.06 54.8 387.47 53.82 388.88 52.85 390.29 51.84 391.7 50.81 393.11 49.82 394.52 48.93 395.93 48.1 397.34 47.33 398.75 46.59 400.16 45.9 401.57 45.23 402.98 44.58 404.39 43.96 405.8 43.37 407.21 42.81 408.62 42.3 410.03 41.83 411.44 41.39 412.85 40.98 414.26 40.58 415.67 40.21 417.08 39.84 418.49 39.49 419.9 39.14 421.31 38.78 422.72 38.43 424.13 38.07 425.54 37.69 426.95 37.3 428.36 36.91 429.77 36.52 431.18 36.16 432.59 35.83 434 35.54 435.41 35.26 436.82 35 438.23 34.75 439.64 34.5 441.05 34.27 442.46 34.04 443.87 33.81 445.28 33.58 446.69 33.35 448.1 33.12 449.51 32.89 450.92 32.66 452.33 32.44 453.74 32.22 455.15 32 456.56 31.78 457.97 31.55 459.38 31.32 460.79 31.09 462.21 30.86 463.62 30.62 465.03 30.38 466.44 30.14 467.85 29.91 469.26 29.68 470.67 29.45 472.08 29.23 473.49 29.02 474.9 28.81 476.31 28.61 477.72 28.41 479.13 28.22 480.54 28.02 481.95 27.83 483.36 27.65 484.77 27.47 486.18 27.29 487.59 27.12 489 26.96 490.41 26.8 491.82 26.65 493.23 26.5 494.64 26.36 496.05 26.22 497.46 26.09 498.87 25.96 500.28 25.83 501.69 25.7 503.1 25.58 504.51 25.46 505.92 25.34 507.33 25.23 508.74 25.12 510.15 25.01 511.56 24.9 512.97 24.8 514.38 24.7 515.79 24.6 517.2 24.51 518.61 24.41 520.02 24.32 521.43 24.23 522.84 24.14 524.25 24.05 525.66 23.97 527.07 23.88 528.48 23.8 529.89 23.72 531.3 23.64 532.71 23.56 534.12 23.49 535.53 23.42 536.94 23.35 538.35 23.28 539.76 23.22 541.17 23.15 542.58 23.09 543.99 23.03 545.4 22.97 546.81 22.91 548.22 22.85 549.63 22.8 551.04 22.74 552.45 22.69 553.86 22.64 555.27 22.58 556.68 22.53 558.09 22.48 559.5 22.43 560.91 22.39 562.32 22.34 563.73 22.3 565.14 22.26 566.55 22.21 567.96 22.17 569.37 22.13 570.78 22.1 572.19 22.06 573.6 22.03"/></g><rect x="349.4" y="14.5" width="224.2" height="82.3" fill="none" stroke="#6e6e6e" stroke-width="1"/><path d="M349.4 97.2v2.6" stroke="#444" stroke-width="0.8"/><text x="349.4" y="107.8" font-size="8.2" text-anchor="middle" fill="#141414">95</text><path d="M381.43 97.2v2.6" stroke="#444" stroke-width="0.8"/><text x="381.43" y="107.8" font-size="8.2" text-anchor="middle" fill="#141414">100</text><path d="M413.46 97.2v2.6" stroke="#444" stroke-width="0.8"/><text x="413.46" y="107.8" font-size="8.2" text-anchor="middle" fill="#141414">105</text><path d="M445.49 97.2v2.6" stroke="#444" stroke-width="0.8"/><text x="445.49" y="107.8" font-size="8.2" text-anchor="middle" fill="#141414">110</text><path d="M477.51 97.2v2.6" stroke="#444" stroke-width="0.8"/><text x="477.51" y="107.8" font-size="8.2" text-anchor="middle" fill="#141414">115</text><path d="M509.54 97.2v2.6" stroke="#444" stroke-width="0.8"/><text x="509.54" y="107.8" font-size="8.2" text-anchor="middle" fill="#141414">120</text><path d="M541.57 97.2v2.6" stroke="#444" stroke-width="0.8"/><text x="541.57" y="107.8" font-size="8.2" text-anchor="middle" fill="#141414">125</text><path d="M349 72.65h-2.6" stroke="#444" stroke-width="0.8"/><text x="345" y="75.65" font-size="8.2" text-anchor="end" fill="#141414">300</text><path d="M349 45.67h-2.6" stroke="#444" stroke-width="0.8"/><text x="345" y="48.67" font-size="8.2" text-anchor="end" fill="#141414">400</text><path d="M349 18.68h-2.6" stroke="#444" stroke-width="0.8"/><text x="345" y="21.68" font-size="8.2" text-anchor="end" fill="#141414">500</text><text x="461.5" y="117.4" font-size="8.2" text-anchor="middle" fill="#141414">x [km]</text><text x="327" y="55.65" font-size="8.2" text-anchor="middle" fill="#141414" transform="rotate(-90 327 55.65)">Height [m]</text><rect x="316.7" y="1" width="10" height="10.4" fill="#fff" stroke="#555" stroke-width="1"/><text x="321.7" y="10.1" font-size="10.6" text-anchor="middle" fill="#111">D</text><g clip-path="url(#clipE)"><path fill="#f49a7b" d="M574.38 152.12 536.38 153.38 502.88 155.62 485.38 157.38 452.12 161.62 431.62 163.12 415.12 165.12 410.38 165.38 400.12 166.88 395.38 168.12 388.62 170.62 384.38 172.88 380.38 175.88 375.12 181.38 364.88 195.88 352.12 215.38 349.38 218.88 349.38 227.12 359.12 227.12 395.38 208.88 412.88 198.88 433.88 188.38 444.88 183.38 456.12 178.88 472.62 173.88 498.38 167.38 513.88 163.88 540.12 159.12 574.12 154.88Z"/><path fill="#dadce0" d="M574.38 152.12 536.38 153.38 502.88 155.62 485.38 157.38 452.12 161.62 431.62 163.12 415.12 165.12 410.38 165.38 400.12 166.88 395.38 168.12 388.62 170.62 384.38 172.88 380.38 175.88 375.12 181.38 364.88 195.88 352.12 215.38 349.38 218.88 349.38 227.12 359.12 227.12 395.38 208.88 412.88 198.88 433.88 188.38 444.88 183.38 456.12 178.88 472.62 173.88 498.38 167.38 513.88 163.88 540.12 159.12 574.12 154.88Z"/><path fill="#d5dbe5" d="M574.38 152.12 536.38 153.38 502.88 155.62 485.38 157.38 452.12 161.62 431.62 163.12 415.12 165.12 410.38 165.38 400.12 166.88 395.38 168.12 388.62 170.62 384.38 172.88 380.38 175.88 375.12 181.38 364.88 195.88 352.12 215.38 349.38 218.88 349.38 227.12 359.12 227.12 395.38 208.88 412.88 198.88 433.88 188.38 444.88 183.38 456.12 178.88 472.62 173.88 498.38 167.38 513.88 163.88 540.12 159.12 574.12 154.88Z"/><path fill="#cfdaea" d="M574.38 153.62 534.12 157.88 509.38 161.88 493.88 165.12 473.88 170.12 462.62 173.38 450.12 177.88 448.12 178.12 441.62 178.12 441.62 177.62 444.62 176.38 470.62 167.88 491.88 162.38 512.88 158.62 533.38 155.88 537.88 154.88 539.88 153.88 567.38 152.38 536.38 153.38 524.38 154.38 523.38 154.12 521.88 154.62 519.38 154.38 519.38 154.88 500.88 156.62 497.88 156.62 497.62 156.38 498.38 156.12 452.38 161.38 432.38 164.88 409.88 170.88 404.62 172.88 393.88 178.38 386.38 183.62 382.12 187.12 373.38 186.88 373.38 186.38 377.12 181.62 382.12 177.12 385.12 175.12 390.88 172.38 399.88 169.62 408.12 168.12 410.62 167.12 412.12 165.38 406.38 165.88 400.12 166.88 395.38 168.12 388.62 170.62 384.38 172.88 380.38 175.88 375.12 181.38 364.88 195.88 352.12 215.38 349.38 218.88 349.38 227.12 359.12 227.12 395.38 208.88 412.88 198.88 433.88 188.38 447.88 182.12 462.88 176.62 490.38 169.38 513.88 163.88 540.12 159.12 574.12 154.88ZM386.38 186.38 382.12 188.62 381.88 188.38 384.38 186.12ZM404.12 182.62 398.62 185.12 398.12 184.88 401.62 182.38ZM434.88 179.62 431.62 181.62 431.12 181.38 433.62 179.38ZM421.38 178.88 416.62 180.88 416.12 180.62 418.88 178.62ZM451.12 171.12 434.88 177.38 427.12 177.12 428.38 176.38 437.38 173.88 450.38 170.88ZM445.62 165.62 443.62 166.38 431.38 169.12 417.62 173.62 405.88 178.88 400.88 181.88 397.12 184.88 389.38 184.62 396.62 179.62 407.38 174.62 431.38 167.88 444.62 165.38ZM481.62 159.88 476.62 161.62 449.88 168.38 439.88 170.38 427.88 173.62 424.38 174.88 416.62 179.12 414.62 181.12 408.12 180.88 410.12 179.62 416.62 176.88 429.88 172.38 459.12 165.38 474.12 160.88 480.38 159.62Z"/><path fill="#cad8ef" d="M574.38 153.88 534.62 158.38 509.38 162.62 479.12 169.62 462.12 174.38 452.38 177.88 447.88 178.38 440.62 178.12 441.62 177.38 469.12 168.12 491.88 162.12 510.38 158.62 526.62 156.12 533.62 154.38 554.12 152.88 567.38 152.38 541.62 153.12 533.38 153.88 531.62 153.62 530.38 154.12 517.62 155.12 510.62 156.12 491.88 157.62 487.12 158.62 475.88 162.12 450.12 168.62 441.12 170.38 428.12 173.88 423.38 175.62 416.38 179.62 414.62 181.38 407.88 181.38 407.62 180.88 408.12 180.38 418.62 175.88 428.12 172.62 438.12 169.88 444.62 168.62 458.38 165.12 471.62 160.88 488.62 157.12 460.88 160.38 437.62 164.12 416.12 169.38 405.38 172.88 394.38 178.38 386.12 184.12 382.12 187.38 373.12 187.12 373.12 186.38 375.88 182.62 381.88 176.88 386.12 174.12 390.38 172.12 397.12 169.88 407.38 167.38 409.38 166.38 410.38 165.38 400.12 166.88 395.38 168.12 388.62 170.62 384.38 172.88 380.38 175.88 375.12 181.38 364.88 195.88 352.12 215.38 349.38 218.88 349.38 227.12 359.12 227.12 395.38 208.88 412.88 198.88 433.88 188.38 447.88 182.12 462.88 176.62 490.38 169.38 513.88 163.88 540.12 159.12 574.12 154.88ZM387.88 186.12 387.62 186.62 382.88 188.88 380.62 190.62 380.38 190.38 381.88 188.12 383.88 186.38 385.62 185.88ZM406.12 182.38 405.62 182.88 400.38 184.88 396.88 186.88 396.38 186.62 398.62 184.38 401.88 182.12ZM436.88 179.62 434.62 180.38 428.62 183.88 428.12 183.62 433.62 179.38ZM423.38 178.62 422.88 179.12 417.88 180.88 413.88 183.38 413.62 183.12 415.88 180.62 419.38 178.38ZM454.88 169.88 454.12 170.62 445.62 173.38 435.12 177.62 426.12 177.38 426.88 176.62 437.38 173.62 446.88 171.62 454.12 169.62ZM453.88 163.62 449.38 165.38 430.62 169.62 418.38 173.62 411.62 176.38 404.62 179.88 399.88 182.88 397.12 185.12 389.12 184.88 390.12 183.62 396.62 179.38 404.88 175.38 412.62 172.62 434.12 166.88 452.88 163.38Z"/><path fill="#c3d5f4" d="M574.38 154.12 569.88 154.38 543.38 157.62 517.12 161.88 500.12 165.38 478.62 170.62 464.88 174.38 454.88 177.88 447.62 178.62 440.38 178.62 440.12 178.38 441.88 177.12 469.38 167.88 492.88 161.62 528.38 154.88 550.12 153.12 567.38 152.38 553.62 152.62 547.62 153.12 547.38 152.88 518.12 155.38 508.62 156.62 497.12 157.38 489.88 158.38 475.12 162.62 429.12 173.88 424.62 175.38 417.12 179.38 414.62 181.62 407.38 181.62 407.12 181.12 407.62 180.38 413.62 177.62 423.38 173.88 435.88 170.12 457.62 164.88 475.62 159.12 481.62 157.88 484.88 157.62 465.38 159.88 437.88 164.38 431.62 165.62 425.12 167.62 415.38 169.88 404.88 173.38 393.62 179.12 382.12 187.62 373.12 187.62 372.62 186.88 376.12 181.88 381.38 176.88 385.38 174.12 389.38 172.12 395.62 169.88 405.38 167.38 408.62 165.62 400.12 166.88 395.38 168.12 388.62 170.62 384.38 172.88 380.38 175.88 375.12 181.38 364.88 195.88 352.12 215.38 349.38 218.88 349.38 227.12 359.12 227.12 395.38 208.88 412.88 198.88 433.88 188.38 447.88 182.12 462.88 176.62 490.38 169.38 513.88 163.88 540.12 159.12 574.12 154.88ZM372.12 188.38 372.38 188.12 372.62 188.62 372.38 188.88ZM389.12 186.12 382.62 189.62 379.38 192.62 379.12 192.38 381.88 188.12 384.62 185.88 388.12 185.62ZM407.38 182.38 406.38 183.12 403.38 184.12 397.62 186.88 395.38 188.62 394.88 188.38 398.62 184.38 401.88 182.12 406.62 181.88ZM439.12 179.38 434.62 180.88 426.88 185.38 425.88 185.38 433.88 179.12ZM425.12 178.62 417.38 181.62 414.38 183.38 413.12 184.62 412.62 184.38 415.88 180.62 419.38 178.38 424.38 178.12ZM460.12 168.12 458.88 169.38 444.38 174.12 435.12 177.88 425.38 177.62 426.12 176.62 434.62 174.12 448.88 170.88 459.62 167.88ZM465.12 160.62 452.62 164.88 432.62 169.38 419.88 173.38 410.62 177.12 405.62 179.62 398.88 183.88 397.38 185.38 388.62 185.12 389.12 184.12 396.62 179.12 404.88 175.12 410.88 172.88 433.62 166.62 458.62 161.88 464.12 160.38ZM500.38 157.88 488.62 160.38 487.38 160.12 494.88 158.12 498.62 157.62Z"/><path fill="#bcd2f7" d="M454.62 162.12 431.88 165.88 408.88 172.12 401.62 175.12 395.38 178.38 384.88 185.62 382.88 187.38 384.62 185.88 387.88 185.62 389.12 183.88 397.12 178.62 408.62 173.38 434.12 166.12ZM484.88 157.62 473.38 158.88 464.38 160.38 467.88 159.88 467.88 160.38 455.88 164.38 438.88 168.12 428.38 170.88 422.12 172.88 411.88 176.88 404.38 180.62 399.88 183.62 401.88 182.12 405.88 181.88 406.62 181.38 407.12 180.38 411.88 178.12 427.88 172.12 436.62 169.62 453.38 165.62 470.38 160.12 478.62 158.38ZM574.38 154.12 537.62 158.62 522.88 161.12 506.88 164.38 474.38 172.38 460.38 176.38 456.62 177.88 447.12 178.88 441.88 178.88 438.88 180.12 435.62 180.88 424.88 186.88 424.38 186.62 433.88 179.12 438.62 178.88 440.88 177.38 446.12 175.38 466.38 168.62 490.62 161.88 521.38 155.62 523.38 155.62 521.12 155.38 509.38 156.62 509.88 156.88 509.62 157.12 506.88 156.88 507.62 156.88 507.62 157.38 503.88 157.12 489.38 158.88 487.38 159.62 492.62 158.38 503.88 157.12 505.88 157.12 505.88 157.62 499.88 158.38 476.12 163.38 476.12 162.88 485.62 159.88 469.38 164.38 448.38 169.62 435.62 172.38 425.38 175.38 418.62 178.88 419.38 178.38 423.88 178.12 424.62 177.88 425.38 176.62 434.62 173.88 451.62 169.88 467.38 165.38 468.12 165.38 468.12 165.88 463.12 168.38 451.62 171.88 435.12 178.12 427.38 178.12 415.88 182.88 412.12 185.88 411.88 185.38 413.62 182.88 415.88 180.62 418.12 179.12 414.62 181.88 409.12 181.88 407.38 183.12 398.12 187.12 393.88 190.38 393.62 189.88 395.38 187.62 399.38 183.88 397.38 185.62 390.12 185.88 389.62 186.62 381.88 190.62 378.62 193.88 378.12 193.62 382.38 187.62 373.88 187.88 373.38 188.88 371.62 189.88 371.38 189.12 372.62 187.88 372.62 186.12 376.38 181.12 381.12 176.62 384.62 174.12 391.38 170.88 396.62 169.12 400.62 168.38 406.88 165.88 400.12 166.88 395.38 168.12 388.62 170.62 384.38 172.88 380.38 175.88 375.12 181.38 364.88 195.88 352.12 215.38 349.38 218.88 349.38 227.12 359.12 227.12 395.38 208.88 412.88 198.88 433.88 188.38 447.88 182.12 462.88 176.62 490.38 169.38 513.88 163.88 540.12 159.12 574.12 154.88ZM567.38 152.38 560.38 152.38 556.88 152.88 553.62 152.62 552.38 153.12 544.88 153.38 523.62 155.12 525.62 155.38 542.88 153.62Z"/><path fill="#b3cdfb" d="M451.38 165.62 434.62 169.38 421.38 173.38 409.62 178.12 402.38 182.12 405.88 181.62 406.62 180.38 410.62 178.38 423.12 173.38 433.38 170.12ZM436.12 165.38 432.88 165.88 414.62 170.62 406.12 173.38 394.88 178.88 384.88 185.88 387.38 185.62 388.38 184.12 393.62 180.38 407.12 173.62 430.38 166.62ZM468.88 164.62 431.88 173.62 425.38 175.62 420.38 178.12 423.88 177.88 424.62 176.62 429.12 175.12 440.88 171.88 451.12 169.62ZM479.88 158.38 472.88 159.38 465.38 161.62 473.38 159.38ZM574.38 154.38 537.62 158.88 521.62 161.62 505.88 164.88 472.62 173.12 462.88 175.88 456.62 178.12 441.38 179.62 434.88 181.62 422.88 188.38 422.38 188.12 433.88 179.12 438.88 178.62 440.38 177.38 449.88 173.88 468.88 167.62 480.88 164.12 493.62 160.88 512.38 157.12 496.62 159.62 475.38 164.62 472.12 165.88 467.12 167.12 449.38 172.88 435.62 178.12 429.12 178.38 427.12 178.88 416.38 183.12 411.12 187.38 410.88 186.88 414.62 181.88 410.88 182.12 406.62 184.12 402.88 185.38 397.88 187.88 393.38 191.38 392.88 190.88 397.38 185.62 392.62 185.88 382.38 190.88 377.62 195.38 377.12 195.12 382.12 187.88 376.12 188.12 370.38 191.62 370.12 190.88 370.88 188.88 372.38 187.62 372.12 186.38 376.12 180.88 379.62 177.38 384.12 173.88 390.62 170.62 397.38 168.38 400.38 167.88 404.12 166.38 400.12 166.88 395.38 168.12 388.62 170.62 384.38 172.88 380.38 175.88 375.12 181.38 364.88 195.88 352.12 215.38 349.38 218.88 349.38 227.12 359.12 227.12 395.38 208.88 412.88 198.88 433.88 188.38 447.88 182.12 462.88 176.62 498.38 167.38 522.62 162.12 545.38 158.38 574.12 154.88Z"/><path fill="#abc8fd" d="M421.12 169.12 411.12 171.62 402.12 175.12 394.88 178.88 385.38 185.62 387.38 185.38 387.88 184.12 394.38 179.62 404.62 174.38 412.62 171.38ZM438.12 168.62 429.12 170.88 418.62 174.38 409.62 178.12 402.62 181.88 405.38 181.62 406.12 180.38 411.62 177.62 420.88 173.88 429.62 170.88ZM454.12 168.38 443.62 170.62 428.38 174.62 424.12 176.12 420.38 178.12 423.12 177.88 424.12 176.62 428.88 174.88ZM574.38 154.62 568.12 155.12 534.38 159.62 504.88 165.38 470.88 173.88 455.62 178.62 446.12 179.12 436.88 181.38 433.88 182.62 421.38 189.62 420.88 189.38 433.88 179.12 438.12 178.62 439.88 177.38 447.88 174.38 473.88 165.88 489.12 161.62 500.88 159.12 493.12 160.38 482.38 162.88 467.12 167.12 449.38 172.88 435.12 178.38 430.12 178.62 422.88 180.88 418.38 182.62 415.12 184.38 410.12 188.88 409.88 188.38 414.38 182.12 411.38 182.38 406.62 184.88 400.38 187.12 397.12 188.88 391.88 193.12 391.62 192.62 397.12 185.88 393.12 186.12 386.62 189.62 382.88 191.12 377.12 196.38 376.62 195.88 381.88 188.12 376.88 188.38 369.12 193.38 368.88 192.88 370.38 188.88 371.88 187.62 371.88 186.12 376.12 180.38 380.12 176.38 384.88 172.88 391.12 169.88 402.12 166.62 395.38 168.12 388.62 170.62 384.38 172.88 380.38 175.88 375.12 181.38 364.88 195.88 352.12 215.38 349.38 218.88 349.38 227.12 359.12 227.12 395.38 208.88 412.88 198.88 433.88 188.38 447.88 182.12 462.88 176.62 498.38 167.38 522.62 162.12 540.12 159.12Z"/><path fill="#a2c1ff" d="M371.38 186.88 370.12 188.38 371.38 187.88ZM407.12 173.12 402.12 175.12 394.88 178.88 385.38 185.62 386.88 185.38 387.88 183.88 396.38 178.12ZM423.88 172.62 411.88 177.12 402.62 181.88 404.62 181.62 405.88 180.12 409.88 178.12ZM439.12 171.88 428.38 174.62 424.12 176.12 420.38 178.12 422.38 177.88 423.38 176.62 425.62 175.62ZM574.38 154.62 542.62 158.62 524.38 161.62 503.88 165.88 467.38 175.12 456.88 178.62 446.12 179.38 434.12 182.88 419.88 190.88 419.38 190.62 434.12 178.88 437.62 178.62 439.38 177.38 464.38 168.62 483.38 162.88 491.62 160.88 486.38 161.88 469.62 166.38 449.38 172.88 435.12 178.38 431.62 178.62 424.88 180.88 415.88 184.38 409.62 189.88 409.12 189.38 414.38 182.12 412.38 182.38 406.12 185.88 397.62 189.12 391.62 193.88 391.12 193.62 395.38 187.62 397.12 185.88 393.62 186.38 390.62 188.38 381.88 192.38 375.62 198.12 375.38 197.62 381.88 188.12 377.62 188.62 368.12 194.88 367.88 194.12 369.88 188.88 364.88 195.88 352.12 215.38 349.38 218.88 349.38 227.12 359.12 227.12 395.38 208.88 412.88 198.88 433.88 188.38 447.88 182.12 462.88 176.62 498.38 167.38 522.62 162.12 540.12 159.12Z"/><path fill="#98b9ff" d="M386.62 184.62 385.38 185.62 386.38 185.38ZM404.62 180.88 402.62 181.88 404.12 181.62ZM422.62 176.88 420.88 177.88 421.88 177.88ZM484.88 162.38 474.88 164.88 457.62 170.12 443.12 175.12 434.62 178.62 432.12 178.88 428.12 180.62 417.12 184.38 414.38 185.88 408.62 191.12 408.12 190.88 414.12 182.38 412.62 182.62 409.62 184.88 405.12 187.12 396.62 190.38 390.62 195.12 390.12 194.88 396.88 186.12 394.62 186.38 388.88 190.12 380.88 193.88 375.38 198.88 374.88 198.38 381.88 188.38 379.88 188.38 378.62 188.88 367.12 196.38 366.62 196.12 368.88 190.12 352.12 215.38 349.38 218.88 349.38 227.12 359.12 227.12 395.38 208.88 412.88 198.88 433.88 188.38 447.88 182.12 457.38 178.62 446.38 179.62 434.38 183.38 418.62 191.88 418.12 191.62 434.12 178.88 437.12 178.62 438.88 177.38 451.12 172.88 469.88 166.62Z"/><path fill="#8fb1fe" d="M473.62 165.38 449.38 172.88 437.12 177.38 428.12 181.38 416.88 185.38 413.88 186.88 407.38 192.62 407.12 192.12 414.12 182.38 413.38 182.62 410.88 184.88 406.62 187.38 394.88 192.38 389.62 196.38 389.38 195.88 396.88 186.12 395.88 186.38 389.62 190.62 380.62 195.12 374.12 200.38 373.88 199.88 381.88 188.38 380.38 188.62 365.62 198.38 365.38 197.88 367.62 191.88 352.12 215.38 349.38 218.88 349.38 227.12 359.12 227.12 395.38 208.88 412.88 198.88 433.88 188.38 444.88 183.38 456.62 178.88 448.12 179.62 435.88 183.38 427.88 187.12 417.38 192.88 416.88 192.62 434.12 178.88 436.38 178.62 438.38 177.38 446.88 174.12Z"/><path fill="#84a7fc" d="M455.88 179.12 449.62 179.62 435.88 183.88 425.88 188.62 415.88 194.12 415.38 193.88 433.62 179.38 429.88 181.38 416.62 186.38 413.12 188.12 410.88 190.38 406.62 193.62 406.38 193.12 413.62 183.12 410.88 185.62 407.38 187.88 393.62 194.12 389.12 197.38 388.62 196.88 396.12 186.88 389.88 191.38 378.38 197.62 373.88 201.12 373.38 200.62 381.38 188.88 378.88 190.88 364.62 200.12 364.12 199.62 366.12 194.12 352.12 215.38 349.38 218.88 349.38 227.12 359.12 227.12 395.38 208.88 412.88 198.88 433.88 188.38 444.88 183.38ZM463.62 168.38 445.88 174.12 435.88 177.88 434.38 178.88 435.88 178.62 437.62 177.38 444.88 174.62Z"/><path fill="#799cf8" d="M455.38 179.38 451.12 179.62 434.62 184.88 426.62 188.62 414.62 195.12 414.12 194.88 430.88 181.38 428.62 182.62 416.38 187.38 413.38 188.88 405.88 194.62 405.62 194.12 412.38 184.88 410.88 186.38 406.38 189.38 392.88 195.62 387.88 198.88 387.62 198.38 394.62 188.88 389.38 192.62 382.12 196.38 372.62 202.62 372.12 202.38 379.88 191.12 363.12 202.12 362.88 201.38 364.88 195.88 352.12 215.38 349.38 218.88 349.38 227.12 359.12 227.12 395.38 208.88 412.88 198.88 433.88 188.38 444.88 183.38ZM437.38 177.38 434.62 178.62 435.38 178.62Z"/><path fill="#6f92f3" d="M455.38 179.38 451.88 179.88 434.62 185.38 425.38 189.62 420.88 192.38 413.38 196.12 412.88 195.88 428.62 183.12 413.12 189.88 405.88 195.12 404.38 196.62 404.12 196.12 410.88 187.12 405.38 190.88 395.38 195.38 389.88 198.38 386.62 200.62 386.38 200.12 392.88 190.88 388.12 194.38 381.38 197.88 371.12 204.62 370.88 204.12 378.62 192.88 361.88 204.12 361.62 203.38 363.62 197.88 352.12 215.38 349.38 218.88 349.38 227.12 359.12 227.12 395.38 208.88 412.88 198.88 433.88 188.38 444.88 183.38ZM412.12 196.38 412.62 195.88 413.12 196.12 412.62 196.62Z"/><path fill="#6485ec" d="M453.88 179.88 434.62 185.88 424.12 190.62 410.62 198.12 410.12 197.88 412.88 195.88 426.12 185.12 412.88 190.88 406.38 195.38 403.38 198.12 402.88 197.88 409.88 188.62 404.88 192.12 389.88 199.38 385.38 202.38 385.12 201.88 391.38 192.88 387.62 195.62 381.12 199.12 370.38 206.12 369.88 205.62 377.62 194.62 360.62 205.88 360.38 205.38 362.38 199.62 352.12 215.38 349.38 218.88 349.38 227.12 359.12 227.12 395.38 208.88 412.88 198.88 433.88 188.38 444.88 183.38ZM409.38 198.38 409.88 197.88 410.38 198.12 409.88 198.62Z"/><path fill="#5a78e4" d="M448.88 181.88 434.62 186.38 428.12 189.12 414.88 195.88 408.62 199.62 408.12 199.38 412.88 195.88 423.88 186.88 412.62 191.88 406.88 195.62 401.88 199.88 401.62 199.38 408.62 190.38 404.38 193.38 388.12 201.38 384.38 204.12 383.88 203.88 390.38 194.62 386.38 197.38 373.38 204.88 368.88 208.12 368.38 207.88 376.12 196.62 359.38 207.88 359.12 207.12 361.12 201.62 352.12 215.38 349.38 218.88 349.38 227.12 359.12 227.12 395.38 208.88 412.88 198.88 433.88 188.38Z"/><path fill="#516ddb" d="M444.62 183.62 434.62 186.88 425.12 190.88 411.88 197.88 407.12 200.88 406.62 200.62 407.62 199.62 412.88 195.88 421.38 188.88 414.88 191.62 409.38 194.62 405.12 197.62 400.38 201.88 400.12 201.38 407.12 192.38 402.12 195.62 388.12 202.38 382.62 206.38 382.38 205.88 389.38 196.12 385.62 198.88 372.12 206.62 367.38 210.12 367.12 209.62 374.88 198.62 358.12 209.62 357.88 209.12 359.88 203.62 352.12 215.38 349.38 218.88 349.38 227.12 359.12 227.12 395.38 208.88 412.88 198.88 433.88 188.38ZM405.88 201.12 406.38 200.62 406.88 200.88 406.38 201.38Z"/><path fill="#485fd1" d="M440.12 185.62 434.62 187.38 424.88 191.38 414.62 196.62 405.62 202.12 405.12 201.88 406.38 200.62 419.38 190.62 414.62 192.62 408.12 196.12 399.38 203.12 399.12 202.62 405.62 194.38 402.62 196.38 387.12 203.88 381.38 208.12 381.12 207.62 387.62 198.38 378.12 204.38 370.88 208.38 366.62 211.62 366.12 211.12 373.62 200.38 357.12 211.38 356.62 210.88 358.62 205.38 352.12 215.38 349.38 218.88 349.38 227.12 359.12 227.12 395.38 208.88 412.88 198.88 433.88 188.38Z"/><path fill="#3e51c5" d="M436.38 187.38 428.12 190.38 420.38 193.88 410.12 199.38 404.88 202.88 404.38 202.62 406.38 200.62 416.88 192.62 406.88 197.62 398.12 204.62 397.88 204.12 404.12 196.38 401.38 198.12 386.12 205.38 380.12 209.88 379.88 209.38 386.38 200.38 379.12 204.88 370.38 209.62 365.12 213.62 364.62 213.38 372.12 202.38 355.62 213.38 355.38 212.88 357.38 207.38 352.12 215.38 349.38 218.88 349.38 227.12 359.12 227.12 395.38 208.88 400.38 206.12 401.38 205.12 402.12 205.12 412.88 198.88ZM403.38 203.38 403.88 202.88 404.38 203.12 403.88 203.62Z"/><path fill="none" stroke="#4a5fd0" stroke-width="1.05" d="M349.2 232.87 350.62 232.05 352.03 231.11 353.45 230.14 354.87 229.23 356.28 228.46 357.7 227.78 359.11 227.14 360.53 226.52 361.95 225.86 363.36 225.17 364.78 224.45 366.2 223.72 367.61 223 369.03 222.28 370.45 221.56 371.86 220.84 373.28 220.12 374.69 219.4 376.11 218.69 377.53 217.97 378.94 217.25 380.36 216.53 381.78 215.82 383.19 215.1 384.61 214.38 386.03 213.66 387.44 212.94 388.86 212.23 390.27 211.52 391.69 210.81 393.11 210.09 394.52 209.35 395.94 208.59 397.36 207.81 398.77 207.03 400.19 206.24 401.61 205.44 403.02 204.63 404.44 203.81 405.85 203 407.27 202.2 408.69 201.41 410.1 200.62 411.52 199.85 412.94 199.08 414.35 198.34 415.77 197.61 417.18 196.9 418.6 196.19 420.02 195.48 421.43 194.76 422.85 194.03 424.27 193.31 425.68 192.6 427.1 191.9 428.52 191.2 429.93 190.51 431.35 189.83 432.76 189.15 434.18 188.48 435.6 187.82 437.01 187.16 438.43 186.51 439.85 185.86 441.26 185.22 442.68 184.58 444.1 183.96 445.51 183.35 446.93 182.76 448.34 182.17 449.76 181.59 451.18 181.01 452.59 180.45 454.01 179.89 455.43 179.36 456.84 178.84 458.26 178.35 459.68 177.88 461.09 177.42 462.51 176.98 463.92 176.56 465.34 176.14 466.76 175.73 468.17 175.34 469.59 174.94 471.01 174.56 472.42 174.17 473.84 173.8 475.26 173.43 476.67 173.08 478.09 172.72 479.5 172.37 480.92 172.02 482.34 171.67 483.75 171.32 485.17 170.96 486.59 170.59 488 170.23 489.42 169.87 490.84 169.5 492.25 169.14 493.67 168.78 495.08 168.43 496.5 168.08 497.92 167.73 499.33 167.39 500.75 167.05 502.17 166.71 503.58 166.38 505 166.05 506.42 165.72 507.83 165.4 509.25 165.09 510.66 164.79 512.08 164.5 513.5 164.2 514.91 163.91 516.33 163.62 517.75 163.33 519.16 163.05 520.58 162.76 521.99 162.49 523.41 162.21 524.83 161.95 526.24 161.68 527.66 161.42 529.08 161.17 530.49 160.92 531.91 160.67 533.33 160.43 534.74 160.2 536.16 159.97 537.57 159.75 538.99 159.53 540.41 159.32 541.82 159.12 543.24 158.91 544.66 158.72 546.07 158.52 547.49 158.33 548.91 158.14 550.32 157.95 551.74 157.77 553.15 157.58 554.57 157.4 555.99 157.21 557.4 157.03 558.82 156.85 560.24 156.66 561.65 156.48 563.07 156.29 564.49 156.11 565.9 155.92 567.32 155.74 568.73 155.56 570.15 155.38 571.57 155.2 572.98 155.03 574.4 154.86"/><path fill="none" stroke="#1a1a1a" stroke-opacity="0.75" stroke-width="0.55" d="M349.2 232.87 350.62 232.05 352.03 231.11 353.45 230.14 354.87 229.23 356.28 228.46 357.7 227.78 359.11 227.14 360.53 226.52 361.95 225.86 363.36 225.17 364.78 224.45 366.2 223.72 367.61 223 369.03 222.28 370.45 221.56 371.86 220.84 373.28 220.12 374.69 219.4 376.11 218.69 377.53 217.97 378.94 217.25 380.36 216.53 381.78 215.82 383.19 215.1 384.61 214.38 386.03 213.66 387.44 212.94 388.86 212.23 390.27 211.52 391.69 210.81 393.11 210.09 394.52 209.35 395.94 208.59 397.36 207.81 398.77 207.03 400.19 206.24 401.61 205.16 403.02 203.89 404.44 202.59 405.85 201.32 407.27 200.12 408.69 199.01 410.1 197.94 411.52 196.9 412.94 195.83 414.35 194.73 415.77 193.6 417.18 192.45 418.6 191.31 420.02 190.17 421.43 189.02 422.85 187.88 424.27 186.74 425.68 185.61 427.1 184.5 428.52 183.43 429.93 182.38 431.35 181.31 432.76 180.21 434.18 178.95 435.6 178.01 437.01 177.41 438.43 176.92 439.85 176.39 441.26 175.84 442.68 175.29 444.1 174.76 445.51 174.24 446.93 173.73 448.34 173.23 449.76 172.74 451.18 172.25 452.59 171.78 454.01 171.3 455.43 170.84 456.84 170.37 458.26 169.92 459.68 169.46 461.09 169.01 462.51 168.56 463.92 168.11 465.34 167.67 466.76 167.23 468.17 166.8 469.59 166.37 471.01 165.96 472.42 165.55 473.84 165.15 475.26 164.76 476.67 164.38 478.09 163.99 479.5 163.62 480.92 163.24 482.34 162.88 483.75 162.52 485.17 162.17 486.59 161.82 488 161.49 489.42 161.16 490.84 160.85 492.25 160.55 493.67 160.26 495.08 159.99 496.5 159.72 497.92 159.45 499.33 159.2 500.75 158.95 502.17 158.71 503.58 158.47 505 158.24 506.42 158.01 507.83 157.79 509.25 157.57 510.66 157.35 512.08 157.14 513.5 156.93 514.91 156.72 516.33 156.52 517.75 156.32 519.16 156.14 520.58 155.96 521.99 155.79 523.41 155.63 524.83 155.47 526.24 155.32 527.66 155.18 529.08 155.04 530.49 154.9 531.91 154.77 533.33 154.64 534.74 154.52 536.16 154.4 537.57 154.28 538.99 154.16 540.41 154.05 541.82 153.94 543.24 153.84 544.66 153.74 546.07 153.64 547.49 153.54 548.91 153.44 550.32 153.35 551.74 153.26 553.15 153.17 554.57 153.09 555.99 153 557.4 152.92 558.82 152.84 560.24 152.76 561.65 152.68 563.07 152.61 564.49 152.53 565.9 152.46 567.32 152.39 568.73 152.32 570.15 152.25 571.57 152.19 572.98 152.12 574.4 152.06"/><path fill="none" stroke="#1a1a1a" stroke-opacity="0.75" stroke-width="0.55" d="M349.2 232.87 350.62 232.05 352.03 231.11 353.45 230.14 354.87 229.23 356.28 228.46 357.7 227.78 359.11 227.14 360.53 226.52 361.95 225.86 363.36 225.17 364.78 224.45 366.2 223.72 367.61 223 369.03 222.28 370.45 221.56 371.86 220.84 373.28 220.12 374.69 219.4 376.11 218.69 377.53 217.97 378.94 217.25 380.36 216.53 381.78 215.82 383.19 215.1 384.61 214.38 386.03 213.66 387.44 212.94 388.86 212.23 390.27 211.52 391.69 210.81 393.11 209.69 394.52 208.21 395.94 206.63 397.36 204.99 398.77 203.31 400.19 201.54 401.61 199.72 403.02 197.86 404.44 196.01 405.85 194.13 407.27 192.22 408.69 190.29 410.1 188.33 411.52 186.25 412.94 184.12 414.35 182.34 415.77 180.94 417.18 179.85 418.6 178.99 420.02 178.22 421.43 177.44 422.85 176.7 424.27 176.04 425.68 175.49 427.1 175 428.52 174.56 429.93 174.15 431.35 173.76 432.76 173.37 434.18 172.98 435.6 172.6 437.01 172.22 438.43 171.86 439.85 171.51 441.26 171.17 442.68 170.84 444.1 170.52 445.51 170.23 446.93 169.94 448.34 169.63 449.76 169.3 451.18 168.96 452.59 168.61 454.01 168.25 455.43 167.89 456.84 167.53 458.26 167.18 459.68 166.82 461.09 166.47 462.51 166.11 463.92 165.75 465.34 165.39 466.76 165.02 468.17 164.66 469.59 164.3 471.01 163.94 472.42 163.58 473.84 163.23 475.26 162.87 476.67 162.5 478.09 162.12 479.5 161.73 480.92 161.33 482.34 160.94 483.75 160.55 485.17 160.18 486.59 159.82 488 159.48 489.42 159.17 490.84 158.89 492.25 158.65 493.67 158.44 495.08 158.25 496.5 158.08 497.92 157.93 499.33 157.78 500.75 157.64 502.17 157.51 503.58 157.38 505 157.25 506.42 157.12 507.83 156.99 509.25 156.85 510.66 156.7 512.08 156.55 513.5 156.4 514.91 156.24 516.33 156.09 517.75 155.94 519.16 155.79 520.58 155.64 521.99 155.5 523.41 155.36 524.83 155.23 526.24 155.1 527.66 154.97 529.08 154.84 530.49 154.72 531.91 154.59 533.33 154.47 534.74 154.35 536.16 154.24 537.57 154.12 538.99 154.01 540.41 153.91 541.82 153.81 543.24 153.71 544.66 153.61 546.07 153.51 547.49 153.42 548.91 153.33 550.32 153.24 551.74 153.15 553.15 153.07 554.57 152.99 555.99 152.91 557.4 152.83 558.82 152.75 560.24 152.67 561.65 152.6 563.07 152.53 564.49 152.46 565.9 152.4 567.32 152.33 568.73 152.27 570.15 152.21 571.57 152.15 572.98 152.09 574.4 152.04"/><path fill="none" stroke="#1a1a1a" stroke-opacity="0.75" stroke-width="0.55" d="M349.2 232.87 350.62 232.05 352.03 231.11 353.45 230.14 354.87 229.23 356.28 228.46 357.7 227.78 359.11 227.14 360.53 226.34 361.95 225.2 363.36 224.06 364.78 222.94 366.2 221.85 367.61 220.8 369.03 219.76 370.45 218.68 371.86 217.53 373.28 216.33 374.69 215.08 376.11 213.76 377.53 212.34 378.94 210.8 380.36 209.03 381.78 207.05 383.19 204.98 384.61 202.95 386.03 200.94 387.44 198.91 388.86 196.88 390.27 194.87 391.69 192.85 393.11 190.88 394.52 189.02 395.94 187.23 397.36 185.67 398.77 184.48 400.19 183.47 401.61 182.5 403.02 181.61 404.44 180.78 405.85 180.01 407.27 179.27 408.69 178.56 410.1 177.89 411.52 177.25 412.94 176.64 414.35 176.04 415.77 175.47 417.18 174.91 418.6 174.37 420.02 173.85 421.43 173.34 422.85 172.85 424.27 172.38 425.68 171.92 427.1 171.48 428.52 171.05 429.93 170.64 431.35 170.24 432.76 169.85 434.18 169.48 435.6 169.12 437.01 168.76 438.43 168.43 439.85 168.11 441.26 167.8 442.68 167.49 444.1 167.18 445.51 166.87 446.93 166.55 448.34 166.22 449.76 165.88 451.18 165.54 452.59 165.2 454.01 164.85 455.43 164.5 456.84 164.14 458.26 163.78 459.68 163.41 461.09 163.02 462.51 162.62 463.92 162.21 465.34 161.79 466.76 161.38 468.17 160.97 469.59 160.57 471.01 160.19 472.42 159.84 473.84 159.51 475.26 159.22 476.67 158.96 478.09 158.7 479.5 158.46 480.92 158.23 482.34 158 483.75 157.79 485.17 157.59 486.59 157.39 488 157.21 489.42 157.03 490.84 156.86 492.25 156.69 493.67 156.54 495.08 156.39 496.5 156.24 497.92 156.1 499.33 155.97 500.75 155.83 502.17 155.71 503.58 155.58 505 155.46 506.42 155.35 507.83 155.23 509.25 155.12 510.66 155.01 512.08 154.91 513.5 154.8 514.91 154.7 516.33 154.6 517.75 154.51 519.16 154.41 520.58 154.31 521.99 154.22 523.41 154.13 524.83 154.04 526.24 153.95 527.66 153.86 529.08 153.78 530.49 153.7 531.91 153.62 533.33 153.54 534.74 153.46 536.16 153.39 537.57 153.32 538.99 153.25 540.41 153.18 541.82 153.12 543.24 153.05 544.66 152.99 546.07 152.93 547.49 152.87 548.91 152.82 550.32 152.76 551.74 152.7 553.15 152.65 554.57 152.59 555.99 152.54 557.4 152.49 558.82 152.44 560.24 152.39 561.65 152.35 563.07 152.3 564.49 152.25 565.9 152.21 567.32 152.17 568.73 152.13 570.15 152.09 571.57 152.05 572.98 152.02 574.4 151.98"/><path fill="none" stroke="#1a1a1a" stroke-opacity="0.75" stroke-width="0.55" d="M349.2 230.87 350.62 229.59 352.03 228.28 353.45 226.94 354.87 225.53 356.28 224.06 357.7 222.51 359.11 220.87 360.53 219.11 361.95 217.22 363.36 215.27 364.78 213.29 366.2 211.28 367.61 209.22 369.03 207.14 370.45 205.1 371.86 203.07 373.28 201.03 374.69 198.98 376.11 196.89 377.53 194.79 378.94 192.7 380.36 190.51 381.78 188.51 383.19 187.12 384.61 186.04 386.03 184.99 387.44 184 388.86 183.02 390.27 182.01 391.69 180.97 393.11 179.98 394.52 179.08 395.94 178.25 397.36 177.46 398.77 176.73 400.19 176.03 401.61 175.36 403.02 174.7 404.44 174.08 405.85 173.48 407.27 172.92 408.69 172.4 410.1 171.93 411.52 171.49 412.94 171.07 414.35 170.67 415.77 170.29 417.18 169.93 418.6 169.57 420.02 169.21 421.43 168.86 422.85 168.5 424.27 168.14 425.68 167.76 427.1 167.37 428.52 166.97 429.93 166.58 431.35 166.22 432.76 165.89 434.18 165.59 435.6 165.31 437.01 165.05 438.43 164.79 439.85 164.55 441.26 164.31 442.68 164.08 444.1 163.85 445.51 163.62 446.93 163.39 448.34 163.15 449.76 162.92 451.18 162.69 452.59 162.47 454.01 162.25 455.43 162.02 456.84 161.8 458.26 161.58 459.68 161.35 461.09 161.11 462.51 160.88 463.92 160.64 465.34 160.4 466.76 160.16 468.17 159.92 469.59 159.69 471.01 159.46 472.42 159.24 473.84 159.02 475.26 158.81 476.67 158.61 478.09 158.41 479.5 158.22 480.92 158.02 482.34 157.83 483.75 157.64 485.17 157.46 486.59 157.28 488 157.11 489.42 156.95 490.84 156.79 492.25 156.64 493.67 156.49 495.08 156.35 496.5 156.21 497.92 156.07 499.33 155.94 500.75 155.81 502.17 155.68 503.58 155.56 505 155.44 506.42 155.32 507.83 155.21 509.25 155.1 510.66 154.99 512.08 154.88 513.5 154.78 514.91 154.68 516.33 154.58 517.75 154.48 519.16 154.39 520.58 154.29 521.99 154.2 523.41 154.11 524.83 154.02 526.24 153.94 527.66 153.85 529.08 153.77 530.49 153.69 531.91 153.61 533.33 153.53 534.74 153.46 536.16 153.38 537.57 153.31 538.99 153.24 540.41 153.18 541.82 153.12 543.24 153.05 544.66 152.99 546.07 152.93 547.49 152.87 548.91 152.82 550.32 152.76 551.74 152.7 553.15 152.65 554.57 152.59 555.99 152.54 557.4 152.49 558.82 152.44 560.24 152.39 561.65 152.35 563.07 152.3 564.49 152.25 565.9 152.21 567.32 152.17 568.73 152.13 570.15 152.09 571.57 152.05 572.98 152.02 574.4 151.98"/></g><rect x="349.2" y="144.4" width="225.2" height="82.9" fill="none" stroke="#6e6e6e" stroke-width="1"/><path d="M349.2 227.7v2.6" stroke="#444" stroke-width="0.8"/><text x="349.2" y="238.3" font-size="8.2" text-anchor="middle" fill="#141414">95</text><path d="M381.37 227.7v2.6" stroke="#444" stroke-width="0.8"/><text x="381.37" y="238.3" font-size="8.2" text-anchor="middle" fill="#141414">100</text><path d="M413.54 227.7v2.6" stroke="#444" stroke-width="0.8"/><text x="413.54" y="238.3" font-size="8.2" text-anchor="middle" fill="#141414">105</text><path d="M445.71 227.7v2.6" stroke="#444" stroke-width="0.8"/><text x="445.71" y="238.3" font-size="8.2" text-anchor="middle" fill="#141414">110</text><path d="M477.89 227.7v2.6" stroke="#444" stroke-width="0.8"/><text x="477.89" y="238.3" font-size="8.2" text-anchor="middle" fill="#141414">115</text><path d="M510.06 227.7v2.6" stroke="#444" stroke-width="0.8"/><text x="510.06" y="238.3" font-size="8.2" text-anchor="middle" fill="#141414">120</text><path d="M542.23 227.7v2.6" stroke="#444" stroke-width="0.8"/><text x="542.23" y="238.3" font-size="8.2" text-anchor="middle" fill="#141414">125</text><path d="M348.8 202.97h-2.6" stroke="#444" stroke-width="0.8"/><text x="344.8" y="205.97" font-size="8.2" text-anchor="end" fill="#141414">300</text><path d="M348.8 175.79h-2.6" stroke="#444" stroke-width="0.8"/><text x="344.8" y="178.79" font-size="8.2" text-anchor="end" fill="#141414">400</text><path d="M348.8 148.61h-2.6" stroke="#444" stroke-width="0.8"/><text x="344.8" y="151.61" font-size="8.2" text-anchor="end" fill="#141414">500</text><text x="461.8" y="247.9" font-size="8.2" text-anchor="middle" fill="#141414">x [km]</text><text x="327" y="185.85" font-size="8.2" text-anchor="middle" fill="#141414" transform="rotate(-90 327 185.85)">Height [m]</text><rect x="316.7" y="128.7" width="10" height="10.7" fill="#fff" stroke="#555" stroke-width="1"/><text x="321.7" y="138.1" font-size="10.6" text-anchor="middle" fill="#111">E</text><g clip-path="url(#clipF)"><path fill="#780dff" d="M577.62 283.88 540.88 285.12 503.38 287.62 490.38 288.88 452.38 293.62 431.38 295.12 410.38 297.38 401.62 298.62 397.38 299.62 390.12 302.12 385.62 304.38 381.62 307.12 376.88 311.62 365.62 327.12 351.88 347.88 349.38 350.88 349.38 359.38 358.88 359.38 396.62 340.62 412.88 331.38 431.38 322.12 447.38 314.88 461.12 309.62 474.12 305.88 499.12 299.62 527.12 293.62 549.12 290.12 577.62 286.62Z"/><path fill="#6629fe" d="M577.62 283.88 572.38 284.38 566.62 284.12 536.12 285.38 509.38 287.12 500.88 288.12 500.62 287.88 493.62 288.88 493.12 288.62 488.88 289.12 487.62 289.62 486.88 289.38 485.88 289.88 484.88 289.62 463.38 293.12 463.12 292.88 446.62 294.88 430.88 295.88 409.88 298.12 401.38 299.38 396.38 300.62 390.12 302.88 385.12 305.38 380.12 309.12 376.62 312.62 366.62 326.38 352.38 347.88 349.38 351.62 349.38 359.38 358.88 359.38 396.12 340.88 412.88 331.38 432.38 321.62 447.38 314.88 461.88 309.38 474.12 305.88 501.12 299.12 527.12 293.62 545.38 290.62 577.62 286.62Z"/><path fill="#5444fd" d="M577.62 284.12 575.38 283.88 572.38 284.38 566.62 284.12 567.38 284.12 567.38 284.62 559.12 284.38 541.12 285.12 503.62 287.62 493.62 288.88 493.12 288.62 491.38 289.12 490.88 288.88 487.62 289.62 486.88 289.38 485.88 289.88 484.88 289.62 484.12 290.12 481.12 290.12 463.38 293.12 461.12 293.12 460.12 293.62 458.88 293.38 458.62 293.88 456.88 293.62 446.62 294.88 430.88 295.88 409.88 298.12 401.38 299.38 396.38 300.62 390.12 302.88 385.12 305.38 380.12 309.12 376.62 312.62 366.62 326.38 352.38 347.88 349.38 351.62 349.38 359.38 358.62 359.38 360.38 358.38 361.12 358.38 395.12 341.38 401.38 337.88 402.12 337.12 402.88 337.12 414.62 330.38 432.62 321.38 450.38 313.62 463.38 308.88 502.62 298.62 506.38 298.12 509.62 297.12 525.62 293.88 545.12 290.62 577.62 286.62ZM523.88 287.38 524.12 287.12 524.62 287.62 524.12 287.88ZM526.12 287.38 526.62 286.88 527.12 287.38Z"/><path fill="#4062fa" d="M577.62 284.12 575.38 283.88 572.38 284.38 566.62 284.12 567.38 284.12 567.38 284.62 559.12 284.38 541.12 285.12 503.62 287.62 493.62 288.88 493.12 288.62 491.38 289.12 490.88 288.88 487.62 289.62 486.88 289.38 485.88 289.88 484.88 289.62 484.12 290.12 483.12 289.88 482.38 290.38 481.12 290.12 480.88 290.62 479.38 290.38 463.38 293.12 461.12 293.12 460.12 293.62 458.88 293.38 458.62 293.88 456.88 293.62 446.62 294.88 430.88 295.88 409.88 298.12 401.38 299.38 396.38 300.62 390.12 302.88 385.12 305.38 380.12 309.12 376.62 312.62 366.62 326.38 352.38 347.88 349.38 351.62 349.38 359.38 358.38 359.38 360.62 358.12 361.62 358.12 394.12 341.88 415.88 329.62 432.88 321.12 450.88 313.38 461.62 309.38 470.12 306.88 478.88 304.88 485.12 302.88 502.12 298.62 508.62 297.62 510.62 296.88 524.12 294.12 550.38 289.88 577.62 286.62ZM393.12 323.12 393.38 322.88 393.62 323.38 393.38 323.62ZM380.62 322.12 380.88 321.88 381.12 322.38 380.88 322.62ZM381.12 321.38 381.38 321.12 381.62 321.62 381.38 321.88ZM395.62 319.88 395.88 319.62 396.12 320.12 395.88 320.38ZM426.88 317.12 427.38 316.62 427.88 316.88 427.38 317.38ZM428.88 315.62 429.38 315.12 429.88 315.38 429.38 315.88ZM429.88 314.88 430.38 314.38 430.88 314.62 430.38 315.12ZM432.88 312.62 433.38 312.12 433.88 312.38 433.38 312.88ZM434.12 311.62 434.62 311.12 435.12 311.38 434.62 311.88ZM521.12 287.62 521.62 287.38 522.62 287.88 521.62 288.12ZM523.38 287.38 524.12 287.12 524.62 287.62 523.62 287.88ZM525.62 287.38 526.38 286.88 527.12 287.38ZM529.62 286.88 529.12 287.38 527.88 287.12 529.12 286.62Z"/><path fill="#2e7bf7" d="M577.62 284.12 575.38 283.88 572.38 284.38 566.62 284.12 567.38 284.12 567.38 284.62 559.12 284.38 541.12 285.12 503.62 287.62 491.38 289.12 490.88 288.88 487.62 289.62 486.88 289.38 485.88 289.88 484.88 289.62 484.12 290.12 483.12 289.88 482.38 290.38 481.12 290.12 480.88 290.62 479.38 290.38 463.38 293.12 461.12 293.12 460.12 293.62 458.88 293.38 458.62 293.88 456.88 293.62 456.88 294.12 454.62 293.88 446.62 294.88 430.88 295.88 409.88 298.12 401.38 299.38 396.38 300.62 390.12 302.88 385.12 305.38 380.12 309.12 376.62 312.62 366.62 326.38 352.38 347.88 349.38 351.62 349.38 359.38 358.38 359.38 360.62 358.12 360.88 358.38 393.12 341.88 393.38 342.12 396.38 340.62 401.88 337.12 402.38 337.38 417.12 328.88 438.62 318.38 444.38 316.38 450.12 313.62 463.12 308.88 502.62 298.38 507.38 297.88 510.38 296.88 522.62 294.38 550.12 289.88 577.62 286.62ZM362.38 348.38 362.62 348.12 362.88 348.62 362.62 348.88ZM365.62 343.88 365.88 343.62 366.12 344.12 365.88 344.38ZM378.88 342.88 379.12 342.62 379.38 343.12 379.12 343.38ZM380.12 341.38 380.38 341.12 380.62 341.62 380.38 341.88ZM367.38 341.38 367.62 341.12 367.88 341.62 367.62 341.88ZM367.88 340.62 368.12 340.38 368.38 340.88 368.12 341.12ZM381.62 339.38 381.88 339.12 382.12 339.62 381.88 339.88ZM396.62 338.12 396.88 337.88 397.12 338.38 396.88 338.62ZM369.62 338.12 369.88 337.88 370.12 338.38 369.88 338.62ZM370.12 337.38 370.38 337.12 370.62 337.62 370.38 337.88ZM398.38 336.12 398.62 335.88 398.88 336.38 398.62 336.62ZM383.88 336.12 384.12 335.88 384.38 336.38 384.12 336.62ZM371.38 335.62 371.62 335.38 371.88 335.88 371.62 336.12ZM384.38 335.38 384.62 335.12 384.88 335.62 384.62 335.88ZM404.62 334.88 404.88 335.12 403.88 335.88 403.62 335.62ZM371.88 334.88 372.12 334.62 372.38 335.12 372.12 335.38ZM399.62 334.62 399.88 334.38 400.12 334.88 399.88 335.12ZM385.12 334.38 385.38 334.12 385.62 334.62 385.38 334.88ZM372.62 333.88 372.88 333.62 373.12 334.12 372.88 334.38ZM385.62 333.62 385.88 333.38 386.12 333.88 385.88 334.12ZM400.62 333.38 400.88 333.12 401.12 333.62 400.88 333.88ZM406.12 333.38 406.62 332.88 407.12 333.12 406.62 333.62ZM373.12 333.12 373.38 332.88 373.62 333.38 373.38 333.62ZM386.38 332.62 386.62 332.38 386.88 332.88 386.62 333.12ZM373.62 332.38 373.88 332.12 374.12 332.62 373.88 332.88ZM401.62 332.12 401.88 331.88 402.12 332.38 401.88 332.62ZM407.62 332.12 408.12 331.62 408.62 331.88 408.12 332.38ZM386.88 331.88 387.12 331.62 387.38 332.12 387.12 332.38ZM374.38 331.38 374.62 331.12 374.88 331.62 374.62 331.88ZM402.38 331.12 402.62 330.88 402.88 331.38 402.62 331.62ZM408.88 331.12 409.38 330.62 409.88 330.88 409.38 331.38ZM374.88 330.62 375.12 330.38 375.38 330.88 375.12 331.12ZM409.88 330.38 410.38 329.88 410.88 330.12 410.38 330.62ZM388.12 330.12 388.38 329.88 388.62 330.38 388.38 330.62ZM403.38 329.88 403.62 329.62 403.88 330.12 403.62 330.38ZM375.38 329.88 375.62 329.62 375.88 330.12 375.62 330.38ZM410.88 329.62 411.38 329.12 411.88 329.38 411.38 329.88ZM388.62 329.38 388.88 329.12 389.12 329.62 388.88 329.88ZM375.88 329.12 376.12 328.88 376.38 329.38 376.12 329.62ZM404.12 328.88 404.38 328.62 404.62 329.12 404.38 329.38ZM412.62 328.38 412.88 328.62 411.88 329.38 411.62 329.12ZM389.38 328.38 389.62 328.12 389.88 328.62 389.62 328.88ZM376.38 328.38 376.62 328.12 376.88 328.62 376.62 328.88ZM412.62 328.38 413.12 327.88 413.62 328.12 413.12 328.62ZM404.88 327.88 405.12 327.62 405.38 328.12 405.12 328.38ZM389.88 327.62 390.12 327.38 390.38 327.88 390.12 328.12ZM376.88 327.62 377.12 327.38 377.38 327.88 377.12 328.12ZM414.62 326.88 414.88 327.12 413.88 327.88 413.62 327.62ZM406.12 326.38 406.38 326.88 405.88 327.38 405.62 326.88ZM390.62 326.62 390.88 326.38 391.12 326.88 390.88 327.12ZM377.62 326.62 377.88 326.38 378.12 326.88 377.88 327.12ZM414.88 326.62 415.38 326.12 415.88 326.38 415.38 326.88ZM391.12 325.88 391.38 325.62 391.62 326.12 391.38 326.38ZM378.12 325.88 378.38 325.62 378.62 326.12 378.38 326.38ZM406.62 325.62 406.88 325.38 407.12 325.88 406.88 326.12ZM416.88 325.12 417.12 325.38 416.12 326.12 415.88 325.88ZM391.62 325.12 391.88 324.88 392.12 325.38 391.88 325.62ZM378.62 325.12 378.88 324.88 379.12 325.38 378.88 325.62ZM407.38 324.62 407.62 324.38 407.88 324.88 407.62 325.12ZM418.12 324.12 418.38 324.38 417.38 325.12 417.12 324.88ZM379.12 324.38 379.38 324.12 379.62 324.62 379.38 324.88ZM392.38 324.12 392.62 323.88 392.88 324.38 392.62 324.62ZM408.12 323.62 408.38 323.38 408.62 323.88 408.38 324.12ZM379.62 323.62 379.88 323.38 380.12 323.88 379.88 324.12ZM419.38 323.12 419.62 323.38 418.62 324.12 418.38 323.88ZM393.38 322.88 393.62 323.38 393.12 323.88 392.88 323.38ZM380.12 322.88 380.38 322.62 380.62 323.12 380.38 323.38ZM409.12 322.38 409.38 322.88 408.88 323.38 408.62 322.88ZM420.62 322.12 420.88 322.38 419.88 323.12 419.62 322.88ZM393.62 322.38 393.88 322.12 394.12 322.62 393.88 322.88ZM380.62 322.12 380.88 321.88 381.12 322.38 380.88 322.62ZM409.38 321.88 409.62 321.62 409.88 322.12 409.62 322.38ZM421.88 321.12 422.12 321.38 421.12 322.12 420.88 321.88ZM381.38 321.12 381.62 321.62 381.12 322.12 380.88 321.62ZM394.88 320.88 395.12 321.38 394.62 321.88 394.38 321.38ZM410.12 320.88 410.38 320.62 410.62 321.12 410.38 321.38ZM423.12 320.12 423.38 320.38 422.38 321.12 422.12 320.88ZM411.12 319.62 411.38 320.12 410.88 320.62 410.62 320.12ZM395.88 319.62 396.12 320.12 395.38 320.88 395.12 320.38ZM424.38 319.12 424.62 319.38 423.62 320.12 423.38 319.88ZM411.38 319.12 411.62 318.88 411.88 319.38 411.62 319.62ZM396.88 318.38 397.12 318.88 396.38 319.62 396.12 319.12ZM425.62 318.12 425.88 318.38 424.88 319.12 424.62 318.88ZM411.88 318.38 412.12 318.12 412.38 318.62 412.12 318.88ZM412.38 317.62 412.62 317.38 412.88 317.88 412.62 318.12ZM426.88 317.12 427.12 317.38 426.12 318.12 425.88 317.88ZM412.88 316.88 413.12 316.62 413.38 317.12 413.12 317.38ZM428.12 316.12 428.38 316.38 427.12 317.38 426.88 317.12ZM413.38 316.12 413.62 315.88 413.88 316.38 413.62 316.62ZM414.38 314.88 414.62 315.38 414.12 315.88 413.88 315.38ZM431.12 314.38 428.62 316.38 428.12 316.12 430.62 314.12ZM431.88 313.38 432.12 313.62 431.12 314.38 430.88 314.12ZM432.88 312.62 433.12 312.88 432.12 313.62 431.88 313.38ZM434.12 311.62 434.38 311.88 433.12 312.88 432.88 312.62ZM435.12 310.88 435.38 311.12 434.38 311.88 434.12 311.62ZM440.38 308.62 438.88 309.38 438.12 309.12 439.62 308.38ZM442.88 307.38 443.62 306.88 444.38 307.12 443.62 307.62ZM444.88 306.62 445.62 306.12 446.38 306.38 445.62 306.88ZM448.38 305.38 449.12 304.88 449.88 305.12 449.12 305.62ZM520.88 287.62 521.62 287.38 522.62 287.88 521.38 288.12ZM523.12 287.38 524.12 287.12 524.62 287.62 523.38 287.88ZM525.12 287.38 526.12 286.88 527.12 287.38ZM527.62 287.12 528.62 286.62 529.62 286.88 529.12 287.38ZM532.62 286.62 531.62 287.12 530.12 286.88 531.62 286.38ZM535.38 286.38 534.38 286.88 532.62 286.62 534.38 286.12Z"/><path fill="#1c93f3" d="M577.62 284.12 566.62 284.12 567.38 284.12 567.38 284.62 559.12 284.38 541.12 285.12 503.62 287.62 487.62 289.62 486.88 289.38 485.88 289.88 484.88 289.62 484.12 290.12 483.12 289.88 482.38 290.38 481.12 290.12 480.88 290.62 479.38 290.38 479.88 290.62 479.62 290.88 477.62 290.62 460.12 293.62 458.88 293.38 458.62 293.88 456.88 293.62 456.88 294.12 454.62 293.88 446.62 294.88 430.88 295.88 409.88 298.12 401.38 299.38 396.38 300.62 390.12 302.88 385.12 305.38 380.12 309.12 376.62 312.62 366.62 326.38 352.38 347.88 349.38 351.62 349.38 359.38 352.62 359.38 353.38 358.62 353.88 358.88 353.38 359.38 358.12 359.38 360.62 358.12 360.88 358.38 393.12 341.88 393.38 342.12 401.38 337.62 402.62 336.38 403.12 336.62 402.62 337.12 417.88 328.38 436.62 319.12 446.12 315.62 450.62 313.38 461.38 309.38 472.62 306.12 477.88 305.12 488.12 301.88 503.38 298.12 507.38 297.88 511.38 296.62 539.38 291.38 577.12 286.62 577.62 286.38ZM360.88 357.88 361.38 357.38 361.88 357.62 361.38 358.12ZM362.12 356.88 362.62 356.38 363.12 356.62 362.62 357.12ZM363.38 355.88 363.88 355.38 364.38 355.62 363.88 356.12ZM356.88 355.12 357.12 355.62 355.88 356.88 355.62 356.38ZM365.38 354.38 365.62 354.62 364.62 355.38 364.38 355.12ZM365.62 354.12 366.12 353.62 366.62 353.88 366.12 354.38ZM366.62 353.38 367.12 352.88 367.62 353.12 367.12 353.62ZM358.88 352.88 359.12 353.38 358.62 353.88 358.38 353.38ZM367.38 352.88 367.88 352.38 368.38 352.62 367.88 353.12ZM368.38 352.12 368.88 351.62 369.38 351.88 368.88 352.38ZM359.88 351.62 360.12 351.38 360.38 351.88 360.12 352.12ZM369.38 351.38 369.88 350.88 370.38 351.12 369.88 351.62ZM370.38 350.62 370.88 350.12 371.38 350.38 370.88 350.88ZM361.12 350.12 361.38 350.62 360.88 351.12 360.62 350.62ZM361.62 349.38 361.88 349.12 362.12 349.62 361.88 349.88ZM372.62 348.88 372.88 349.12 371.88 349.88 371.62 349.62ZM362.38 348.38 362.62 348.12 362.88 348.62 362.62 348.88ZM374.12 347.62 374.38 347.88 373.38 348.62 373.12 348.38ZM362.88 347.62 363.12 347.38 363.38 347.88 363.12 348.12ZM363.62 346.62 363.88 346.38 364.12 346.88 363.88 347.12ZM364.12 345.88 364.38 345.62 364.62 346.12 364.38 346.38ZM364.88 344.88 365.12 344.62 365.38 345.12 365.12 345.38ZM365.62 343.88 365.88 343.62 366.12 344.12 365.88 344.38ZM366.12 343.12 366.38 342.88 366.62 343.38 366.38 343.62ZM379.12 342.62 379.38 343.12 375.38 346.88 375.12 346.62ZM366.62 342.38 366.88 342.12 367.12 342.62 366.88 342.88ZM380.38 341.12 380.62 341.62 380.12 342.12 379.88 341.62ZM367.62 341.12 367.88 341.62 367.38 342.12 367.12 341.62ZM367.88 340.62 368.12 340.38 368.38 340.88 368.12 341.12ZM380.88 340.38 381.12 340.12 381.38 340.62 381.12 340.88ZM368.38 339.88 368.62 339.62 368.88 340.12 368.62 340.38ZM381.88 339.12 382.12 339.62 381.62 340.12 381.38 339.62ZM368.88 339.12 369.12 338.88 369.38 339.38 369.12 339.62ZM382.12 338.62 382.38 338.38 382.62 338.88 382.38 339.12ZM396.88 337.88 397.12 338.38 396.12 339.38 395.88 338.88ZM369.88 337.88 370.12 338.38 369.62 338.88 369.38 338.38ZM382.62 337.88 382.88 337.62 383.12 338.12 382.88 338.38ZM370.12 337.38 370.38 337.12 370.62 337.62 370.38 337.88ZM383.12 337.12 383.38 336.88 383.62 337.38 383.38 337.62ZM370.62 336.62 370.88 336.38 371.12 336.88 370.88 337.12ZM398.62 335.88 398.88 336.38 397.88 337.38 397.62 336.88ZM384.12 335.88 384.38 336.38 383.88 336.88 383.62 336.38ZM371.62 335.38 371.88 335.88 371.38 336.38 371.12 335.88ZM384.38 335.38 384.62 335.12 384.88 335.62 384.62 335.88ZM372.12 334.62 372.38 335.12 371.88 335.62 371.62 335.12ZM399.88 334.38 400.12 334.88 399.38 335.62 399.12 335.12ZM385.38 334.12 385.62 334.62 385.12 335.12 384.88 334.62ZM405.62 333.88 405.88 334.12 403.88 335.88 403.62 335.62ZM372.88 333.62 373.12 334.12 372.62 334.62 372.38 334.12ZM385.88 333.38 386.12 333.88 385.62 334.38 385.38 333.88ZM400.88 333.12 401.12 333.62 400.62 334.12 400.38 333.62ZM373.38 332.88 373.62 333.38 373.12 333.88 372.88 333.38ZM386.62 332.38 386.88 332.88 386.38 333.38 386.12 332.88ZM407.62 332.12 407.88 332.38 406.38 333.62 406.12 333.38ZM373.88 332.12 374.12 332.62 373.62 333.12 373.38 332.62ZM401.88 331.88 402.12 332.38 401.62 332.88 401.38 332.38ZM387.12 331.62 387.38 332.12 386.88 332.62 386.62 332.12ZM408.88 331.12 409.12 331.38 407.88 332.38 407.62 332.12ZM374.62 331.12 374.88 331.62 374.38 332.12 374.12 331.62ZM402.62 330.88 402.88 331.38 402.38 331.88 402.12 331.38ZM387.38 331.12 387.62 330.88 387.88 331.38 387.62 331.62ZM409.88 330.38 410.12 330.62 409.12 331.38 408.88 331.12ZM375.12 330.38 375.38 330.88 374.88 331.38 374.62 330.88ZM388.38 329.88 388.62 330.38 388.12 330.88 387.88 330.38ZM410.88 329.62 411.12 329.88 410.12 330.62 409.88 330.38ZM403.62 329.62 403.88 330.12 403.12 330.88 402.88 330.38ZM375.62 329.62 375.88 330.12 375.38 330.62 375.12 330.12ZM388.88 329.12 389.12 329.62 388.62 330.12 388.38 329.62ZM376.12 328.88 376.38 329.38 375.88 329.88 375.62 329.38ZM404.38 328.62 404.62 329.12 404.12 329.62 403.88 329.12ZM389.62 328.12 389.88 328.62 389.38 329.12 389.12 328.62ZM376.62 328.12 376.88 328.62 376.38 329.12 376.12 328.62ZM405.12 327.62 405.38 328.12 404.88 328.62 404.62 328.12ZM390.12 327.38 390.38 327.88 389.88 328.38 389.62 327.88ZM376.88 327.62 377.12 327.38 377.38 327.88 377.12 328.12ZM415.12 326.88 411.38 329.88 410.88 329.62 414.62 326.62ZM406.12 326.38 406.38 326.88 405.62 327.62 405.38 327.12ZM390.88 326.38 391.12 326.88 390.38 327.62 390.12 327.12ZM377.88 326.38 378.12 326.88 377.62 327.38 377.38 326.88ZM391.38 325.62 391.62 326.12 391.12 326.62 390.88 326.12ZM378.38 325.62 378.62 326.12 378.12 326.62 377.88 326.12ZM406.88 325.38 407.12 325.88 406.38 326.62 406.12 326.12ZM391.88 324.88 392.12 325.38 391.62 325.88 391.38 325.38ZM378.88 324.88 379.12 325.38 378.62 325.88 378.38 325.38ZM407.62 324.38 407.88 324.88 407.12 325.62 406.88 325.12ZM379.38 324.12 379.62 324.62 379.12 325.12 378.88 324.62ZM392.62 323.88 392.88 324.38 392.38 324.88 392.12 324.38ZM408.38 323.38 408.62 323.88 407.88 324.62 407.62 324.12ZM379.88 323.38 380.12 323.88 379.62 324.38 379.38 323.88ZM393.38 322.88 393.62 323.38 392.88 324.12 392.62 323.62ZM380.38 322.62 380.62 323.12 380.12 323.62 379.88 323.12ZM409.12 322.38 409.38 322.88 408.62 323.62 408.38 323.12ZM393.88 322.12 394.12 322.62 393.62 323.12 393.38 322.62ZM409.62 321.62 409.88 322.12 409.38 322.62 409.12 322.12ZM394.88 320.88 395.12 321.38 394.12 322.38 393.88 321.88ZM410.38 320.62 410.62 321.12 410.12 321.62 409.88 321.12ZM382.12 320.38 382.38 320.62 380.62 322.88 380.62 321.88ZM411.12 319.62 411.38 320.12 410.62 320.88 410.38 320.38ZM411.62 318.88 411.88 319.38 411.38 319.88 411.12 319.38ZM396.88 318.38 397.12 318.88 395.12 321.12 394.88 320.62ZM412.12 318.12 412.38 318.62 411.88 319.12 411.62 318.62ZM412.62 317.38 412.88 317.88 412.38 318.38 412.12 317.88ZM413.12 316.62 413.38 317.12 412.88 317.62 412.62 317.12ZM413.62 315.88 413.88 316.38 413.38 316.88 413.12 316.38ZM414.38 314.88 414.62 315.38 413.88 316.12 413.62 315.62ZM414.38 314.88 414.62 314.38 415.12 314.62 414.62 315.12ZM435.62 310.88 415.38 326.88 414.88 326.62 428.38 315.62 435.12 310.62ZM457.38 302.62 446.38 306.38 436.88 310.12 436.38 309.88 437.38 309.12 456.38 302.38ZM462.88 300.88 458.12 302.62 457.12 302.38 461.88 300.62ZM466.88 299.62 463.62 300.88 462.62 300.62 465.88 299.38ZM469.38 298.88 467.62 299.62 466.62 299.38 468.38 298.62ZM471.88 298.12 470.12 298.88 469.12 298.62 470.88 297.88ZM471.62 297.88 472.62 297.38 473.62 297.62 472.62 298.12ZM473.38 297.38 474.38 296.88 475.38 297.12 474.38 297.62ZM478.12 296.38 476.12 297.12 475.12 296.88 477.12 296.12ZM482.88 295.12 479.88 296.12 478.88 295.88 481.88 294.88ZM491.12 293.12 488.88 293.88 487.62 293.62 489.88 292.88ZM494.62 292.38 492.12 293.12 490.88 292.88 493.38 292.12ZM496.88 291.62 498.38 291.12 499.88 291.38 498.38 291.88ZM499.62 291.12 501.12 290.62 502.62 290.88 501.12 291.38ZM505.38 290.12 507.12 289.62 508.88 289.88 507.12 290.38ZM518.12 287.88 519.12 287.62 520.62 288.12 519.12 288.38ZM520.38 287.62 521.62 287.38 522.62 287.88 520.88 288.12ZM522.62 287.62 523.12 287.12 524.12 287.12 524.62 287.62ZM524.88 287.38 525.62 286.88 526.62 286.88 527.12 287.38ZM527.12 287.12 528.38 286.62 529.62 286.88 529.12 287.38ZM546.88 285.62 531.62 287.12 529.62 286.88 531.12 286.38 543.38 285.38Z"/><path fill="#09a9ee" d="M577.62 284.12 566.62 284.12 567.38 284.12 567.38 284.62 559.12 284.38 562.62 284.38 562.62 284.88 552.62 284.62 541.12 285.12 503.62 287.62 489.62 289.12 485.88 289.88 484.88 289.62 484.12 290.12 483.12 289.88 482.38 290.38 481.12 290.12 480.88 290.62 479.38 290.38 479.88 290.62 479.62 290.88 477.62 290.62 460.12 293.62 458.88 293.38 458.62 293.88 456.88 293.62 456.88 294.12 454.62 293.88 446.62 294.88 430.88 295.88 409.88 298.12 401.38 299.38 396.38 300.62 390.12 302.88 385.12 305.38 380.12 309.12 376.62 312.62 366.62 326.38 352.38 347.88 349.38 351.62 349.38 359.38 352.62 359.38 356.88 355.12 357.12 355.62 353.38 359.38 358.12 359.38 360.38 358.12 360.88 358.38 374.12 351.38 393.12 341.88 393.38 342.12 401.62 337.38 403.38 335.62 403.88 335.88 403.12 336.88 416.88 328.88 435.88 319.38 445.38 315.88 452.38 312.62 463.62 308.62 473.38 305.88 477.62 305.12 489.62 301.38 502.88 298.12 507.38 297.88 508.12 297.38 537.62 291.62 577.62 286.38ZM361.88 357.12 362.12 357.38 361.12 358.12 360.88 357.88ZM363.12 356.12 363.38 356.38 362.38 357.12 362.12 356.88ZM364.38 355.12 364.62 355.38 363.62 356.12 363.38 355.88ZM365.62 354.12 365.88 354.38 364.62 355.38 364.38 355.12ZM366.62 353.38 366.88 353.62 365.88 354.38 365.62 354.12ZM358.88 352.88 359.12 353.38 358.12 354.38 357.88 353.88ZM368.62 352.38 367.12 353.62 366.62 353.38 368.12 352.12ZM369.38 351.38 369.62 351.62 368.62 352.38 368.38 352.12ZM360.12 351.38 360.38 351.88 359.62 352.62 359.38 352.12ZM370.38 350.62 370.62 350.88 369.62 351.62 369.38 351.38ZM361.12 350.12 361.38 350.62 360.62 351.38 360.38 350.88ZM371.62 349.62 371.88 349.88 370.62 350.88 370.38 350.62ZM361.88 349.12 362.12 349.62 361.62 350.12 361.38 349.62ZM373.12 348.38 373.38 348.62 371.88 349.88 371.62 349.62ZM362.62 348.12 362.88 348.62 362.38 349.12 362.12 348.62ZM363.12 347.38 363.38 347.88 362.88 348.38 362.62 347.88ZM374.88 346.88 375.12 347.12 373.38 348.62 373.12 348.38ZM363.88 346.38 364.12 346.88 363.62 347.38 363.38 346.88ZM364.12 345.88 364.38 345.62 364.62 346.12 364.38 346.38ZM365.12 344.62 365.38 345.12 364.88 345.62 364.62 345.12ZM365.88 343.62 366.12 344.12 365.62 344.62 365.38 344.12ZM366.38 342.88 366.62 343.38 366.12 343.88 365.88 343.38ZM379.12 342.62 379.38 343.12 375.38 346.88 375.12 346.62ZM366.88 342.12 367.12 342.62 366.62 343.12 366.38 342.62ZM380.38 341.12 380.62 341.62 379.62 342.62 379.38 342.12ZM367.62 341.12 367.88 341.62 367.38 342.12 367.12 341.62ZM368.12 340.38 368.38 340.88 367.88 341.38 367.62 340.88ZM381.12 340.12 381.38 340.62 380.62 341.38 380.38 340.88ZM368.62 339.62 368.88 340.12 368.38 340.62 368.12 340.12ZM381.88 339.12 382.12 339.62 381.38 340.38 381.12 339.88ZM369.12 338.88 369.38 339.38 368.88 339.88 368.62 339.38ZM382.38 338.38 382.62 338.88 382.12 339.38 381.88 338.88ZM396.88 337.88 397.12 338.38 395.38 340.12 395.12 339.62ZM369.88 337.88 370.12 338.38 369.38 339.12 369.12 338.62ZM382.88 337.62 383.12 338.12 382.62 338.62 382.38 338.12ZM370.38 337.12 370.62 337.62 370.12 338.12 369.88 337.62ZM383.38 336.88 383.62 337.38 383.12 337.88 382.88 337.38ZM370.88 336.38 371.12 336.88 370.62 337.38 370.38 336.88ZM398.62 335.88 398.88 336.38 397.38 337.88 397.12 337.38ZM384.12 335.88 384.38 336.38 383.88 336.88 383.62 336.38ZM371.62 335.38 371.88 335.88 371.12 336.62 370.88 336.12ZM384.62 335.12 384.88 335.62 384.38 336.12 384.12 335.62ZM372.12 334.62 372.38 335.12 371.88 335.62 371.62 335.12ZM399.88 334.38 400.12 334.88 398.88 336.12 398.62 335.62ZM385.38 334.12 385.62 334.62 384.88 335.38 384.62 334.88ZM385.88 333.38 386.12 333.88 385.62 334.38 385.38 333.88ZM400.88 333.12 401.12 333.62 400.12 334.62 399.88 334.12ZM373.38 332.88 373.62 333.38 372.38 334.88 372.12 334.38ZM373.88 332.12 374.12 332.62 373.62 333.12 373.38 332.62ZM401.88 331.88 402.12 332.38 401.12 333.38 400.88 332.88ZM387.12 331.62 387.38 332.12 386.12 333.62 385.88 333.12ZM402.62 330.88 402.88 331.38 402.12 332.12 401.88 331.62ZM387.62 330.88 387.88 331.38 387.38 331.88 387.12 331.38ZM388.88 329.12 389.12 329.62 387.88 331.12 387.62 330.62ZM376.12 328.88 376.38 329.38 374.12 332.38 373.88 331.88ZM404.38 328.62 404.62 329.12 402.88 331.12 402.62 330.62ZM376.62 328.12 376.88 328.62 376.38 329.12 376.12 328.62ZM405.12 327.62 405.38 328.12 404.62 328.88 404.38 328.38ZM377.12 327.38 377.38 327.88 376.88 328.38 376.62 327.88ZM391.88 324.88 392.12 325.38 389.12 329.38 388.88 328.88ZM382.12 320.12 382.38 320.62 377.38 327.62 377.12 327.12 380.88 321.38ZM397.12 318.12 397.12 318.88 392.12 325.12 391.88 324.62 396.12 318.88ZM415.12 314.12 415.38 314.38 411.38 320.12 405.38 327.88 405.12 327.38 410.88 319.88 413.88 315.12ZM435.62 310.88 414.12 327.88 409.12 331.38 404.12 335.88 403.62 335.62 407.88 331.62 415.38 326.12 426.62 316.88 434.62 310.88ZM520.62 288.12 497.12 291.88 482.88 295.12 457.38 302.62 446.38 306.38 436.38 310.38 435.88 310.12 437.88 308.88 450.88 304.12 479.62 295.38 495.38 291.62 511.62 288.88 516.62 288.38 515.88 288.38 515.88 287.88 518.38 288.12 517.88 287.88 518.12 287.62 519.12 287.62ZM520.12 287.62 521.62 287.38 522.62 287.88 520.62 288.12ZM522.38 287.62 522.88 287.12 524.12 287.12 524.62 287.62ZM524.38 287.38 525.38 286.88 526.62 286.88 527.12 287.38ZM554.38 285.12 537.38 286.38 529.12 287.38 526.88 287.12 528.12 286.62 550.38 284.88Z"/><path fill="#08bee9" d="M577.62 284.12 566.62 284.12 567.38 284.12 567.38 284.62 559.12 284.38 562.62 284.38 562.62 284.88 554.38 285.12 531.88 286.88 513.62 289.12 497.12 291.88 482.88 295.12 466.88 299.62 449.88 305.12 437.62 309.62 435.88 310.62 435.62 310.12 437.62 308.88 459.88 301.12 479.38 295.38 493.88 291.88 506.38 289.62 516.38 288.38 515.62 288.38 515.62 287.88 518.12 288.12 517.62 287.88 517.88 287.62 519.88 287.88 520.12 287.38 521.88 287.62 522.62 287.12 533.38 286.12 558.12 284.62 531.62 285.62 498.38 288.12 485.88 289.88 484.88 289.62 484.12 290.12 483.12 289.88 482.38 290.38 481.12 290.12 480.88 290.62 479.38 290.38 479.88 290.62 479.62 290.88 477.62 290.62 478.12 290.62 478.12 291.12 474.12 291.12 460.12 293.62 458.88 293.38 458.62 293.88 456.88 293.62 456.88 294.12 454.62 293.88 455.38 293.88 455.38 294.38 452.12 294.12 446.62 294.88 428.38 296.12 407.88 298.38 401.38 299.38 396.38 300.62 390.12 302.88 385.12 305.38 380.12 309.12 376.62 312.62 366.62 326.38 352.38 347.88 349.38 351.62 349.38 359.38 352.62 359.38 356.88 355.12 357.12 355.62 353.38 359.38 357.88 359.38 360.12 358.38 375.62 346.12 378.88 342.88 382.88 337.62 383.12 338.12 380.62 341.62 375.62 346.88 360.88 358.38 375.88 350.38 392.62 342.12 396.62 338.12 400.62 333.38 408.62 322.88 413.38 315.38 415.12 313.88 415.62 314.12 403.88 330.12 398.88 336.38 393.38 342.12 402.12 336.88 408.38 331.12 419.62 322.62 428.88 314.62 435.38 310.38 435.88 310.62 434.62 311.88 426.12 318.12 414.12 327.88 409.12 331.38 402.62 337.12 417.62 328.38 422.38 326.12 432.12 320.62 443.38 316.62 456.12 311.12 464.38 308.38 480.88 304.12 499.12 298.38 506.88 297.88 514.62 295.88 540.62 291.12 577.62 286.38ZM358.88 352.88 359.12 353.38 357.38 355.12 357.12 354.62ZM360.12 351.38 360.38 351.88 359.38 352.88 359.12 352.38ZM361.12 350.12 361.38 350.62 360.38 351.62 360.12 351.12ZM361.88 349.12 362.12 349.62 361.38 350.38 361.12 349.88ZM363.12 347.38 363.38 347.88 362.12 349.38 361.88 348.88ZM363.88 346.38 364.12 346.88 363.38 347.62 363.12 347.12ZM364.38 345.62 364.62 346.12 364.12 346.62 363.88 346.12ZM365.12 344.62 365.38 345.12 364.62 345.88 364.38 345.38ZM366.38 342.88 366.62 343.38 365.38 344.88 365.12 344.38ZM366.88 342.12 367.12 342.62 366.62 343.12 366.38 342.62ZM369.12 338.88 369.38 339.38 367.12 342.38 366.88 341.88ZM383.38 336.88 383.62 337.38 383.12 337.88 382.88 337.38ZM382.12 320.12 382.38 320.62 369.38 339.12 369.12 338.62 375.88 329.12 379.62 321.88ZM397.38 317.88 397.62 318.12 394.12 322.38 383.62 337.12 383.38 336.62 390.38 326.88 394.38 320.38 395.88 318.62Z"/><path fill="#1acfe3" d="M557.62 284.62 531.62 285.62 498.38 288.12 484.12 290.12 483.12 289.88 482.38 290.38 481.12 290.12 480.88 290.62 479.38 290.38 479.88 290.62 479.62 290.88 477.62 290.62 478.12 290.62 478.12 291.12 474.12 291.12 460.12 293.62 458.88 293.38 458.62 293.88 456.88 293.62 456.88 294.12 454.62 293.88 455.38 293.88 455.38 294.38 452.12 294.12 446.62 294.88 430.88 295.88 407.88 298.38 400.12 299.62 392.62 301.88 386.88 304.38 382.88 306.88 380.12 309.12 375.62 313.88 366.62 326.38 352.38 347.88 349.38 351.62 349.38 359.38 352.88 359.12 358.62 353.12 369.88 337.62 377.88 322.38 378.62 321.62 382.12 320.12 382.38 320.62 362.88 348.62 359.12 353.38 353.38 359.38 357.62 359.38 360.38 358.12 371.12 349.88 379.88 341.62 384.12 335.62 388.38 327.88 393.62 319.88 394.38 319.12 397.12 317.88 397.62 318.12 394.12 322.38 379.38 343.12 373.62 348.62 363.62 356.12 361.88 357.88 374.88 350.88 392.88 341.88 395.88 338.88 401.88 331.62 403.62 328.38 412.62 315.38 415.12 313.88 415.62 314.12 403.88 330.12 398.88 336.38 393.38 342.12 401.38 337.38 413.38 326.88 418.12 322.12 428.12 313.88 431.12 312.12 434.62 310.88 437.38 308.88 446.88 305.38 463.62 299.88 480.12 295.12 497.38 291.12 514.12 288.62 512.88 288.62 512.88 288.12 515.88 288.38 515.38 288.38 515.38 287.88 517.88 288.12 517.38 287.88 517.62 287.62 519.62 287.88 519.88 287.38 533.12 286.12ZM383.12 319.12 383.62 318.62 384.12 318.88 383.62 319.38ZM385.12 317.62 385.62 317.12 386.12 317.38 385.62 317.88ZM398.12 317.12 398.62 316.62 399.12 316.88 398.62 317.38ZM386.12 316.88 386.62 316.38 387.12 316.62 386.62 317.12ZM386.88 316.38 387.38 315.88 387.88 316.12 387.38 316.62ZM400.12 315.62 400.62 315.12 401.12 315.38 400.62 315.88ZM402.38 314.12 402.88 313.62 403.38 313.88 402.88 314.38ZM390.12 314.12 390.62 313.62 391.12 313.88 390.62 314.38ZM416.88 312.38 417.38 311.88 417.88 312.12 417.38 312.62ZM405.38 312.38 405.88 311.88 406.38 312.12 405.88 312.62ZM420.12 310.38 420.62 309.88 421.12 310.12 420.62 310.62ZM410.12 309.88 410.88 309.38 411.62 309.62 410.88 310.12ZM397.12 309.62 397.62 309.12 398.12 309.38 397.62 309.88ZM412.38 308.88 413.12 308.38 413.88 308.62 413.12 309.12ZM400.88 307.62 401.62 307.12 402.38 307.38 401.62 307.88ZM429.38 306.62 426.88 307.62 426.12 307.38 428.38 306.38ZM418.62 306.38 419.38 305.88 420.12 306.12 419.38 306.62ZM432.62 305.38 433.62 304.88 434.62 305.12 433.62 305.62ZM436.38 304.38 437.38 303.88 438.38 304.12 437.38 304.62ZM408.62 304.38 409.38 303.88 410.12 304.12 409.38 304.62ZM409.88 303.88 410.88 303.38 411.88 303.62 410.88 304.12ZM414.12 302.62 415.12 302.12 416.12 302.38 415.12 302.88ZM577.62 284.12 566.62 284.12 567.38 284.12 567.38 284.62 546.88 285.62 520.62 288.12 494.62 292.38 482.88 295.12 466.88 299.62 449.88 305.12 436.12 310.38 416.38 326.12 409.12 331.38 402.62 337.12 416.62 329.12 420.38 326.38 427.62 322.12 438.62 318.38 455.38 311.38 463.38 308.62 479.88 304.38 499.12 298.12 506.38 297.88 521.88 294.38 540.38 291.12 577.62 286.38Z"/><path fill="#2ddedc" d="M557.38 284.62 531.62 285.62 498.38 288.12 482.38 290.38 481.12 290.12 480.88 290.62 479.38 290.38 479.88 290.62 479.62 290.88 477.62 290.62 478.12 290.62 478.12 291.12 474.12 291.12 458.62 293.88 456.88 293.62 456.88 294.12 454.62 293.88 455.38 293.88 455.38 294.38 452.12 294.12 446.62 294.88 430.88 295.88 407.88 298.38 400.12 299.62 392.62 301.88 386.88 304.38 382.88 306.88 380.12 309.12 375.62 313.88 366.62 326.38 352.38 347.88 349.38 351.62 349.38 359.38 352.38 359.38 359.62 351.88 364.88 344.38 375.88 323.12 376.62 322.38 382.12 320.12 382.38 320.62 366.12 344.12 359.12 353.38 353.38 359.38 357.62 359.38 360.62 357.88 371.38 349.62 377.62 343.88 380.12 340.12 384.88 331.12 391.88 320.62 392.88 319.62 396.88 318.12 397.38 317.62 397.88 317.88 394.12 322.38 379.38 343.12 372.12 349.88 361.62 357.88 370.12 353.62 375.62 350.38 392.88 341.88 394.38 340.12 400.38 330.62 407.38 320.62 411.88 315.38 415.12 313.88 415.62 314.12 406.38 326.88 398.88 336.38 393.62 341.88 401.62 337.12 416.62 321.62 425.12 314.62 427.38 313.38 433.38 311.38 437.88 308.62 447.38 305.12 462.62 300.12 479.88 295.12 497.12 291.12 513.88 288.62 512.62 288.62 512.62 288.12 515.62 288.38 515.12 288.38 515.12 287.88 517.38 288.12 517.38 287.62 519.38 287.88 519.62 287.38 532.88 286.12ZM384.12 318.38 384.38 318.62 383.38 319.38 383.12 319.12ZM384.38 318.12 384.88 317.62 385.38 317.88 384.88 318.38ZM385.12 317.62 385.62 317.12 386.12 317.38 385.62 317.88ZM399.12 316.38 399.38 316.62 398.38 317.38 398.12 317.12ZM386.12 316.88 386.62 316.38 387.12 316.62 386.62 317.12ZM386.88 316.38 387.38 315.88 387.88 316.12 387.38 316.62ZM399.38 316.12 399.88 315.62 400.38 315.88 399.88 316.38ZM400.12 315.62 400.62 315.12 401.12 315.38 400.62 315.88ZM388.62 315.12 389.12 314.62 389.62 314.88 389.12 315.38ZM389.38 314.62 389.88 314.12 390.38 314.38 389.88 314.88ZM402.38 314.12 402.88 313.62 403.38 313.88 402.88 314.38ZM390.12 314.12 390.62 313.62 391.12 313.88 390.62 314.38ZM403.12 313.62 403.62 313.12 404.12 313.38 403.62 313.88ZM391.12 313.38 391.62 312.88 392.12 313.12 391.62 313.62ZM406.38 312.12 404.88 313.12 404.38 312.88 405.88 311.88ZM417.88 311.62 418.12 311.88 417.12 312.62 416.88 312.38ZM392.88 312.12 393.38 311.62 393.88 311.88 393.38 312.38ZM417.88 311.62 418.38 311.12 418.88 311.38 418.38 311.88ZM393.62 311.62 394.12 311.12 394.62 311.38 394.12 311.88ZM394.88 310.88 395.38 310.38 395.88 310.62 395.38 311.12ZM421.12 310.12 419.62 311.12 419.12 310.88 420.62 309.88ZM398.12 309.38 396.62 310.38 396.12 310.12 397.62 309.12ZM412.62 309.12 410.88 310.12 410.12 309.88 411.88 308.88ZM414.38 308.38 413.12 309.12 412.38 308.88 413.62 308.12ZM425.12 308.12 422.88 309.38 422.38 309.12 424.38 307.88ZM414.12 308.12 414.88 307.62 415.62 307.88 414.88 308.38ZM415.38 307.62 416.12 307.12 416.88 307.38 416.12 307.88ZM416.62 307.12 417.38 306.62 418.12 306.88 417.38 307.38ZM403.38 306.88 401.62 307.88 400.88 307.62 402.62 306.62ZM430.12 306.38 426.12 307.88 425.38 307.62 429.12 306.12ZM420.12 306.12 418.62 306.88 417.88 306.62 419.38 305.88ZM429.88 306.12 430.88 305.62 431.88 305.88 430.88 306.38ZM404.12 306.12 404.88 305.62 405.62 305.88 404.88 306.38ZM434.62 305.12 432.62 305.88 431.62 305.62 433.62 304.88ZM422.88 305.12 421.38 305.88 420.62 305.62 422.12 304.88ZM405.88 305.38 406.62 304.88 407.38 305.12 406.62 305.62ZM438.38 304.12 435.38 305.12 434.38 304.88 437.38 303.88ZM410.12 304.12 408.62 304.88 407.88 304.62 409.38 303.88ZM428.38 303.38 426.62 304.12 425.62 303.88 427.38 303.12ZM413.38 303.12 410.88 304.12 409.88 303.88 412.38 302.88ZM444.62 302.62 442.38 303.38 441.12 303.12 443.38 302.38ZM428.88 302.88 429.88 302.38 430.88 302.62 429.88 303.12ZM416.12 302.38 414.12 303.12 413.12 302.88 415.12 302.12ZM430.62 302.38 431.62 301.88 432.62 302.12 431.62 302.62ZM449.38 301.62 445.62 302.62 444.38 302.38 448.12 301.38ZM449.12 301.38 450.38 300.88 451.62 301.12 450.38 301.62ZM421.12 301.12 417.88 302.12 416.88 301.88 419.88 300.88ZM439.62 300.38 435.38 301.62 434.38 301.38 438.38 300.12ZM439.38 300.12 440.62 299.62 441.88 299.88 440.62 300.38ZM441.62 299.62 442.88 299.12 444.12 299.38 442.88 299.88ZM425.88 299.62 426.88 299.12 427.88 299.38 426.88 299.88ZM445.12 298.88 446.38 298.38 447.62 298.62 446.38 299.12ZM428.62 298.88 429.62 298.38 430.62 298.62 429.62 299.12ZM447.38 298.38 448.62 297.88 449.88 298.12 448.62 298.62ZM451.62 297.38 452.88 296.88 454.12 297.12 452.88 297.62ZM469.62 296.62 454.62 300.62 453.38 300.38 468.62 296.38ZM577.62 284.12 546.88 285.62 520.62 288.12 494.62 292.38 482.88 295.12 466.88 299.62 449.88 305.12 436.12 310.38 416.38 326.12 409.12 331.38 402.88 336.88 417.38 328.62 424.62 323.12 439.12 318.12 454.62 311.62 464.12 308.38 481.38 303.88 499.62 297.88 505.62 297.88 525.62 293.62 540.12 291.12 577.62 286.38Z"/><path fill="#40ecd4" d="M556.88 284.62 531.62 285.62 498.38 288.12 482.38 290.38 481.12 290.12 480.88 290.62 479.38 290.38 479.88 290.62 479.62 290.88 477.62 290.62 478.12 290.62 478.12 291.12 474.12 291.12 458.62 293.88 456.88 293.62 456.88 294.12 454.62 293.88 455.62 294.12 453.88 294.62 452.38 294.62 452.38 294.12 453.62 294.12 446.62 294.88 430.88 295.88 407.88 298.38 400.12 299.62 392.62 301.88 386.88 304.38 382.88 306.88 380.12 309.12 375.62 313.88 366.62 326.38 352.38 347.88 349.38 351.62 349.38 359.38 352.38 359.38 357.12 354.62 362.12 346.62 374.12 323.62 375.38 322.62 381.88 320.12 382.38 320.62 362.88 348.62 359.12 353.38 353.38 359.38 357.38 359.38 360.88 357.62 366.88 352.88 373.88 345.88 378.38 339.88 383.38 330.62 390.12 321.12 392.38 319.62 397.38 317.62 397.88 317.88 394.12 322.38 379.38 343.12 372.12 349.88 361.62 357.88 379.38 348.62 391.12 340.38 393.62 337.88 398.88 329.62 407.38 318.62 410.12 315.88 414.88 314.12 416.12 312.88 416.62 313.12 414.62 315.12 411.38 320.12 398.88 336.38 393.62 341.88 400.38 337.88 409.88 327.62 414.38 322.12 418.12 318.38 421.62 315.62 424.88 314.12 433.12 311.38 437.62 308.62 448.62 304.62 468.12 298.38 480.62 294.88 498.12 290.88 511.88 288.88 509.88 288.88 509.88 288.38 513.62 288.62 512.38 288.62 512.38 288.12 515.38 288.38 514.88 288.38 514.88 287.88 517.12 288.12 517.12 287.62 548.88 284.88ZM384.38 318.12 384.62 318.38 383.38 319.38 383.12 319.12ZM384.38 318.12 384.88 317.62 385.38 317.88 384.88 318.38ZM386.12 316.88 386.38 317.12 385.38 317.88 385.12 317.62ZM399.38 316.12 399.62 316.38 398.38 317.38 398.12 317.12ZM399.38 316.12 399.88 315.62 400.38 315.88 399.88 316.38ZM388.12 315.88 386.62 317.12 386.12 316.88 387.62 315.62ZM387.88 315.62 388.38 315.12 388.88 315.38 388.38 315.88ZM401.12 314.88 401.38 315.12 400.38 315.88 400.12 315.62ZM388.62 315.12 389.12 314.62 389.62 314.88 389.12 315.38ZM401.12 314.88 401.62 314.38 402.12 314.62 401.62 315.12ZM389.38 314.62 389.88 314.12 390.38 314.38 389.88 314.88ZM391.12 313.38 391.38 313.62 390.38 314.38 390.12 314.12ZM404.12 313.38 402.38 314.62 401.88 314.38 403.62 313.12ZM391.12 313.38 391.62 312.88 392.12 313.12 391.62 313.62ZM392.12 312.62 392.62 312.12 393.12 312.38 392.62 312.88ZM406.38 312.12 404.38 313.38 403.88 313.12 405.88 311.88ZM417.88 311.62 418.12 311.88 417.12 312.62 416.88 312.38ZM392.88 312.12 393.38 311.62 393.88 311.88 393.38 312.38ZM417.88 311.62 418.38 311.12 418.88 311.38 418.38 311.88ZM393.62 311.62 394.12 311.12 394.62 311.38 394.12 311.88ZM395.88 310.62 394.88 311.38 394.38 311.12 395.38 310.38ZM421.12 310.12 419.12 311.38 418.62 311.12 420.62 309.88ZM410.38 310.12 407.12 311.88 406.62 311.62 409.62 309.88ZM398.12 309.38 396.12 310.62 395.62 310.38 397.62 309.12ZM398.88 308.62 399.88 307.88 400.62 308.12 399.38 308.88ZM425.62 307.88 421.88 309.88 421.38 309.62 424.88 307.62ZM404.38 306.38 401.62 307.88 400.88 307.62 403.62 306.12ZM406.12 305.62 404.88 306.38 404.12 306.12 405.38 305.38ZM422.88 305.12 414.38 308.38 410.88 310.12 410.12 309.88 422.12 304.88ZM405.88 305.38 406.62 304.88 407.38 305.12 406.62 305.62ZM410.12 304.12 407.88 305.12 407.12 304.88 409.38 303.88ZM429.12 303.12 426.62 304.12 425.62 303.88 428.12 302.88ZM432.62 302.12 429.88 303.12 428.88 302.88 431.62 301.88ZM453.62 300.62 438.38 304.12 430.12 306.38 426.12 307.88 425.38 307.62 429.88 305.88 442.12 302.62 447.88 301.62 452.38 300.38ZM427.88 299.38 413.38 303.12 410.88 304.12 409.88 303.88 414.88 302.12 426.88 299.12ZM451.88 297.62 433.38 302.12 432.38 301.88 439.38 299.88 450.62 297.38ZM438.62 296.88 428.62 299.38 427.62 299.12 433.38 297.38 437.12 296.62ZM469.62 296.62 454.62 300.62 453.38 300.38 468.62 296.38ZM458.12 296.12 452.88 297.62 451.62 297.38 456.88 295.88ZM444.62 295.88 439.88 296.88 438.38 296.62 442.88 295.62ZM462.88 294.88 460.88 295.62 459.88 295.38 461.88 294.62ZM450.88 294.88 447.62 295.62 445.88 295.38 449.12 294.62ZM481.38 293.62 479.38 294.38 478.38 294.12 480.38 293.38ZM482.12 293.12 483.12 292.62 484.12 292.88 483.12 293.38ZM467.88 293.12 468.88 292.62 469.88 292.88 468.88 293.38ZM484.88 292.38 485.88 291.88 486.88 292.12 485.88 292.62ZM488.62 291.38 489.88 290.88 491.12 291.12 489.88 291.62ZM492.12 290.62 493.62 290.12 495.38 290.38 493.62 290.88ZM496.88 289.88 499.12 289.38 501.62 289.62 499.12 290.12ZM577.62 284.12 546.88 285.62 520.62 288.12 494.62 292.38 482.88 295.12 466.88 299.62 449.88 305.12 436.12 310.38 416.38 326.12 409.12 331.38 402.88 336.88 416.88 328.88 424.88 322.88 439.62 317.88 453.88 311.88 463.12 308.62 480.38 304.12 499.12 297.88 506.88 297.62 524.12 293.88 538.38 291.38 577.62 286.38Z"/><path fill="#52f5cb" d="M556.62 284.62 531.62 285.62 503.62 287.62 489.62 289.12 482.38 290.38 481.12 290.12 480.88 290.62 479.38 290.38 479.88 290.62 479.62 290.88 477.62 290.62 478.12 290.62 478.12 291.12 475.88 290.88 458.62 293.88 456.88 293.62 456.88 294.12 433.62 297.88 413.38 303.12 407.38 305.12 401.12 307.88 395.88 310.62 393.38 312.38 392.88 312.12 393.62 311.38 397.88 308.88 405.88 305.12 411.38 303.12 434.38 297.12 453.62 294.12 430.88 295.88 407.88 298.38 400.12 299.62 392.62 301.88 386.88 304.38 382.88 306.88 380.12 309.12 375.62 313.88 366.62 326.38 352.38 347.88 349.38 351.62 349.38 359.38 351.62 359.38 358.62 349.88 372.38 324.12 374.88 322.62 380.88 320.62 382.12 319.88 382.62 320.12 362.88 348.62 359.12 353.38 353.38 359.38 357.38 359.38 360.12 357.88 372.12 345.62 378.38 336.88 382.88 328.38 387.12 322.62 388.88 320.88 395.88 318.38 397.62 317.38 398.12 317.62 394.12 322.38 379.38 343.12 372.12 349.88 361.62 357.88 374.12 351.38 382.88 345.12 393.12 335.38 399.62 325.38 406.88 317.12 414.62 314.12 416.62 312.38 417.12 312.62 414.62 315.12 411.38 320.12 402.12 332.38 397.12 338.38 393.62 341.88 400.38 337.88 405.62 331.12 411.12 324.88 414.38 320.38 418.12 316.62 433.62 311.12 438.12 308.38 449.88 304.12 469.62 297.88 489.38 292.62 500.62 290.38 511.62 288.88 497.12 290.12 489.88 291.62 488.88 291.62 488.88 291.12 493.38 290.12 529.38 286.38 548.62 284.88ZM384.38 318.12 384.62 318.38 383.38 319.38 383.12 319.12ZM399.38 316.12 399.62 316.38 398.38 317.38 398.12 317.12ZM388.12 315.88 384.88 318.38 384.38 318.12 387.62 315.62ZM387.88 315.62 388.38 315.12 388.88 315.38 388.38 315.88ZM401.38 315.12 399.88 316.38 399.38 316.12 400.88 314.88ZM401.12 314.88 401.62 314.38 402.12 314.62 401.62 315.12ZM391.38 313.62 389.12 315.38 388.62 315.12 390.88 313.38ZM404.12 313.38 402.38 314.62 401.88 314.38 403.62 313.12ZM392.12 312.62 392.38 312.88 391.38 313.62 391.12 313.38ZM392.12 312.62 392.62 312.12 393.12 312.38 392.62 312.88ZM462.88 294.88 452.88 297.62 439.62 300.38 425.88 304.12 414.38 308.38 404.38 313.38 403.88 313.12 406.12 311.62 412.88 308.38 426.38 303.38 438.12 300.12 449.38 297.88 461.88 294.62ZM462.62 294.62 463.62 294.12 464.62 294.38 463.62 294.88ZM464.38 294.12 465.38 293.62 466.38 293.88 465.38 294.38ZM466.12 293.62 467.12 293.12 468.12 293.38 467.12 293.88ZM467.88 293.12 468.88 292.62 469.88 292.88 468.88 293.38ZM469.62 292.62 470.62 292.12 471.62 292.38 470.62 292.88ZM486.88 292.12 468.62 297.12 450.38 301.62 441.38 303.38 430.12 306.38 425.62 307.88 418.88 311.38 417.38 312.62 416.88 312.38 417.88 311.38 425.38 307.38 428.88 306.12 443.12 302.38 451.12 300.88 480.12 293.62 485.88 291.88ZM577.62 284.12 546.88 285.62 520.62 288.12 494.62 292.38 482.88 295.12 466.88 299.62 449.88 305.12 436.12 310.38 416.38 326.12 409.12 331.38 402.88 336.88 416.38 329.12 425.12 322.62 440.88 317.38 455.12 311.38 463.88 308.38 481.88 303.62 498.88 297.88 506.62 297.62 522.62 294.12 538.12 291.38 577.62 286.38Z"/><path fill="#64fbc3" d="M511.38 288.88 501.62 289.62 491.12 291.12 454.62 300.62 438.38 304.12 425.62 307.88 418.88 311.38 414.62 315.12 411.38 320.12 402.12 332.38 397.12 338.38 393.62 341.88 398.88 338.88 401.12 336.88 409.88 325.62 414.62 318.62 416.62 316.88 433.38 311.12 437.38 308.62 446.12 305.38 471.12 297.38 491.38 292.12 504.88 289.62ZM551.88 284.88 531.62 285.62 498.38 288.12 482.62 290.12 479.62 290.88 477.62 290.62 478.12 290.62 478.12 291.12 475.62 291.62 474.38 291.38 475.38 291.12 474.12 291.12 433.62 297.88 413.38 303.12 404.38 306.38 394.62 311.38 383.62 319.38 383.12 319.12 384.38 317.88 394.38 310.88 402.38 306.62 407.62 304.38 412.88 302.62 427.38 299.12 433.12 297.38 451.62 294.38 430.88 295.88 407.88 298.38 400.12 299.62 392.62 301.88 386.88 304.38 382.88 306.88 380.12 309.12 375.62 313.88 366.62 326.38 352.38 347.88 349.38 351.62 349.38 359.38 349.88 359.38 352.88 355.88 358.88 346.88 370.38 324.88 372.62 323.38 381.38 320.38 382.88 319.12 383.38 319.38 381.62 321.38 362.88 348.62 359.12 353.38 353.38 359.38 356.88 359.38 358.12 358.12 359.62 357.38 363.88 353.12 371.38 344.38 376.88 336.38 381.88 326.88 384.12 323.62 385.62 322.12 397.62 317.38 398.12 317.62 394.12 322.38 382.12 339.62 379.38 343.12 375.62 346.88 361.62 357.88 374.88 350.88 380.38 346.12 390.88 335.12 393.62 331.38 397.62 324.62 403.12 318.38 415.12 313.88 418.62 310.88 425.88 307.12 436.88 303.88 454.12 300.12 493.38 290.12 531.88 286.12ZM471.62 292.38 461.88 295.38 448.62 298.62 439.62 300.38 422.88 305.12 410.38 310.12 404.12 313.38 398.62 317.38 398.12 317.12 399.38 315.88 405.12 312.12 413.38 308.12 420.38 305.38 433.12 301.38 456.62 296.12 470.62 292.12ZM474.62 291.62 472.38 292.38 471.38 292.12 473.38 291.38ZM577.62 284.12 546.88 285.62 520.62 288.12 494.62 292.38 482.88 295.12 466.88 299.62 449.88 305.12 436.12 310.38 416.38 326.12 409.12 331.38 402.88 336.88 415.88 329.38 424.88 322.62 441.38 317.12 455.62 311.12 462.88 308.62 482.62 303.38 499.38 297.62 506.38 297.62 519.88 294.62 537.88 291.38 567.62 287.38 577.62 286.38Z"/><path fill="#76ffb9" d="M451.62 294.38 430.88 295.88 404.38 298.88 398.12 300.12 392.62 301.88 385.12 305.38 380.12 309.12 375.62 313.88 366.62 326.38 352.38 347.88 349.38 351.62 349.38 358.38 352.12 354.88 358.38 345.12 367.62 327.12 369.38 324.62 377.62 321.38 381.88 320.12 383.38 318.62 393.88 311.12 402.88 306.38 408.88 303.88 434.12 297.12ZM475.38 291.12 433.62 297.88 410.12 304.12 404.38 306.38 395.88 310.62 384.62 318.38 382.38 320.38 362.88 348.62 359.12 353.38 353.38 359.38 356.62 359.38 360.12 356.12 365.12 350.38 374.12 338.12 381.38 325.12 384.12 322.38 397.38 317.62 400.38 315.12 404.62 312.38 412.12 308.62 422.38 304.62 434.88 300.88 453.38 296.88 471.38 291.88ZM509.38 289.12 497.12 290.12 488.88 291.62 480.38 294.12 454.62 300.62 438.38 304.12 425.62 307.88 418.88 311.38 414.62 315.12 411.38 320.12 402.12 332.38 397.12 338.38 393.62 341.88 400.12 337.88 407.12 329.12 415.12 317.88 417.38 316.38 433.88 310.88 437.12 308.62 446.62 305.12 468.38 298.12 491.12 292.12 506.12 289.38ZM551.62 284.88 536.12 285.38 512.88 286.88 498.38 288.12 482.62 290.12 474.62 291.62 461.88 295.38 432.62 302.12 418.12 306.88 406.38 312.12 398.38 317.38 394.12 322.38 379.38 343.12 372.12 349.88 361.62 357.88 374.38 351.12 377.88 348.12 387.38 337.12 392.88 329.38 396.38 323.12 399.38 320.12 402.62 318.12 414.88 313.88 419.38 310.38 427.12 306.62 443.88 302.12 450.88 300.88 493.12 290.12 531.62 286.12ZM577.62 284.12 546.88 285.62 520.62 288.12 494.62 292.38 482.88 295.12 466.88 299.62 449.88 305.12 436.12 310.38 416.38 326.12 409.12 331.38 403.12 336.62 415.38 329.62 423.38 323.38 425.38 322.38 442.62 316.62 456.88 310.62 469.62 306.62 481.62 303.62 499.12 297.62 506.38 297.62 512.38 296.12 536.12 291.62 555.62 288.88 577.38 286.38Z"/><path fill="#88ffaf" d="M451.38 294.38 430.88 295.88 407.88 298.38 400.12 299.62 392.62 301.88 385.12 305.38 380.12 309.12 375.62 313.88 367.62 325.12 382.12 319.88 385.62 316.88 394.62 310.62 400.62 307.38 408.12 304.12 415.38 301.88 427.12 299.12 432.88 297.38ZM475.12 291.12 433.62 297.88 410.12 304.12 404.38 306.38 395.88 310.62 384.62 318.38 382.38 320.38 362.88 348.62 359.12 353.38 353.38 359.38 356.38 359.38 359.88 355.88 373.88 336.38 381.62 324.62 383.88 322.38 397.12 317.62 401.38 314.38 406.38 311.38 412.62 308.38 420.88 305.12 432.88 301.38 456.38 296.12 470.38 292.12ZM509.12 289.12 497.12 290.12 488.88 291.62 480.38 294.12 454.62 300.62 438.38 304.12 425.62 307.88 418.88 311.38 414.62 315.12 411.38 320.12 402.12 332.38 397.12 338.38 393.88 341.62 398.38 339.12 400.62 337.12 410.38 324.62 414.12 318.88 416.12 316.88 433.62 310.88 437.62 308.38 447.88 304.62 469.88 297.62 490.88 292.12 505.88 289.38ZM551.38 284.88 536.12 285.38 512.88 286.88 498.38 288.12 482.62 290.12 474.62 291.62 461.88 295.38 432.62 302.12 418.12 306.88 406.38 312.12 398.38 317.38 394.12 322.38 379.38 343.12 372.12 349.88 361.88 357.62 373.88 351.38 379.88 345.88 392.38 328.12 396.38 322.88 399.12 320.12 402.88 317.88 415.38 313.62 418.88 310.62 426.38 306.88 436.62 303.88 453.88 300.12 491.62 290.38 500.62 289.12 511.12 288.38 525.88 286.62 543.88 285.12ZM577.62 284.12 546.88 285.62 520.62 288.12 494.62 292.38 482.88 295.12 466.88 299.62 449.88 305.12 436.12 310.38 416.38 326.12 409.12 331.38 403.12 336.62 414.88 329.88 422.88 323.62 425.12 322.38 443.12 316.38 458.12 310.12 470.38 306.38 480.62 303.88 498.88 297.62 506.12 297.62 523.38 293.88 539.12 291.12 577.12 286.38 577.62 286.12Z"/><path fill="#9bfba5" d="M451.38 294.38 430.88 295.88 407.88 298.38 400.12 299.62 392.62 301.88 385.12 305.38 380.12 309.12 375.62 313.88 367.88 324.88 382.38 319.62 384.88 317.38 395.38 310.12 407.38 304.38 416.12 301.62 425.12 299.62 433.88 297.12ZM475.12 291.12 433.62 297.88 410.12 304.12 404.38 306.38 395.88 310.62 384.62 318.38 382.38 320.38 362.88 348.62 359.12 353.38 353.38 359.38 356.38 359.38 359.88 355.62 375.12 334.38 381.12 325.12 384.38 321.88 397.62 317.38 399.88 315.38 405.88 311.62 413.12 308.12 420.12 305.38 434.62 300.88 453.12 296.88 463.12 294.38 472.12 291.62ZM508.62 289.12 497.12 290.12 488.88 291.62 480.38 294.12 454.62 300.62 438.38 304.12 425.62 307.88 418.88 311.38 414.62 315.12 411.38 320.12 402.12 332.38 397.12 338.38 393.88 341.62 399.38 338.38 407.62 328.12 414.38 318.38 415.88 316.88 417.38 316.12 434.12 310.62 437.38 308.38 444.88 305.62 468.88 297.88 490.62 292.12 502.38 289.88ZM550.88 284.88 536.12 285.38 512.88 286.88 498.38 288.12 482.62 290.12 474.62 291.62 461.88 295.38 432.62 302.12 418.12 306.88 406.38 312.12 398.38 317.38 394.12 322.38 379.38 343.12 372.12 349.88 361.88 357.62 373.38 351.62 380.12 345.38 393.12 326.88 396.62 322.38 398.88 320.12 403.12 317.62 415.38 313.62 418.88 310.62 425.62 307.12 434.62 304.38 445.88 301.62 451.62 300.62 492.88 290.12 531.12 286.12ZM577.62 284.12 546.88 285.62 520.62 288.12 494.62 292.38 482.88 295.12 466.88 299.62 449.88 305.12 436.12 310.38 416.38 326.12 409.12 331.38 403.12 336.62 413.88 330.38 422.62 323.62 424.88 322.38 443.62 316.12 457.38 310.38 469.38 306.62 479.62 304.12 499.38 297.38 507.38 297.38 520.62 294.38 538.88 291.12 577.62 286.12Z"/><path fill="#acf59a" d="M451.12 294.38 430.88 295.88 407.88 298.38 400.12 299.62 392.62 301.88 385.12 305.38 380.12 309.12 375.62 313.88 367.88 324.62 382.62 319.38 385.88 316.62 396.62 309.38 408.62 303.88 432.62 297.38 443.38 295.38ZM475.12 291.12 433.62 297.88 410.12 304.12 404.38 306.38 395.88 310.62 384.62 318.38 382.38 320.38 362.88 348.62 359.12 353.38 353.38 359.38 356.12 359.38 360.12 355.12 365.88 347.38 383.12 322.38 385.88 321.12 397.38 317.38 404.88 312.12 413.62 307.88 421.38 304.88 432.62 301.38 455.12 296.38 471.12 291.88ZM506.62 289.38 497.12 290.12 488.88 291.62 480.38 294.12 454.62 300.62 438.38 304.12 425.62 307.88 418.88 311.38 414.62 315.12 411.38 320.12 402.12 332.38 397.12 338.38 393.88 341.62 398.62 338.88 400.12 337.38 410.62 323.88 414.62 317.88 416.38 316.38 434.38 310.38 437.88 308.12 445.38 305.38 470.38 297.38 493.88 291.38ZM550.62 284.88 536.12 285.38 509.62 287.12 482.62 290.12 474.62 291.62 461.88 295.38 432.62 302.12 418.12 306.88 406.38 312.12 398.38 317.38 394.12 322.38 379.38 343.12 372.12 349.88 361.88 357.62 372.88 351.88 380.38 344.88 393.88 325.62 396.88 321.88 400.38 318.62 415.62 313.38 418.38 310.88 426.88 306.62 436.38 303.88 453.62 300.12 492.62 290.12 530.88 286.12ZM577.62 284.12 546.88 285.62 520.62 288.12 494.62 292.38 482.88 295.12 466.88 299.62 449.88 305.12 436.12 310.38 416.38 326.12 409.12 331.38 403.12 336.62 414.12 330.12 423.38 322.88 445.38 315.38 458.62 309.88 470.12 306.38 477.62 304.62 499.12 297.38 507.12 297.38 511.88 296.12 537.12 291.38 570.62 286.88 577.62 286.12Z"/><path fill="#c0eb8d" d="M450.88 294.38 430.88 295.88 407.88 298.38 400.12 299.62 392.62 301.88 385.12 305.38 380.12 309.12 375.62 313.88 367.88 324.62 378.12 319.88 382.38 318.38 386.38 315.38 394.12 310.62 399.88 307.62 407.88 304.12 416.88 301.38 425.88 299.38 433.62 297.12ZM474.88 291.12 433.62 297.88 410.12 304.12 404.38 306.38 395.88 310.62 384.62 318.38 382.38 320.38 362.88 348.62 359.12 353.38 353.38 359.38 355.88 359.38 360.12 354.88 375.12 333.88 382.88 322.12 397.88 316.62 400.88 314.38 407.12 310.88 420.62 305.12 434.38 300.88 452.88 296.88ZM506.38 289.38 497.12 290.12 488.88 291.62 480.38 294.12 454.62 300.62 438.38 304.12 425.62 307.88 418.88 311.38 414.62 315.12 411.38 320.12 402.12 332.38 397.12 338.38 393.88 341.62 398.12 339.12 400.62 336.62 409.38 325.38 414.62 317.88 414.62 317.38 415.88 316.38 425.38 312.88 434.38 310.12 437.12 308.38 446.62 304.88 469.38 297.62 489.12 292.38 500.38 290.12ZM550.38 284.88 536.12 285.38 509.62 287.12 482.62 290.12 474.62 291.62 461.88 295.38 432.62 302.12 418.12 306.88 406.38 312.12 398.38 317.38 394.12 322.38 379.38 343.12 372.12 349.88 361.88 357.62 371.88 352.38 378.88 346.38 393.12 326.38 399.62 318.62 411.12 314.38 415.62 313.12 419.12 310.38 426.12 306.88 435.38 304.12 445.62 301.62 451.38 300.62 492.62 290.12 525.12 286.62 542.88 285.12ZM577.62 284.12 546.88 285.62 520.62 288.12 494.62 292.38 482.88 295.12 466.88 299.62 449.88 305.12 436.12 310.38 416.38 326.12 409.12 331.38 403.12 336.62 413.88 330.12 421.12 324.62 422.38 323.12 436.38 317.62 445.62 314.62 460.12 308.88 477.38 304.12 499.38 296.88 507.62 297.12 536.88 291.38 577.62 286.12Z"/><path fill="#d2de81" d="M449.12 294.62 430.88 295.88 407.88 298.38 400.12 299.62 392.62 301.88 385.12 305.38 380.12 309.12 375.62 313.88 367.88 324.62 375.38 320.38 382.62 317.12 385.12 315.12 393.38 310.12 398.38 307.62 404.62 305.12 414.88 301.88 427.62 298.88 432.38 297.38ZM473.62 291.38 433.62 297.88 410.12 304.12 404.38 306.38 395.88 310.62 384.62 318.38 382.38 320.38 362.88 348.62 359.12 353.38 353.38 359.38 355.62 359.38 356.38 358.88 360.12 354.62 375.12 333.62 381.88 323.62 381.62 322.88 382.38 322.12 398.12 315.88 402.38 312.88 409.38 309.38 422.62 304.38 433.38 301.12 454.88 296.38ZM506.12 289.38 497.12 290.12 488.88 291.62 480.38 294.12 454.62 300.62 438.38 304.12 425.62 307.88 418.88 311.38 414.62 315.12 411.38 320.12 402.12 332.38 397.12 338.38 393.88 341.62 398.12 339.12 399.38 337.88 411.38 322.38 414.38 317.88 413.88 317.38 415.88 316.12 424.12 312.88 435.88 309.12 438.88 307.62 447.88 304.38 470.88 297.12 491.12 291.88ZM546.12 285.12 536.12 285.38 509.62 287.12 491.62 288.88 481.12 290.38 471.62 292.38 461.88 295.38 432.62 302.12 418.12 306.88 406.38 312.12 398.38 317.38 394.12 322.38 379.38 343.12 372.12 349.88 361.88 357.62 371.38 352.62 378.88 346.12 393.12 326.12 398.38 319.88 397.62 319.62 398.12 319.12 407.88 315.12 415.62 312.62 418.12 310.62 425.38 307.12 436.12 303.88 453.38 300.12 492.38 290.12 524.88 286.62ZM577.62 284.12 546.88 285.62 520.62 288.12 494.62 292.38 471.88 298.12 449.88 305.12 436.12 310.38 416.38 326.12 409.12 331.38 403.38 336.38 414.38 329.62 420.88 324.62 420.88 323.62 435.88 317.12 445.12 314.12 460.38 308.12 477.62 303.38 498.38 296.62 508.38 296.38 539.88 290.88 577.62 286.12Z"/><path fill="#e4cf74" d="M449.12 294.62 430.88 295.88 407.88 298.38 400.12 299.62 392.62 301.88 385.12 305.38 380.12 309.12 375.62 313.88 368.12 324.38 377.12 318.62 382.62 316.12 384.62 314.38 393.88 308.88 401.88 305.38 408.62 303.12 422.62 300.12 433.38 297.12ZM473.62 291.38 433.62 297.88 410.12 304.12 404.38 306.38 395.88 310.62 384.62 318.38 382.38 320.38 362.88 348.62 359.12 353.38 353.38 359.38 355.62 359.38 360.88 353.38 381.62 323.62 380.88 323.12 382.88 321.62 394.12 316.62 397.88 315.38 403.12 311.88 407.62 309.62 415.12 306.62 435.12 300.62 451.62 297.12ZM505.88 289.38 497.12 290.12 488.88 291.62 480.38 294.12 454.62 300.62 438.38 304.12 425.62 307.88 418.88 311.38 414.62 315.12 411.38 320.12 402.12 332.38 394.12 341.38 397.62 339.38 399.88 337.12 410.88 322.88 414.12 317.88 413.38 317.62 417.38 315.12 424.88 312.12 442.12 306.62 444.88 305.38 469.88 297.38 490.88 291.88ZM545.62 285.12 536.12 285.38 509.62 287.12 491.62 288.88 481.12 290.38 471.62 292.38 461.88 295.38 432.62 302.12 418.12 306.88 406.38 312.12 398.38 317.38 394.12 322.38 379.38 343.12 372.12 349.88 362.12 357.38 371.88 352.12 378.62 346.12 382.38 341.38 392.38 326.88 397.88 320.12 396.88 319.88 397.62 319.12 408.12 314.62 415.62 312.12 417.88 310.38 425.88 306.62 436.62 303.62 451.12 300.62 493.62 289.88 524.62 286.62ZM577.62 284.12 546.88 285.62 520.62 288.12 494.62 292.38 471.88 298.12 449.88 305.12 436.12 310.38 416.38 326.12 409.12 331.38 403.38 336.38 410.62 332.12 419.62 325.38 420.38 324.62 419.38 324.38 421.38 323.12 436.62 316.12 445.12 313.38 458.38 308.12 467.12 305.38 478.62 302.38 499.38 295.88 507.38 295.88 529.88 292.12 577.62 286.12Z"/><path fill="#f6be68" d="M448.88 294.62 430.88 295.88 407.88 298.38 400.12 299.62 392.62 301.88 385.12 305.38 380.12 309.12 375.62 313.88 368.12 324.38 376.62 318.12 382.38 315.12 388.62 310.88 396.12 306.88 400.38 305.12 412.12 301.62 425.62 299.12 436.88 296.38ZM473.62 291.38 433.62 297.88 410.12 304.12 404.38 306.38 395.88 310.62 384.62 318.38 382.38 320.38 362.88 348.62 359.12 353.38 353.38 359.38 355.12 359.38 360.88 353.12 379.88 326.12 381.38 323.62 380.88 323.62 380.62 323.12 383.38 321.12 397.38 314.88 401.62 312.12 408.12 308.88 421.38 304.12 435.12 300.38 450.38 297.38ZM505.62 289.38 497.12 290.12 488.88 291.62 480.38 294.12 454.62 300.62 438.38 304.12 425.62 307.88 418.88 311.38 414.62 315.12 411.38 320.12 402.12 332.38 394.12 341.38 397.62 339.38 401.38 335.12 410.88 322.62 413.88 318.12 412.88 317.88 415.38 315.88 419.38 313.88 430.12 309.88 474.12 296.12 491.88 291.62ZM545.38 285.12 531.62 285.62 509.62 287.12 491.62 288.88 481.12 290.38 471.62 292.38 461.88 295.38 432.62 302.12 418.12 306.88 406.38 312.12 398.38 317.38 394.12 322.38 379.38 343.12 372.12 349.88 362.12 357.38 369.88 353.38 374.12 350.12 378.12 346.38 381.62 342.12 392.38 326.62 397.38 320.38 396.38 320.12 397.38 319.12 405.88 315.12 415.62 311.62 417.62 310.12 425.12 306.62 436.38 303.38 460.12 298.38 492.12 290.12 524.38 286.62ZM577.62 284.12 546.88 285.62 520.62 288.12 494.62 292.38 471.88 298.12 449.88 305.12 436.12 310.38 416.38 326.12 409.12 331.38 403.38 336.38 408.88 333.12 414.88 328.88 419.88 324.88 418.62 324.62 419.62 323.88 436.12 315.62 445.88 312.38 457.88 307.62 467.38 304.62 477.12 302.12 499.12 295.38 508.12 295.12 514.12 293.88 531.12 291.38 553.88 289.12 577.62 286.12Z"/><path fill="#ffa95b" d="M448.88 294.62 430.88 295.88 407.88 298.38 400.12 299.62 392.62 301.88 385.12 305.38 380.12 309.12 375.62 313.88 368.62 323.88 376.88 317.12 382.62 313.88 386.38 311.12 393.62 307.12 398.88 304.88 404.88 302.88 412.88 300.88 422.12 299.38 433.62 296.88ZM473.38 291.38 433.62 297.88 410.12 304.12 404.38 306.38 395.88 310.62 384.62 318.38 382.38 320.38 362.88 348.62 359.12 353.38 353.38 359.38 354.88 359.38 360.62 353.12 381.12 323.88 380.38 323.38 383.38 320.88 394.88 315.12 398.12 313.88 400.62 312.12 406.88 308.88 418.38 304.62 433.38 300.38 454.38 296.38ZM503.62 289.62 497.12 290.12 488.88 291.62 480.38 294.12 454.62 300.62 438.38 304.12 425.62 307.88 418.88 311.38 414.62 315.12 411.38 320.12 402.12 332.38 394.12 341.38 397.12 339.62 402.38 333.62 410.88 322.38 413.62 318.12 412.88 317.88 414.38 316.38 419.12 313.62 427.88 310.12 472.12 296.62 489.38 292.12ZM545.12 285.12 531.62 285.62 509.62 287.12 491.62 288.88 481.12 290.38 471.62 292.38 461.88 295.38 432.62 302.12 418.12 306.88 406.38 312.12 398.38 317.38 394.12 322.38 379.38 343.12 372.12 349.88 362.12 357.38 369.62 353.38 374.38 349.62 379.88 344.12 392.88 325.62 397.12 320.38 396.12 320.12 396.88 319.38 403.88 315.62 415.62 311.12 417.38 309.88 425.62 306.12 436.12 303.12 454.38 299.38 493.38 289.88 524.12 286.62ZM577.62 284.12 546.88 285.62 520.62 288.12 494.62 292.38 471.88 298.12 449.88 305.12 436.12 310.38 416.38 326.12 409.12 331.38 403.38 336.38 408.38 333.38 419.12 325.38 419.38 324.88 418.12 324.88 418.62 324.38 434.88 315.62 456.62 307.38 467.62 303.88 477.38 301.38 499.12 294.88 506.62 294.62 521.38 292.12 536.62 290.12 565.12 287.62 577.62 286.12Z"/><path fill="#ff934d" d="M418.88 325.12 417.38 325.12 417.38 325.62 416.12 326.12 409.12 331.38 403.62 336.12 407.88 333.62ZM396.62 320.62 395.62 320.62 394.12 322.38 379.38 343.12 372.12 349.88 362.12 357.38 367.88 354.38 374.62 349.12 379.62 344.12 392.12 326.38ZM413.38 318.38 412.38 318.38 402.12 332.38 394.12 341.38 396.62 339.88 398.88 337.62 405.62 329.12ZM448.62 294.62 430.88 295.88 407.88 298.38 400.12 299.62 392.62 301.88 385.12 305.38 380.12 309.12 375.62 313.88 368.62 323.62 377.12 316.12 385.88 310.38 394.88 305.62 398.62 304.12 405.88 301.88 413.88 300.12 423.62 298.62 433.12 296.62ZM473.38 291.38 433.62 297.88 410.12 304.12 404.38 306.38 395.88 310.62 384.62 318.38 382.38 320.38 380.62 322.88 380.62 323.62 379.62 324.38 362.88 348.62 359.12 353.38 353.38 359.38 354.62 359.38 361.38 351.88 380.62 324.38 380.62 322.88 383.38 320.62 397.88 313.38 404.12 309.62 415.38 305.12 433.88 299.88 459.12 295.12ZM503.38 289.62 497.12 290.12 488.88 291.62 468.62 297.12 450.38 301.62 441.38 303.38 430.12 306.38 425.62 307.88 418.88 311.38 414.62 315.12 412.88 317.62 417.38 314.12 425.12 310.62 438.38 306.38 455.12 301.88 469.38 297.38 483.12 293.62 496.38 290.62ZM544.88 285.12 531.62 285.62 503.62 287.62 489.62 289.12 474.62 291.62 461.88 295.38 432.62 302.12 422.88 305.12 414.38 308.38 406.38 312.12 399.62 316.38 396.12 319.88 398.88 317.88 405.88 314.38 415.12 310.88 424.12 306.38 431.12 304.12 440.12 301.88 452.88 299.38 472.62 294.38 494.88 289.62 532.12 285.88ZM577.62 284.12 554.38 285.12 524.62 287.62 502.62 290.88 482.88 295.12 457.38 302.62 437.62 309.62 436.12 310.38 417.88 324.88 437.62 313.62 462.12 304.88 499.12 294.38 507.88 293.88 515.62 292.38 533.88 289.88 577.12 286.12 577.62 285.88Z"/><path fill="#ff7b40" d="M418.38 325.38 416.12 326.12 409.12 331.38 403.62 336.12 406.62 334.38ZM380.62 323.88 379.62 324.38 361.38 350.62 353.38 359.38 354.38 359.38 360.38 352.88 374.12 333.62ZM396.38 320.62 395.38 320.88 379.38 343.12 372.12 349.88 362.12 357.38 366.38 355.12 370.62 352.12 375.12 348.38 379.38 344.12 392.62 325.38ZM413.12 318.38 412.38 318.38 402.12 332.38 394.38 341.12 395.88 340.38 400.12 335.88ZM446.38 294.88 430.88 295.88 407.88 298.38 400.12 299.62 392.62 301.88 385.12 305.38 380.12 309.12 376.62 312.62 369.12 322.88 376.12 316.12 379.38 313.62 388.88 307.62 397.62 303.62 407.12 300.88 434.38 296.12ZM473.38 291.38 433.62 297.88 410.12 304.12 401.12 307.88 394.62 311.38 383.38 319.38 380.62 322.88 383.38 320.38 392.62 315.12 398.12 312.62 401.12 310.62 406.12 308.12 410.38 306.38 419.62 303.38 434.38 299.38 462.62 294.12ZM503.12 289.62 497.12 290.12 488.88 291.62 468.62 297.12 450.38 301.62 441.38 303.38 430.12 306.38 425.62 307.88 418.88 311.38 414.62 315.12 412.88 317.62 415.12 315.38 418.12 313.38 424.62 310.38 429.62 308.62 484.88 293.12 496.12 290.62ZM544.62 285.12 531.62 285.62 503.62 287.62 489.62 289.12 474.62 291.62 461.88 295.38 432.62 302.12 422.88 305.12 414.38 308.38 406.38 312.12 399.62 316.38 396.12 319.88 399.38 317.38 405.62 314.12 415.12 310.38 418.62 308.38 424.62 305.88 439.88 301.62 453.62 298.88 475.12 293.38 488.12 290.62 496.12 289.38 531.88 285.88ZM577.62 284.12 554.38 285.12 524.62 287.62 502.62 290.88 482.88 295.12 457.38 302.62 437.62 309.62 436.12 310.38 417.88 324.88 437.12 313.12 461.62 304.38 496.88 294.38 500.88 293.62 508.38 293.12 521.38 290.88 537.88 288.88 577.62 285.62Z"/><path fill="#ff5f30" d="M417.88 325.62 416.12 326.12 407.88 332.38 404.38 335.62ZM380.38 323.88 379.62 324.38 361.38 350.62 353.38 359.38 354.12 359.38 356.62 356.88 361.88 350.62ZM395.88 320.88 395.38 320.88 379.38 343.12 373.62 348.62 362.88 356.88 365.38 355.62 370.88 351.62 379.12 344.12ZM412.62 318.62 411.88 319.12 400.12 334.88 394.38 341.12 396.12 340.12 399.88 335.88 408.38 324.88ZM442.38 295.12 430.88 295.88 407.88 298.38 400.12 299.62 392.62 301.88 385.12 305.38 380.12 309.12 376.62 312.62 369.88 321.88 376.62 314.88 380.12 312.12 387.38 307.38 396.62 303.12 400.38 301.88 410.12 299.62 434.12 295.88ZM472.12 291.62 433.62 297.88 410.12 304.12 401.12 307.88 394.62 311.38 383.38 319.38 380.62 322.88 383.38 320.12 393.88 313.88 397.88 312.12 404.38 308.38 410.38 305.88 418.12 303.38 434.88 298.88 456.38 295.12ZM502.88 289.62 497.12 290.12 488.88 291.62 468.62 297.12 450.38 301.62 441.38 303.38 430.12 306.38 425.62 307.88 418.88 311.38 414.62 315.12 412.88 317.62 414.88 315.38 418.38 312.88 424.12 310.12 428.88 308.38 480.88 294.12 492.12 291.38ZM540.62 285.38 531.62 285.62 503.62 287.62 489.62 289.12 474.62 291.62 461.88 295.38 432.62 302.12 422.88 305.12 414.38 308.38 406.38 312.12 399.62 316.38 396.12 319.88 398.38 317.88 403.38 314.88 412.12 310.88 415.88 309.62 418.88 307.88 428.12 304.38 440.62 301.12 455.38 298.12 474.38 293.12 490.62 289.88 531.62 285.88ZM577.62 284.12 554.38 285.12 524.62 287.62 502.62 290.88 482.88 295.12 457.38 302.62 437.62 309.62 436.12 310.38 433.38 312.88 428.38 316.38 418.12 324.62 436.12 312.88 461.88 303.62 492.62 294.88 498.88 293.38 507.62 292.62 513.88 291.38 530.38 289.12 551.12 287.12 577.38 285.38Z"/><path fill="#ff4422" d="M417.12 325.88 416.12 326.12 409.12 331.38 404.38 335.62ZM380.12 324.12 379.62 324.38 361.38 350.62 353.38 359.38 355.38 357.88 360.88 351.62ZM395.62 320.88 394.12 322.38 379.38 343.12 373.62 348.62 362.88 356.88 371.12 351.12 378.38 344.62 381.62 340.62ZM412.38 318.62 402.12 332.38 394.38 341.12 395.62 340.38 399.62 335.88 409.62 322.88ZM433.38 295.88 428.38 296.12 404.38 298.88 398.12 300.12 390.12 302.88 385.12 305.38 380.12 309.12 376.62 312.62 370.38 321.12 375.12 315.62 380.12 311.12 386.38 306.88 393.62 303.38 400.12 301.12 406.62 299.62ZM472.12 291.62 433.62 297.88 410.12 304.12 401.12 307.88 394.62 311.38 384.62 318.38 382.38 320.38 381.12 322.12 383.38 319.88 394.62 312.88 405.38 307.38 409.62 305.62 420.12 302.38 434.38 298.62 461.62 293.88ZM501.12 289.88 497.12 290.12 488.88 291.62 468.62 297.12 450.38 301.62 441.38 303.38 430.12 306.38 425.62 307.88 418.88 311.38 417.12 312.62 413.38 316.88 416.38 313.88 418.62 312.38 425.38 309.12 430.62 307.38 490.62 291.62ZM540.38 285.38 531.62 285.62 503.62 287.62 489.62 289.12 474.62 291.62 461.88 295.38 432.62 302.12 422.88 305.12 414.38 308.38 406.38 312.12 399.62 316.38 396.12 319.88 398.12 317.88 402.38 315.12 409.38 311.62 425.62 304.88 440.38 300.88 458.12 297.12 473.62 292.88 487.38 290.12 496.12 288.88ZM577.62 284.12 554.38 285.12 524.62 287.62 502.62 290.88 482.88 295.12 457.38 302.62 437.62 309.62 436.12 310.38 419.12 323.88 437.38 311.62 462.12 302.88 488.38 295.38 498.88 292.88 506.38 292.12 523.38 289.38 547.88 286.88 577.62 284.88Z"/><path fill="#ff2914" d="M416.38 326.12 409.12 331.38 404.38 335.62 408.62 331.88ZM379.88 324.12 361.38 350.62 353.38 359.38 360.62 351.62ZM395.38 321.12 394.12 322.38 379.38 343.12 373.62 348.62 362.88 356.88 372.88 349.38 379.88 342.62 392.88 324.12ZM412.12 318.88 402.12 332.38 394.38 341.12 395.88 339.88 401.38 333.38ZM423.12 296.88 409.88 298.12 401.38 299.38 396.38 300.62 390.12 302.88 385.12 305.38 380.12 309.12 376.62 312.62 372.38 318.38 375.38 314.62 381.12 309.38 387.62 305.12 393.12 302.62 399.88 300.38 405.62 299.12ZM470.62 291.88 433.62 297.88 410.12 304.12 401.12 307.88 394.62 311.38 384.62 318.38 381.62 321.38 383.38 319.62 395.38 311.88 406.38 306.38 414.12 303.62 434.88 298.12ZM500.88 289.88 495.38 290.38 488.88 291.62 468.62 297.12 450.38 301.62 441.38 303.38 430.12 306.38 425.62 307.88 418.88 311.38 417.12 312.62 413.88 316.12 416.62 313.38 418.88 311.88 424.88 308.88 429.88 307.12 488.62 291.88ZM540.12 285.38 523.62 286.12 498.38 288.12 482.62 290.12 474.62 291.62 461.88 295.38 432.62 302.12 422.88 305.12 414.38 308.38 406.38 312.12 401.38 315.12 397.12 318.62 403.12 314.38 410.62 310.62 423.38 305.38 432.12 302.62 454.62 297.62 475.12 292.12 488.62 289.62 498.38 288.38 522.38 286.38ZM577.62 284.12 554.38 285.12 524.62 287.62 502.62 290.88 487.88 293.88 462.88 300.88 437.62 309.62 436.12 310.38 433.38 312.88 428.38 316.38 419.38 323.62 437.38 310.88 462.38 302.12 490.88 294.12 500.12 292.12 508.88 291.12 524.38 288.62 550.88 286.12 577.62 284.62Z"/><path fill="#ff0d06" d="M395.12 301.12 390.12 302.88 385.12 305.38 380.12 309.12 376.62 312.62 379.88 309.38 384.88 305.62 389.62 303.12ZM460.38 299.12 438.38 304.12 425.62 307.88 418.88 311.38 414.62 315.12 418.62 311.62 426.88 307.62 437.12 304.62ZM463.12 293.12 433.62 297.88 410.12 304.12 404.38 306.38 395.88 310.62 384.62 318.38 382.38 320.38 386.12 317.38 395.62 311.12 408.12 305.12 416.88 302.38 435.38 297.62ZM519.38 286.62 498.38 288.12 481.12 290.38 471.62 292.38 461.88 295.38 432.62 302.12 422.88 305.12 412.62 309.12 404.12 313.38 398.88 317.12 403.88 313.62 411.88 309.62 423.12 305.12 432.88 302.12 457.38 296.62 470.38 292.88 479.12 290.88 498.38 288.12ZM577.62 284.12 554.38 285.12 524.62 287.62 502.62 290.88 487.88 293.88 462.88 300.88 437.62 309.62 436.12 310.38 433.38 312.88 422.88 320.88 435.38 311.38 438.12 309.88 462.62 301.38 488.38 294.12 498.62 291.88 525.62 287.88 550.62 285.62Z"/><path fill="none" stroke="#5a3cf0" stroke-width="1.05" d="M349.2 364.99 350.64 364.17 352.08 363.23 353.51 362.25 354.95 361.34 356.39 360.56 357.83 359.88 359.26 359.24 360.7 358.61 362.14 357.96 363.58 357.26 365.02 356.54 366.45 355.81 367.89 355.08 369.33 354.36 370.77 353.64 372.2 352.92 373.64 352.2 375.08 351.48 376.52 350.76 377.95 350.04 379.39 349.31 380.83 348.59 382.27 347.87 383.71 347.15 385.14 346.43 386.58 345.71 388.02 344.99 389.46 344.27 390.89 343.56 392.33 342.85 393.77 342.12 395.21 341.38 396.65 340.62 398.08 339.84 399.52 339.05 400.96 338.26 402.4 337.46 403.83 336.65 405.27 335.83 406.71 335.01 408.15 334.21 409.58 333.42 411.02 332.63 412.46 331.85 413.9 331.08 415.34 330.33 416.77 329.61 418.21 328.89 419.65 328.18 421.09 327.46 422.52 326.74 423.96 326.01 425.4 325.29 426.84 324.57 428.28 323.87 429.71 323.17 431.15 322.48 432.59 321.79 434.03 321.11 435.46 320.44 436.9 319.77 438.34 319.11 439.78 318.46 441.22 317.81 442.65 317.17 444.09 316.53 445.53 315.9 446.97 315.29 448.4 314.7 449.84 314.11 451.28 313.52 452.72 312.94 454.15 312.38 455.59 311.82 457.03 311.29 458.47 310.77 459.91 310.27 461.34 309.8 462.78 309.34 464.22 308.9 465.66 308.47 467.09 308.06 468.53 307.65 469.97 307.25 471.41 306.85 472.85 306.46 474.28 306.08 475.72 305.7 477.16 305.34 478.6 304.98 480.03 304.62 481.47 304.27 482.91 303.92 484.35 303.57 485.78 303.21 487.22 302.85 488.66 302.49 490.1 302.12 491.54 301.76 492.97 301.39 494.41 301.03 495.85 300.67 497.29 300.32 498.72 299.96 500.16 299.62 501.6 299.27 503.04 298.93 504.48 298.59 505.91 298.26 507.35 297.92 508.79 297.6 510.23 297.28 511.66 296.97 513.1 296.67 514.54 296.37 515.98 296.07 517.42 295.78 518.85 295.49 520.29 295.2 521.73 294.91 523.17 294.63 524.6 294.35 526.04 294.08 527.48 293.81 528.92 293.54 530.35 293.28 531.79 293.03 533.23 292.78 534.67 292.53 536.11 292.29 537.54 292.06 538.98 291.83 540.42 291.6 541.86 291.39 543.29 291.18 544.73 290.97 546.17 290.77 547.61 290.57 549.05 290.37 550.48 290.18 551.92 289.99 553.36 289.8 554.8 289.61 556.23 289.43 557.67 289.24 559.11 289.06 560.55 288.88 561.98 288.69 563.42 288.51 564.86 288.32 566.3 288.14 567.74 287.95 569.17 287.76 570.61 287.58 572.05 287.4 573.49 287.22 574.92 287.04 576.36 286.87 577.8 286.7"/><path fill="none" stroke="#1a1a1a" stroke-opacity="0.75" stroke-width="0.55" d="M349.2 364.99 350.64 364.17 352.08 363.23 353.51 362.25 354.95 361.34 356.39 360.56 357.83 359.88 359.26 359.24 360.7 358.61 362.14 357.96 363.58 357.26 365.02 356.54 366.45 355.81 367.89 355.08 369.33 354.36 370.77 353.64 372.2 352.92 373.64 352.2 375.08 351.48 376.52 350.76 377.95 350.04 379.39 349.31 380.83 348.59 382.27 347.87 383.71 347.15 385.14 346.43 386.58 345.71 388.02 344.99 389.46 344.27 390.89 343.56 392.33 342.85 393.77 342.12 395.21 341.38 396.65 340.62 398.08 339.84 399.52 339.05 400.96 338.26 402.4 337.18 403.83 335.9 405.27 334.6 406.71 333.33 408.15 332.13 409.58 331.01 411.02 329.94 412.46 328.89 413.9 327.82 415.34 326.71 416.77 325.58 418.21 324.43 419.65 323.28 421.09 322.13 422.52 320.99 423.96 319.83 425.4 318.69 426.84 317.56 428.28 316.45 429.71 315.37 431.15 314.32 432.59 313.24 434.03 312.14 435.46 310.87 436.9 309.93 438.34 309.33 439.78 308.84 441.22 308.3 442.65 307.75 444.09 307.2 445.53 306.67 446.97 306.14 448.4 305.63 449.84 305.13 451.28 304.64 452.72 304.15 454.15 303.67 455.59 303.2 457.03 302.73 458.47 302.27 459.91 301.81 461.34 301.35 462.78 300.9 464.22 300.45 465.66 300 467.09 299.55 468.53 299.11 469.97 298.68 471.41 298.25 472.85 297.83 474.28 297.42 475.72 297.02 477.16 296.63 478.6 296.25 480.03 295.87 481.47 295.49 482.91 295.11 484.35 294.74 485.78 294.38 487.22 294.03 488.66 293.68 490.1 293.35 491.54 293.02 492.97 292.71 494.41 292.41 495.85 292.12 497.29 291.84 498.72 291.57 500.16 291.31 501.6 291.05 503.04 290.8 504.48 290.56 505.91 290.32 507.35 290.09 508.79 289.86 510.23 289.64 511.66 289.42 513.1 289.2 514.54 288.99 515.98 288.77 517.42 288.57 518.85 288.36 520.29 288.17 521.73 287.98 523.17 287.8 524.6 287.63 526.04 287.47 527.48 287.31 528.92 287.16 530.35 287.02 531.79 286.88 533.23 286.74 534.67 286.61 536.11 286.48 537.54 286.35 538.98 286.23 540.42 286.11 541.86 286 543.29 285.89 544.73 285.78 546.17 285.67 547.61 285.57 549.05 285.47 550.48 285.37 551.92 285.28 553.36 285.18 554.8 285.09 556.23 285.01 557.67 284.92 559.11 284.83 560.55 284.75 561.98 284.67 563.42 284.59 564.86 284.51 566.3 284.44 567.74 284.36 569.17 284.29 570.61 284.22 572.05 284.15 573.49 284.08 574.92 284.02 576.36 283.95 577.8 283.89"/><path fill="none" stroke="#1a1a1a" stroke-opacity="0.75" stroke-width="0.55" d="M349.2 364.99 350.64 364.17 352.08 363.23 353.51 362.25 354.95 361.34 356.39 360.56 357.83 359.88 359.26 359.24 360.7 358.61 362.14 357.96 363.58 357.26 365.02 356.54 366.45 355.81 367.89 355.08 369.33 354.36 370.77 353.64 372.2 352.92 373.64 352.2 375.08 351.48 376.52 350.76 377.95 350.04 379.39 349.31 380.83 348.59 382.27 347.87 383.71 347.15 385.14 346.43 386.58 345.71 388.02 344.99 389.46 344.27 390.89 343.56 392.33 342.85 393.77 341.72 395.21 340.24 396.65 338.65 398.08 337.01 399.52 335.33 400.96 333.55 402.4 331.72 403.83 329.86 405.27 327.99 406.71 326.11 408.15 324.2 409.58 322.26 411.02 320.29 412.46 318.21 413.9 316.06 415.34 314.27 416.77 312.87 418.21 311.77 419.65 310.91 421.09 310.14 422.52 309.36 423.96 308.62 425.4 307.95 426.84 307.4 428.28 306.91 429.71 306.47 431.15 306.06 432.59 305.67 434.03 305.27 435.46 304.88 436.9 304.5 438.34 304.13 439.78 303.76 441.22 303.41 442.65 303.06 444.09 302.73 445.53 302.41 446.97 302.12 448.4 301.83 449.84 301.52 451.28 301.19 452.72 300.84 454.15 300.49 455.59 300.14 457.03 299.78 458.47 299.42 459.91 299.06 461.34 298.7 462.78 298.35 464.22 297.99 465.66 297.62 467.09 297.26 468.53 296.9 469.97 296.54 471.41 296.17 472.85 295.81 474.28 295.45 475.72 295.09 477.16 294.74 478.6 294.37 480.03 293.98 481.47 293.59 482.91 293.19 484.35 292.8 485.78 292.41 487.22 292.03 488.66 291.67 490.1 291.33 491.54 291.02 492.97 290.74 494.41 290.5 495.85 290.29 497.29 290.1 498.72 289.93 500.16 289.77 501.6 289.63 503.04 289.49 504.48 289.36 505.91 289.23 507.35 289.1 508.79 288.97 510.23 288.84 511.66 288.7 513.1 288.55 514.54 288.4 515.98 288.24 517.42 288.09 518.85 287.93 520.29 287.78 521.73 287.63 523.17 287.48 524.6 287.34 526.04 287.2 527.48 287.07 528.92 286.94 530.35 286.81 531.79 286.68 533.23 286.55 534.67 286.43 536.11 286.31 537.54 286.19 538.98 286.07 540.42 285.96 541.86 285.85 543.29 285.74 544.73 285.64 546.17 285.54 547.61 285.44 549.05 285.35 550.48 285.25 551.92 285.16 553.36 285.07 554.8 284.99 556.23 284.9 557.67 284.82 559.11 284.74 560.55 284.66 561.98 284.58 563.42 284.5 564.86 284.43 566.3 284.36 567.74 284.29 569.17 284.23 570.61 284.16 572.05 284.1 573.49 284.04 574.92 283.98 576.36 283.92 577.8 283.87"/><path fill="none" stroke="#1a1a1a" stroke-opacity="0.75" stroke-width="0.55" d="M349.2 364.99 350.64 364.17 352.08 363.23 353.51 362.25 354.95 361.34 356.39 360.56 357.83 359.88 359.26 359.24 360.7 358.44 362.14 357.3 363.58 356.15 365.02 355.02 366.45 353.93 367.89 352.88 369.33 351.83 370.77 350.75 372.2 349.6 373.64 348.39 375.08 347.13 376.52 345.81 377.95 344.39 379.39 342.84 380.83 341.06 382.27 339.07 383.71 337 385.14 334.96 386.58 332.94 388.02 330.9 389.46 328.87 390.89 326.86 392.33 324.83 393.77 322.85 395.21 320.98 396.65 319.19 398.08 317.62 399.52 316.43 400.96 315.41 402.4 314.44 403.83 313.54 405.27 312.72 406.71 311.94 408.15 311.19 409.58 310.49 411.02 309.81 412.46 309.17 413.9 308.55 415.34 307.96 416.77 307.38 418.21 306.82 419.65 306.28 421.09 305.75 422.52 305.24 423.96 304.75 425.4 304.28 426.84 303.82 428.28 303.37 429.71 302.95 431.15 302.53 432.59 302.13 434.03 301.75 435.46 301.37 436.9 301.01 438.34 300.65 439.78 300.32 441.22 300 442.65 299.68 444.09 299.38 445.53 299.07 446.97 298.75 448.4 298.43 449.84 298.1 451.28 297.76 452.72 297.42 454.15 297.07 455.59 296.72 457.03 296.37 458.47 296.01 459.91 295.65 461.34 295.28 462.78 294.89 464.22 294.49 465.66 294.07 467.09 293.65 468.53 293.24 469.97 292.83 471.41 292.43 472.85 292.05 474.28 291.7 475.72 291.37 477.16 291.08 478.6 290.81 480.03 290.56 481.47 290.31 482.91 290.08 484.35 289.85 485.78 289.64 487.22 289.43 488.66 289.24 490.1 289.05 491.54 288.87 492.97 288.7 494.41 288.54 495.85 288.38 497.29 288.23 498.72 288.09 500.16 287.94 501.6 287.81 503.04 287.68 504.48 287.55 505.91 287.42 507.35 287.3 508.79 287.19 510.23 287.07 511.66 286.96 513.1 286.85 514.54 286.75 515.98 286.64 517.42 286.54 518.85 286.44 520.29 286.34 521.73 286.25 523.17 286.15 524.6 286.06 526.04 285.96 527.48 285.87 528.92 285.78 530.35 285.7 531.79 285.61 533.23 285.53 534.67 285.45 536.11 285.37 537.54 285.29 538.98 285.22 540.42 285.15 541.86 285.08 543.29 285.01 544.73 284.95 546.17 284.88 547.61 284.82 549.05 284.76 550.48 284.7 551.92 284.65 553.36 284.59 554.8 284.53 556.23 284.48 557.67 284.42 559.11 284.37 560.55 284.32 561.98 284.27 563.42 284.22 564.86 284.17 566.3 284.13 567.74 284.08 569.17 284.04 570.61 284 572.05 283.96 573.49 283.92 574.92 283.88 576.36 283.85 577.8 283.81"/><path fill="none" stroke="#1a1a1a" stroke-opacity="0.75" stroke-width="0.55" d="M349.2 362.98 350.64 361.69 352.08 360.39 353.51 359.04 354.95 357.62 356.39 356.14 357.83 354.59 359.26 352.95 360.7 351.18 362.14 349.29 363.58 347.32 365.02 345.34 366.45 343.32 367.89 341.25 369.33 339.17 370.77 337.12 372.2 335.08 373.64 333.04 375.08 330.98 376.52 328.88 377.95 326.77 379.39 324.68 380.83 322.48 382.27 320.47 383.71 319.07 385.14 317.99 386.58 316.94 388.02 315.95 389.46 314.96 390.89 313.95 392.33 312.9 393.77 311.9 395.21 311 396.65 310.17 398.08 309.38 399.52 308.64 400.96 307.94 402.4 307.27 403.83 306.61 405.27 305.98 406.71 305.38 408.15 304.82 409.58 304.3 411.02 303.83 412.46 303.39 413.9 302.97 415.34 302.57 416.77 302.19 418.21 301.82 419.65 301.46 421.09 301.1 422.52 300.75 423.96 300.39 425.4 300.02 426.84 299.64 428.28 299.25 429.71 298.85 431.15 298.47 432.59 298.1 434.03 297.77 435.46 297.47 436.9 297.19 438.34 296.92 439.78 296.67 441.22 296.42 442.65 296.18 444.09 295.95 445.53 295.72 446.97 295.49 448.4 295.26 449.84 295.02 451.28 294.79 452.72 294.56 454.15 294.34 455.59 294.11 457.03 293.89 458.47 293.66 459.91 293.44 461.34 293.21 462.78 292.97 464.22 292.74 465.66 292.5 467.09 292.26 468.53 292.02 469.97 291.78 471.41 291.54 472.85 291.31 474.28 291.09 475.72 290.87 477.16 290.67 478.6 290.46 480.03 290.26 481.47 290.07 482.91 289.87 484.35 289.68 485.78 289.49 487.22 289.31 488.66 289.13 490.1 288.96 491.54 288.79 492.97 288.63 494.41 288.48 495.85 288.33 497.29 288.19 498.72 288.05 500.16 287.91 501.6 287.78 503.04 287.65 504.48 287.52 505.91 287.4 507.35 287.28 508.79 287.16 510.23 287.05 511.66 286.93 513.1 286.82 514.54 286.72 515.98 286.61 517.42 286.51 518.85 286.41 520.29 286.32 521.73 286.22 523.17 286.13 524.6 286.04 526.04 285.95 527.48 285.86 528.92 285.77 530.35 285.68 531.79 285.6 533.23 285.52 534.67 285.44 536.11 285.36 537.54 285.29 538.98 285.22 540.42 285.15 541.86 285.08 543.29 285.01 544.73 284.95 546.17 284.88 547.61 284.82 549.05 284.76 550.48 284.7 551.92 284.65 553.36 284.59 554.8 284.53 556.23 284.48 557.67 284.42 559.11 284.37 560.55 284.32 561.98 284.27 563.42 284.22 564.86 284.17 566.3 284.13 567.74 284.08 569.17 284.04 570.61 284 572.05 283.96 573.49 283.92 574.92 283.88 576.36 283.85 577.8 283.81"/><path fill="none" stroke="#8a1cf0" stroke-width="0.8" d="M349.2 351.05 350.64 349.22 352.08 347.24 353.51 345.16 354.95 343.01 356.39 340.85 357.83 338.73 359.26 336.6 360.7 334.44 362.14 332.28 363.58 330.12 365.02 327.99 366.45 325.91 367.89 323.86 369.33 321.83 370.77 319.84 372.2 317.88 373.64 315.86 375.08 313.87 376.52 312.03 377.95 310.45 379.39 309.07 380.83 307.78 382.27 306.61 383.71 305.55 385.14 304.62 386.58 303.81 388.02 303.08 389.46 302.41 390.89 301.81 392.33 301.25 393.77 300.75 395.21 300.27 396.65 299.83 398.08 299.42 399.52 299.05 400.96 298.74 402.4 298.47 403.83 298.23 405.27 298.01 406.71 297.81 408.15 297.63 409.58 297.45 411.02 297.28 412.46 297.12 413.9 296.97 415.34 296.83 416.77 296.68 418.21 296.53 419.65 296.37 421.09 296.21 422.52 296.04 423.96 295.88 425.4 295.72 426.84 295.56 428.28 295.41 429.71 295.27 431.15 295.13 432.59 295 434.03 294.88 435.46 294.77 436.9 294.66 438.34 294.55 439.78 294.45 441.22 294.34 442.65 294.24 444.09 294.13 445.53 294.01 446.97 293.89 448.4 293.77 449.84 293.63 451.28 293.49 452.72 293.34 454.15 293.19 455.59 293.03 457.03 292.87 458.47 292.71 459.91 292.54 461.34 292.37 462.78 292.19 464.22 292.02 465.66 291.85 467.09 291.67 468.53 291.5 469.97 291.32 471.41 291.15 472.85 290.98 474.28 290.82 475.72 290.64 477.16 290.47 478.6 290.29 480.03 290.11 481.47 289.94 482.91 289.76 484.35 289.58 485.78 289.41 487.22 289.23 488.66 289.07 490.1 288.9 491.54 288.74 492.97 288.59 494.41 288.45 495.85 288.31 497.29 288.18 498.72 288.05 500.16 287.91 501.6 287.78 503.04 287.65 504.48 287.52 505.91 287.4 507.35 287.28 508.79 287.16 510.23 287.05 511.66 286.93 513.1 286.82 514.54 286.72 515.98 286.61 517.42 286.51 518.85 286.41 520.29 286.32 521.73 286.22 523.17 286.13 524.6 286.04 526.04 285.95 527.48 285.86 528.92 285.77 530.35 285.68 531.79 285.6 533.23 285.52 534.67 285.44 536.11 285.36 537.54 285.29 538.98 285.22 540.42 285.15 541.86 285.08 543.29 285.01 544.73 284.95 546.17 284.88 547.61 284.82 549.05 284.76 550.48 284.7 551.92 284.64 553.36 284.58 554.8 284.52 556.23 284.46 557.67 284.41 559.11 284.36 560.55 284.3 561.98 284.25 563.42 284.2 564.86 284.15 566.3 284.11 567.74 284.06 569.17 284.02 570.61 283.97 572.05 283.93 573.49 283.9 574.92 283.86 576.36 283.83 577.8 283.79"/></g><rect x="349.2" y="276.2" width="228.6" height="83.2" fill="none" stroke="#6e6e6e" stroke-width="1"/><path d="M349.2 359.8v2.6" stroke="#444" stroke-width="0.8"/><text x="349.2" y="370.4" font-size="8.2" text-anchor="middle" fill="#141414">95</text><path d="M381.86 359.8v2.6" stroke="#444" stroke-width="0.8"/><text x="381.86" y="370.4" font-size="8.2" text-anchor="middle" fill="#141414">100</text><path d="M414.51 359.8v2.6" stroke="#444" stroke-width="0.8"/><text x="414.51" y="370.4" font-size="8.2" text-anchor="middle" fill="#141414">105</text><path d="M447.17 359.8v2.6" stroke="#444" stroke-width="0.8"/><text x="447.17" y="370.4" font-size="8.2" text-anchor="middle" fill="#141414">110</text><path d="M479.83 359.8v2.6" stroke="#444" stroke-width="0.8"/><text x="479.83" y="370.4" font-size="8.2" text-anchor="middle" fill="#141414">115</text><path d="M512.49 359.8v2.6" stroke="#444" stroke-width="0.8"/><text x="512.49" y="370.4" font-size="8.2" text-anchor="middle" fill="#141414">120</text><path d="M545.14 359.8v2.6" stroke="#444" stroke-width="0.8"/><text x="545.14" y="370.4" font-size="8.2" text-anchor="middle" fill="#141414">125</text><path d="M348.8 334.99h-2.6" stroke="#444" stroke-width="0.8"/><text x="344.8" y="337.99" font-size="8.2" text-anchor="end" fill="#141414">300</text><path d="M348.8 307.71h-2.6" stroke="#444" stroke-width="0.8"/><text x="344.8" y="310.71" font-size="8.2" text-anchor="end" fill="#141414">400</text><path d="M348.8 280.43h-2.6" stroke="#444" stroke-width="0.8"/><text x="344.8" y="283.43" font-size="8.2" text-anchor="end" fill="#141414">500</text><text x="463.5" y="380" font-size="8.2" text-anchor="middle" fill="#141414">x [km]</text><text x="327" y="317.8" font-size="8.2" text-anchor="middle" fill="#141414" transform="rotate(-90 327 317.8)">Height [m]</text><rect x="316.7" y="260.2" width="10.2" height="9.6" fill="#fff" stroke="#555" stroke-width="1"/><text x="321.8" y="268.5" font-size="10.6" text-anchor="middle" fill="#111">F</text><linearGradient id="gB" x1="0" y1="0" x2="0" y2="1"><stop offset="0" stop-color="#b40426"/><stop offset="0.04" stop-color="#d65244"/><stop offset="0.08" stop-color="#ee8468"/><stop offset="0.12" stop-color="#f7ac8e"/><stop offset="0.16" stop-color="#f2cbb7"/><stop offset="0.2" stop-color="#dcdddd"/><stop offset="0.24" stop-color="#d6dce4"/><stop offset="0.28" stop-color="#cfdaea"/><stop offset="0.32" stop-color="#c7d7f0"/><stop offset="0.36" stop-color="#c0d4f5"/><stop offset="0.4" stop-color="#b7cff9"/><stop offset="0.44" stop-color="#afcafc"/><stop offset="0.48" stop-color="#a7c5fe"/><stop offset="0.52" stop-color="#9ebeff"/><stop offset="0.56" stop-color="#96b7ff"/><stop offset="0.6" stop-color="#8caffe"/><stop offset="0.64" stop-color="#84a7fc"/><stop offset="0.68" stop-color="#7b9ff9"/><stop offset="0.72" stop-color="#7295f4"/><stop offset="0.76" stop-color="#6a8bef"/><stop offset="0.8" stop-color="#6180e9"/><stop offset="0.84" stop-color="#5977e3"/><stop offset="0.88" stop-color="#516ddb"/><stop offset="0.92" stop-color="#4961d2"/><stop offset="0.96" stop-color="#4257c9"/><stop offset="1" stop-color="#3b4cc0"/></linearGradient><rect x="272" y="144.7" width="4.9" height="82.3" fill="url(#gB)" stroke="#6e6e6e" stroke-width="0.8"/><path d="M277.2 144.7h2.4" stroke="#444" stroke-width="0.8"/><text x="281.3" y="147.5" font-size="8.2" text-anchor="start" fill="#141414">−25</text><path d="M277.2 161.16h2.4" stroke="#444" stroke-width="0.8"/><text x="281.3" y="163.96" font-size="8.2" text-anchor="start" fill="#141414">0</text><path d="M277.2 177.62h2.4" stroke="#444" stroke-width="0.8"/><text x="281.3" y="180.42" font-size="8.2" text-anchor="start" fill="#141414">25</text><path d="M277.2 194.08h2.4" stroke="#444" stroke-width="0.8"/><text x="281.3" y="196.88" font-size="8.2" text-anchor="start" fill="#141414">50</text><path d="M277.2 210.54h2.4" stroke="#444" stroke-width="0.8"/><text x="281.3" y="213.34" font-size="8.2" text-anchor="start" fill="#141414">75</text><path d="M277.2 227h2.4" stroke="#444" stroke-width="0.8"/><text x="281.3" y="229.8" font-size="8.2" text-anchor="start" fill="#141414">100</text><text x="304.9" y="185.85" font-size="8.2" text-anchor="middle" fill="#141414" transform="rotate(-90 304.9 185.85)">Water Depth [m]</text><linearGradient id="gC" x1="0" y1="0" x2="0" y2="1"><stop offset="0" stop-color="#ff0000"/><stop offset="0.05" stop-color="#ff2613"/><stop offset="0.1" stop-color="#ff4d27"/><stop offset="0.15" stop-color="#ff733b"/><stop offset="0.2" stop-color="#ff964f"/><stop offset="0.25" stop-color="#ffb360"/><stop offset="0.3" stop-color="#e6cd73"/><stop offset="0.35" stop-color="#cce385"/><stop offset="0.4" stop-color="#b2f396"/><stop offset="0.45" stop-color="#99fca6"/><stop offset="0.5" stop-color="#80ffb4"/><stop offset="0.55" stop-color="#66fcc2"/><stop offset="0.6" stop-color="#4df3ce"/><stop offset="0.65" stop-color="#32e3da"/><stop offset="0.7" stop-color="#18cde4"/><stop offset="0.75" stop-color="#00b5eb"/><stop offset="0.8" stop-color="#1996f3"/><stop offset="0.85" stop-color="#3473f8"/><stop offset="0.9" stop-color="#4e4dfc"/><stop offset="0.95" stop-color="#6826fe"/><stop offset="1" stop-color="#8000ff"/></linearGradient><rect x="275.2" y="276.1" width="5" height="82.7" fill="url(#gC)" stroke="#6e6e6e" stroke-width="0.8"/><path d="M280.5 276.1h2.4" stroke="#444" stroke-width="0.8"/><text x="284.6" y="278.9" font-size="8.2" text-anchor="start" fill="#141414">1.0</text><path d="M280.5 292.64h2.4" stroke="#444" stroke-width="0.8"/><text x="284.6" y="295.44" font-size="8.2" text-anchor="start" fill="#141414">0.8</text><path d="M280.5 309.18h2.4" stroke="#444" stroke-width="0.8"/><text x="284.6" y="311.98" font-size="8.2" text-anchor="start" fill="#141414">0.6</text><path d="M280.5 325.72h2.4" stroke="#444" stroke-width="0.8"/><text x="284.6" y="328.52" font-size="8.2" text-anchor="start" fill="#141414">0.4</text><path d="M280.5 342.26h2.4" stroke="#444" stroke-width="0.8"/><text x="284.6" y="345.06" font-size="8.2" text-anchor="start" fill="#141414">0.2</text><path d="M280.5 358.8h2.4" stroke="#444" stroke-width="0.8"/><text x="284.6" y="361.6" font-size="8.2" text-anchor="start" fill="#141414">0.0</text><text x="305.3" y="317.75" font-size="8" text-anchor="middle" fill="#141414" transform="rotate(-90 305.3 317.75)">Cyclic Time of Deposition [Ma]</text><linearGradient id="gE" x1="0" y1="0" x2="0" y2="1"><stop offset="0" stop-color="#b40426"/><stop offset="0.04" stop-color="#d65244"/><stop offset="0.08" stop-color="#ee8468"/><stop offset="0.12" stop-color="#f7ac8e"/><stop offset="0.16" stop-color="#f2cbb7"/><stop offset="0.2" stop-color="#dcdddd"/><stop offset="0.24" stop-color="#d6dce4"/><stop offset="0.28" stop-color="#cfdaea"/><stop offset="0.32" stop-color="#c7d7f0"/><stop offset="0.36" stop-color="#c0d4f5"/><stop offset="0.4" stop-color="#b7cff9"/><stop offset="0.44" stop-color="#afcafc"/><stop offset="0.48" stop-color="#a7c5fe"/><stop offset="0.52" stop-color="#9ebeff"/><stop offset="0.56" stop-color="#96b7ff"/><stop offset="0.6" stop-color="#8caffe"/><stop offset="0.64" stop-color="#84a7fc"/><stop offset="0.68" stop-color="#7b9ff9"/><stop offset="0.72" stop-color="#7295f4"/><stop offset="0.76" stop-color="#6a8bef"/><stop offset="0.8" stop-color="#6180e9"/><stop offset="0.84" stop-color="#5977e3"/><stop offset="0.88" stop-color="#516ddb"/><stop offset="0.92" stop-color="#4961d2"/><stop offset="0.96" stop-color="#4257c9"/><stop offset="1" stop-color="#3b4cc0"/></linearGradient><rect x="588.3" y="144.8" width="5" height="82.2" fill="url(#gE)" stroke="#6e6e6e" stroke-width="0.8"/><path d="M593.6 144.8h2.4" stroke="#444" stroke-width="0.8"/><text x="597.5" y="147.6" font-size="8.2" text-anchor="start" fill="#141414">−25</text><path d="M593.6 161.24h2.4" stroke="#444" stroke-width="0.8"/><text x="597.5" y="164.04" font-size="8.2" text-anchor="start" fill="#141414">0</text><path d="M593.6 177.68h2.4" stroke="#444" stroke-width="0.8"/><text x="597.5" y="180.48" font-size="8.2" text-anchor="start" fill="#141414">25</text><path d="M593.6 194.12h2.4" stroke="#444" stroke-width="0.8"/><text x="597.5" y="196.92" font-size="8.2" text-anchor="start" fill="#141414">50</text><path d="M593.6 210.56h2.4" stroke="#444" stroke-width="0.8"/><text x="597.5" y="213.36" font-size="8.2" text-anchor="start" fill="#141414">75</text><path d="M593.6 227h2.4" stroke="#444" stroke-width="0.8"/><text x="597.5" y="229.8" font-size="8.2" text-anchor="start" fill="#141414">100</text><text x="621" y="185.9" font-size="8.2" text-anchor="middle" fill="#141414" transform="rotate(-90 621 185.9)">Water Depth [m]</text><linearGradient id="gF" x1="0" y1="0" x2="0" y2="1"><stop offset="0" stop-color="#ff0000"/><stop offset="0.05" stop-color="#ff2613"/><stop offset="0.1" stop-color="#ff4d27"/><stop offset="0.15" stop-color="#ff733b"/><stop offset="0.2" stop-color="#ff964f"/><stop offset="0.25" stop-color="#ffb360"/><stop offset="0.3" stop-color="#e6cd73"/><stop offset="0.35" stop-color="#cce385"/><stop offset="0.4" stop-color="#b2f396"/><stop offset="0.45" stop-color="#99fca6"/><stop offset="0.5" stop-color="#80ffb4"/><stop offset="0.55" stop-color="#66fcc2"/><stop offset="0.6" stop-color="#4df3ce"/><stop offset="0.65" stop-color="#32e3da"/><stop offset="0.7" stop-color="#18cde4"/><stop offset="0.75" stop-color="#00b5eb"/><stop offset="0.8" stop-color="#1996f3"/><stop offset="0.85" stop-color="#3473f8"/><stop offset="0.9" stop-color="#4e4dfc"/><stop offset="0.95" stop-color="#6826fe"/><stop offset="1" stop-color="#8000ff"/></linearGradient><rect x="591.5" y="276.1" width="5.1" height="82.7" fill="url(#gF)" stroke="#6e6e6e" stroke-width="0.8"/><path d="M596.9 276.1h2.4" stroke="#444" stroke-width="0.8"/><text x="600.6" y="278.9" font-size="8.2" text-anchor="start" fill="#141414">1.0</text><path d="M596.9 292.64h2.4" stroke="#444" stroke-width="0.8"/><text x="600.6" y="295.44" font-size="8.2" text-anchor="start" fill="#141414">0.8</text><path d="M596.9 309.18h2.4" stroke="#444" stroke-width="0.8"/><text x="600.6" y="311.98" font-size="8.2" text-anchor="start" fill="#141414">0.6</text><path d="M596.9 325.72h2.4" stroke="#444" stroke-width="0.8"/><text x="600.6" y="328.52" font-size="8.2" text-anchor="start" fill="#141414">0.4</text><path d="M596.9 342.26h2.4" stroke="#444" stroke-width="0.8"/><text x="600.6" y="345.06" font-size="8.2" text-anchor="start" fill="#141414">0.2</text><path d="M596.9 358.8h2.4" stroke="#444" stroke-width="0.8"/><text x="600.6" y="361.6" font-size="8.2" text-anchor="start" fill="#141414">0.0</text><text x="621.5" y="317.75" font-size="8" text-anchor="middle" fill="#141414" transform="rotate(-90 621.5 317.75)">Cyclic Time of Deposition [Ma]</text><rect x="585.4" y="20.4" width="98.2" height="68.6" rx="1.5" fill="#fff" stroke="#d4d4d4" stroke-width="0.9"/><path d="M587.4 26.6H604.7" stroke="#ff0000" stroke-width="1.6"/><text x="609.8" y="29.6" font-size="8.45" text-anchor="start" fill="#141414">Coarse Siliciclastic</text><path d="M587.4 37.8H604.7" stroke="#008000" stroke-width="1.6"/><text x="609.8" y="40.8" font-size="8.45" text-anchor="start" fill="#141414">Fine Siliciclastic</text><path d="M587.4 48.9H604.7" stroke="#c6dbef" stroke-width="1.6"/><text x="609.8" y="51.9" font-size="8.45" text-anchor="start" fill="#141414">Carbonate 25m</text><path d="M587.4 60H604.7" stroke="#6baed6" stroke-width="1.6"/><text x="609.8" y="63" font-size="8.45" text-anchor="start" fill="#141414">Carbonate 50m</text><path d="M587.4 71.1H604.7" stroke="#2171b5" stroke-width="1.6"/><text x="609.8" y="74.1" font-size="8.45" text-anchor="start" fill="#141414">Carbonate 75m</text><path d="M587.4 82.2H604.7" stroke="#08306b" stroke-width="1.6"/><text x="609.8" y="85.2" font-size="8.45" text-anchor="start" fill="#141414">Carbonate 100m</text><rect x="216.3" y="53.6" width="37.8" height="29" fill="#fff" stroke="#9a9a9a" stroke-width="0.6"/><path fill="none" stroke="#5b9bd5" stroke-width="0.8" d="M218.5 61.9 218.64 61.93 218.79 62.05 218.93 62.27 219.08 62.58 219.22 62.97 219.36 63.44 219.51 63.99 219.65 64.59 219.8 65.24 219.94 65.92 220.08 66.64 220.23 67.36 220.37 68.09 220.52 68.8 220.66 69.48 220.8 70.12 220.95 70.72 221.09 71.26 221.23 71.72 221.38 72.11 221.52 72.41 221.67 72.62 221.81 72.73 221.95 72.75 222.1 72.67 222.24 72.49 222.39 72.21 222.53 71.85 222.67 71.4 222.82 70.87 222.96 70.28 223.11 69.63 223.25 68.93 223.39 68.19 223.54 67.43 223.68 66.66 223.83 65.89 223.97 65.14 224.11 64.41 224.26 63.72 224.4 63.09 224.55 62.51 224.69 62.01 224.83 61.58 224.98 61.25 225.12 61 225.26 60.85 225.41 60.8 225.55 60.84 225.7 60.99 225.84 61.22 225.98 61.55 226.13 61.96 226.27 62.45 226.42 63 226.56 63.61 226.7 64.27 226.85 64.97 226.99 65.68 227.14 66.41 227.28 67.13 227.42 67.83 227.57 68.51 227.71 69.15 227.86 69.73 228 70.25 228.14 70.7 228.29 71.07 228.43 71.36 228.58 71.55 228.72 71.64 228.86 71.64 229.01 71.54 229.15 71.34 229.29 71.05 229.44 70.66 229.58 70.2 229.73 69.66 229.87 69.05 230.01 68.39 230.16 67.68 230.3 66.94 230.45 66.18 230.59 65.4 230.73 64.64 230.88 63.89 231.02 63.17 231.17 62.49 231.31 61.87 231.45 61.3 231.6 60.82 231.74 60.41 231.89 60.09 232.03 59.86 232.17 59.73 232.32 59.7 232.46 59.76 232.61 59.93 232.75 60.18 232.89 60.53 233.04 60.95 233.18 61.45 233.33 62.02 233.47 62.64 233.61 63.31 233.76 64.01 233.9 64.73 234.04 65.45 234.19 66.17 234.33 66.87 234.48 67.54 234.62 68.17 234.76 68.74 234.91 69.25 235.05 69.69 235.2 70.04 235.34 70.3 235.48 70.47 235.63 70.55 235.77 70.53 235.92 70.41 236.06 70.19 236.2 69.88 236.35 69.48 236.49 69 236.64 68.44 236.78 67.82 236.92 67.15 237.07 66.44 237.21 65.69 237.36 64.92 237.5 64.15 237.64 63.39 237.79 62.64 237.93 61.93 238.07 61.26 238.22 60.65 238.36 60.1 238.51 59.63 238.65 59.24 238.79 58.94 238.94 58.73 239.08 58.62 239.23 58.6 239.37 58.69 239.51 58.87 239.66 59.14 239.8 59.5 239.95 59.95 240.09 60.46 240.23 61.04 240.38 61.67 240.52 62.35 240.67 63.05 240.81 63.77 240.95 64.5 241.1 65.21 241.24 65.91 241.39 66.57 241.53 67.19 241.67 67.75 241.82 68.24 241.96 68.66 242.11 69 242.25 69.24 242.39 69.4 242.54 69.45 242.68 69.41 242.82 69.27 242.97 69.03 243.11 68.7 243.26 68.29 243.4 67.79 243.54 67.22 243.69 66.59 243.83 65.91 243.98 65.19 244.12 64.44 244.26 63.67 244.41 62.9 244.55 62.14 244.7 61.4 244.84 60.69 244.98 60.03 245.13 59.43 245.27 58.9 245.42 58.44 245.56 58.07 245.7 57.79 245.85 57.6 245.99 57.51 246.14 57.51 246.28 57.62 246.42 57.82 246.57 58.11 246.71 58.49 246.85 58.94 247 59.47 247.14 60.06 247.29 60.7 247.43 61.38 247.57 62.09 247.72 62.82 247.86 63.54 248.01 64.25 248.15 64.95 248.29 65.6 248.44 66.21 248.58 66.75 248.73 67.23 248.87 67.64 249.01 67.95 249.16 68.18 249.3 68.32 249.45 68.35 249.59 68.29 249.73 68.13 249.88 67.87 250.02 67.53 250.17 67.1 250.31 66.58 250.45 66 250.6 65.36 250.74 64.67 250.88 63.94 251.03 63.18 251.17 62.41 251.32 61.64 251.46 60.89 251.6 60.15 251.75 59.46 251.89 58.81 252.04 58.22 252.18 57.7 252.32 57.26 252.47 56.91 252.61 56.64 252.76 56.47 252.9 56.4"/><text x="235.2" y="52" font-size="4.3" text-anchor="middle" fill="#555">Rising sea level</text><path d="M218.5 82.6v1" stroke="#666" stroke-width="0.4"/><text x="218.5" y="87.2" font-size="3.9" text-anchor="middle" fill="#666">0</text><path d="M225.38 82.6v1" stroke="#666" stroke-width="0.4"/><text x="225.38" y="87.2" font-size="3.9" text-anchor="middle" fill="#666">1</text><path d="M232.26 82.6v1" stroke="#666" stroke-width="0.4"/><text x="232.26" y="87.2" font-size="3.9" text-anchor="middle" fill="#666">2</text><path d="M239.14 82.6v1" stroke="#666" stroke-width="0.4"/><text x="239.14" y="87.2" font-size="3.9" text-anchor="middle" fill="#666">3</text><path d="M246.02 82.6v1" stroke="#666" stroke-width="0.4"/><text x="246.02" y="87.2" font-size="3.9" text-anchor="middle" fill="#666">4</text><path d="M252.9 82.6v1" stroke="#666" stroke-width="0.4"/><text x="252.9" y="87.2" font-size="3.9" text-anchor="middle" fill="#666">5</text><text x="235.2" y="91" font-size="3.9" text-anchor="middle" fill="#666">t [Myr]</text><path d="M216.3 62.4h-1" stroke="#666" stroke-width="0.4"/><text x="214.7" y="63.7" font-size="3.6" text-anchor="end" fill="#777">500</text><path d="M216.3 73.9h-1" stroke="#666" stroke-width="0.4"/><text x="214.7" y="75.2" font-size="3.6" text-anchor="end" fill="#777">400</text><text x="205.8" y="68.1" font-size="3.9" text-anchor="middle" fill="#666" transform="rotate(-90 205.8 68.1)">Elevation [m]</text><rect x="531.7" y="53.5" width="37" height="27.8" fill="#fff" stroke="#9a9a9a" stroke-width="0.6"/><path fill="none" stroke="#5b9bd5" stroke-width="0.8" d="M533.1 62 533.25 62.07 533.39 62.24 533.54 62.5 533.68 62.85 533.83 63.29 533.97 63.81 534.12 64.39 534.26 65.04 534.41 65.73 534.56 66.46 534.7 67.22 534.85 67.99 534.99 68.76 535.14 69.51 535.28 70.24 535.43 70.93 535.58 71.57 535.72 72.15 535.87 72.66 536.01 73.09 536.16 73.43 536.3 73.68 536.45 73.84 536.59 73.9 536.74 73.86 536.89 73.73 537.03 73.5 537.18 73.18 537.32 72.77 537.47 72.29 537.61 71.74 537.76 71.13 537.91 70.48 538.05 69.78 538.2 69.07 538.34 68.34 538.49 67.62 538.63 66.91 538.78 66.22 538.92 65.58 539.07 64.99 539.22 64.46 539.36 64 539.51 63.62 539.65 63.32 539.8 63.12 539.94 63.01 540.09 63.01 540.23 63.1 540.38 63.28 540.53 63.56 540.67 63.93 540.82 64.39 540.96 64.92 541.11 65.52 541.25 66.17 541.4 66.88 541.55 67.61 541.69 68.37 541.84 69.14 541.98 69.91 542.13 70.66 542.27 71.38 542.42 72.06 542.56 72.69 542.71 73.25 542.86 73.75 543 74.16 543.15 74.49 543.29 74.72 543.44 74.86 543.58 74.9 543.73 74.84 543.87 74.69 544.02 74.44 544.17 74.1 544.31 73.68 544.46 73.19 544.6 72.62 544.75 72 544.89 71.34 545.04 70.64 545.19 69.92 545.33 69.2 545.48 68.47 545.62 67.77 545.77 67.09 545.91 66.46 546.06 65.88 546.2 65.36 546.35 64.91 546.5 64.55 546.64 64.28 546.79 64.09 546.93 64.01 547.08 64.02 547.22 64.13 547.37 64.33 547.52 64.63 547.66 65.02 547.81 65.49 547.95 66.03 548.1 66.65 548.24 67.31 548.39 68.02 548.53 68.76 548.68 69.53 548.83 70.3 548.97 71.06 549.12 71.81 549.26 72.52 549.41 73.19 549.55 73.81 549.7 74.36 549.84 74.84 549.99 75.23 550.14 75.54 550.28 75.76 550.43 75.88 550.57 75.9 550.72 75.82 550.86 75.65 551.01 75.38 551.16 75.03 551.3 74.59 551.45 74.08 551.59 73.5 551.74 72.88 551.88 72.2 552.03 71.5 552.17 70.78 552.32 70.05 552.47 69.33 552.61 68.63 552.76 67.96 552.9 67.34 553.05 66.77 553.19 66.26 553.34 65.84 553.48 65.49 553.63 65.23 553.78 65.07 553.92 65 554.07 65.03 554.21 65.16 554.36 65.38 554.5 65.7 554.65 66.11 554.8 66.59 554.94 67.15 555.09 67.77 555.23 68.45 555.38 69.17 555.52 69.92 555.67 70.68 555.81 71.45 555.96 72.21 556.11 72.95 556.25 73.66 556.4 74.32 556.54 74.92 556.69 75.46 556.83 75.92 556.98 76.3 557.13 76.59 557.27 76.79 557.42 76.89 557.56 76.89 557.71 76.79 557.85 76.6 558 76.32 558.14 75.94 558.29 75.49 558.44 74.97 558.58 74.38 558.73 73.74 558.87 73.06 559.02 72.36 559.16 71.63 559.31 70.9 559.45 70.19 559.6 69.49 559.75 68.83 559.89 68.22 560.04 67.66 560.18 67.17 560.33 66.76 560.47 66.43 560.62 66.19 560.77 66.05 560.91 66 561.06 66.05 561.2 66.2 561.35 66.44 561.49 66.78 561.64 67.2 561.78 67.7 561.93 68.27 562.08 68.91 562.22 69.59 562.37 70.32 562.51 71.07 562.66 71.83 562.8 72.6 562.95 73.36 563.09 74.1 563.24 74.79 563.39 75.44 563.53 76.04 563.68 76.56 563.82 77.01 563.97 77.37 564.11 77.64 564.26 77.82 564.41 77.9 564.55 77.88 564.7 77.76 564.84 77.55 564.99 77.25 565.13 76.86 565.28 76.39 565.42 75.86 565.57 75.26 565.72 74.61 565.86 73.92 566.01 73.21 566.15 72.49 566.3 71.76 566.44 71.05 566.59 70.36 566.74 69.7 566.88 69.1 567.03 68.56 567.17 68.08 567.32 67.69 567.46 67.37 567.61 67.15 567.75 67.03 567.9 67"/><text x="550.2" y="51.9" font-size="4.3" text-anchor="middle" fill="#555">falling sea level</text><path d="M533.1 81.3v1" stroke="#666" stroke-width="0.4"/><text x="533.1" y="85.9" font-size="3.9" text-anchor="middle" fill="#666">0</text><path d="M540.06 81.3v1" stroke="#666" stroke-width="0.4"/><text x="540.06" y="85.9" font-size="3.9" text-anchor="middle" fill="#666">1</text><path d="M547.02 81.3v1" stroke="#666" stroke-width="0.4"/><text x="547.02" y="85.9" font-size="3.9" text-anchor="middle" fill="#666">2</text><path d="M553.98 81.3v1" stroke="#666" stroke-width="0.4"/><text x="553.98" y="85.9" font-size="3.9" text-anchor="middle" fill="#666">3</text><path d="M560.94 81.3v1" stroke="#666" stroke-width="0.4"/><text x="560.94" y="85.9" font-size="3.9" text-anchor="middle" fill="#666">4</text><path d="M567.9 81.3v1" stroke="#666" stroke-width="0.4"/><text x="567.9" y="85.9" font-size="3.9" text-anchor="middle" fill="#666">5</text><text x="550.2" y="89.7" font-size="3.9" text-anchor="middle" fill="#666">t [Myr]</text><path d="M531.7 62.3h-1" stroke="#666" stroke-width="0.4"/><text x="530.1" y="63.6" font-size="3.6" text-anchor="end" fill="#777">500</text><path d="M531.7 73.8h-1" stroke="#666" stroke-width="0.4"/><text x="530.1" y="75.1" font-size="3.6" text-anchor="end" fill="#777">400</text><text x="521.2" y="67.4" font-size="3.9" text-anchor="middle" fill="#666" transform="rotate(-90 521.2 67.4)">Elevation [m]</text></svg></body></html>
